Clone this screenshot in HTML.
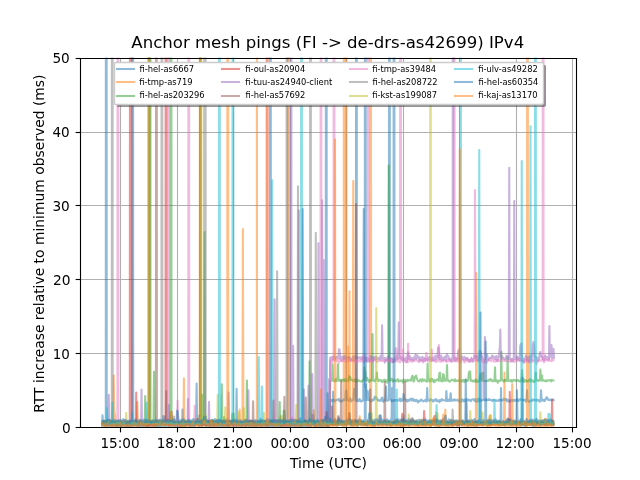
<!DOCTYPE html>
<html><head><meta charset="utf-8"><title>Anchor mesh pings</title>
<style>html,body{margin:0;padding:0;background:#fff;width:640px;height:480px;overflow:hidden}
svg{display:block;width:640px;height:480px}</style></head>
<body>
<svg width="460.8pt" height="345.6pt" viewBox="0 0 460.8 345.6" version="1.1">
 
 <defs>
  <style type="text/css">*{stroke-linejoin: round; stroke-linecap: butt}</style>
 </defs>
 <g id="figure_1">
  <g id="patch_1">
   <path d="M 0 345.6 
L 460.8 345.6 
L 460.8 0 
L 0 0 
z
" style="fill: #ffffff"/>
  </g>
  <g id="axes_1">
   <g id="patch_2">
    <path d="M 57.6 307.584 
L 414.72 307.584 
L 414.72 41.472 
L 57.6 41.472 
z
" style="fill: #ffffff"/>
   </g>
   <g id="matplotlib.axis_1">
    <g id="xtick_1">
     <g id="line2d_1">
      <path d="M 86.7600 307.8000 
L 86.7600 42.1200 
" clip-path="url(#p02d3b5d28d)" style="fill: none; stroke: #b0b0b0; stroke-width: 0.8; stroke-linecap: square"/>
     </g>
     <g id="line2d_2">
      <defs>
       <path id="m1504cfccaf" d="M 0 0 
L 0 3.5 
" style="stroke: #000000; stroke-width: 0.8"/>
      </defs>
      <g>
       <use href="#m1504cfccaf" x="86.7600" y="307.8000" style="stroke: #000000; stroke-width: 0.8"/>
      </g>
     </g>
     <g id="text_1">
      <text textLength="28.224" lengthAdjust="spacingAndGlyphs" style="font-size: 10px; font-family: 'DejaVu Sans', 'Bitstream Vera Sans', 'Computer Modern Sans Serif', 'Lucida Grande', 'Verdana', 'Geneva', 'Lucid', 'Arial', 'Helvetica', 'Avant Garde', sans-serif; text-anchor: middle" x="86.4" y="322.504" transform="rotate(-0 86.4 322.504)">15:00</text>
     </g>
    </g>
    <g id="xtick_2">
     <g id="line2d_3">
      <path d="M 127.8000 307.8000 
L 127.8000 42.1200 
" clip-path="url(#p02d3b5d28d)" style="fill: none; stroke: #b0b0b0; stroke-width: 0.8; stroke-linecap: square"/>
     </g>
     <g id="line2d_4">
      <g>
       <use href="#m1504cfccaf" x="127.8000" y="307.8000" style="stroke: #000000; stroke-width: 0.8"/>
      </g>
     </g>
     <g id="text_2" transform="translate(-0.1800 0.0000)">
      <text textLength="28.080" lengthAdjust="spacingAndGlyphs" style="font-size: 10px; font-family: 'DejaVu Sans', 'Bitstream Vera Sans', 'Computer Modern Sans Serif', 'Lucida Grande', 'Verdana', 'Geneva', 'Lucid', 'Arial', 'Helvetica', 'Avant Garde', sans-serif; text-anchor: middle" x="127.08" y="322.504" transform="rotate(-0 127.08 322.504)">18:00</text>
     </g>
    </g>
    <g id="xtick_3">
     <g id="line2d_5">
      <path d="M 168.1200 307.8000 
L 168.1200 42.1200 
" clip-path="url(#p02d3b5d28d)" style="fill: none; stroke: #b0b0b0; stroke-width: 0.8; stroke-linecap: square"/>
     </g>
     <g id="line2d_6">
      <g>
       <use href="#m1504cfccaf" x="168.1200" y="307.8000" style="stroke: #000000; stroke-width: 0.8"/>
      </g>
     </g>
     <g id="text_3">
      <text textLength="28.656" lengthAdjust="spacingAndGlyphs" style="font-size: 10px; font-family: 'DejaVu Sans', 'Bitstream Vera Sans', 'Computer Modern Sans Serif', 'Lucida Grande', 'Verdana', 'Geneva', 'Lucid', 'Arial', 'Helvetica', 'Avant Garde', sans-serif; text-anchor: middle" x="167.76" y="322.504" transform="rotate(-0 167.76 322.504)">21:00</text>
     </g>
    </g>
    <g id="xtick_4">
     <g id="line2d_7">
      <path d="M 209.1600 307.8000 
L 209.1600 42.1200 
" clip-path="url(#p02d3b5d28d)" style="fill: none; stroke: #b0b0b0; stroke-width: 0.8; stroke-linecap: square"/>
     </g>
     <g id="line2d_8">
      <g>
       <use href="#m1504cfccaf" x="209.1600" y="307.8000" style="stroke: #000000; stroke-width: 0.8"/>
      </g>
     </g>
     <g id="text_4" transform="translate(0.3600 0.0000)">
      <text textLength="28.224" lengthAdjust="spacingAndGlyphs" style="font-size: 10px; font-family: 'DejaVu Sans', 'Bitstream Vera Sans', 'Computer Modern Sans Serif', 'Lucida Grande', 'Verdana', 'Geneva', 'Lucid', 'Arial', 'Helvetica', 'Avant Garde', sans-serif; text-anchor: middle" x="208.44" y="322.504" transform="rotate(-0 208.44 322.504)">00:00</text>
     </g>
    </g>
    <g id="xtick_5">
     <g id="line2d_9">
      <path d="M 249.4800 307.8000 
L 249.4800 42.1200 
" clip-path="url(#p02d3b5d28d)" style="fill: none; stroke: #b0b0b0; stroke-width: 0.8; stroke-linecap: square"/>
     </g>
     <g id="line2d_10">
      <g>
       <use href="#m1504cfccaf" x="249.4800" y="307.8000" style="stroke: #000000; stroke-width: 0.8"/>
      </g>
     </g>
     <g id="text_5">
      <text textLength="28.224" lengthAdjust="spacingAndGlyphs" style="font-size: 10px; font-family: 'DejaVu Sans', 'Bitstream Vera Sans', 'Computer Modern Sans Serif', 'Lucida Grande', 'Verdana', 'Geneva', 'Lucid', 'Arial', 'Helvetica', 'Avant Garde', sans-serif; text-anchor: middle" x="249.12" y="322.504" transform="rotate(-0 249.12 322.504)">03:00</text>
     </g>
    </g>
    <g id="xtick_6">
     <g id="line2d_11">
      <path d="M 290.5200 307.8000 
L 290.5200 42.1200 
" clip-path="url(#p02d3b5d28d)" style="fill: none; stroke: #b0b0b0; stroke-width: 0.8; stroke-linecap: square"/>
     </g>
     <g id="line2d_12">
      <g>
       <use href="#m1504cfccaf" x="290.5200" y="307.8000" style="stroke: #000000; stroke-width: 0.8"/>
      </g>
     </g>
     <g id="text_6" transform="translate(-0.1800 0.0000)">
      <text textLength="28.080" lengthAdjust="spacingAndGlyphs" style="font-size: 10px; font-family: 'DejaVu Sans', 'Bitstream Vera Sans', 'Computer Modern Sans Serif', 'Lucida Grande', 'Verdana', 'Geneva', 'Lucid', 'Arial', 'Helvetica', 'Avant Garde', sans-serif; text-anchor: middle" x="289.8" y="322.504" transform="rotate(-0 289.8 322.504)">06:00</text>
     </g>
    </g>
    <g id="xtick_7">
     <g id="line2d_13">
      <path d="M 330.8400 307.8000 
L 330.8400 42.1200 
" clip-path="url(#p02d3b5d28d)" style="fill: none; stroke: #b0b0b0; stroke-width: 0.8; stroke-linecap: square"/>
     </g>
     <g id="line2d_14">
      <g>
       <use href="#m1504cfccaf" x="330.8400" y="307.8000" style="stroke: #000000; stroke-width: 0.8"/>
      </g>
     </g>
     <g id="text_7">
      <text textLength="28.224" lengthAdjust="spacingAndGlyphs" style="font-size: 10px; font-family: 'DejaVu Sans', 'Bitstream Vera Sans', 'Computer Modern Sans Serif', 'Lucida Grande', 'Verdana', 'Geneva', 'Lucid', 'Arial', 'Helvetica', 'Avant Garde', sans-serif; text-anchor: middle" x="330.48" y="322.504" transform="rotate(-0 330.48 322.504)">09:00</text>
     </g>
    </g>
    <g id="xtick_8">
     <g id="line2d_15">
      <path d="M 371.8800 307.8000 
L 371.8800 42.1200 
" clip-path="url(#p02d3b5d28d)" style="fill: none; stroke: #b0b0b0; stroke-width: 0.8; stroke-linecap: square"/>
     </g>
     <g id="line2d_16">
      <g>
       <use href="#m1504cfccaf" x="371.8800" y="307.8000" style="stroke: #000000; stroke-width: 0.8"/>
      </g>
     </g>
     <g id="text_8" transform="translate(-0.3600 0.0000)">
      <text textLength="28.224" lengthAdjust="spacingAndGlyphs" style="font-size: 10px; font-family: 'DejaVu Sans', 'Bitstream Vera Sans', 'Computer Modern Sans Serif', 'Lucida Grande', 'Verdana', 'Geneva', 'Lucid', 'Arial', 'Helvetica', 'Avant Garde', sans-serif; text-anchor: middle" x="371.16" y="322.504" transform="rotate(-0 371.16 322.504)">12:00</text>
     </g>
    </g>
    <g id="xtick_9">
     <g id="line2d_17">
      <path d="M 412.2000 307.8000 
L 412.2000 42.1200 
" clip-path="url(#p02d3b5d28d)" style="fill: none; stroke: #b0b0b0; stroke-width: 0.8; stroke-linecap: square"/>
     </g>
     <g id="line2d_18">
      <g>
       <use href="#m1504cfccaf" x="412.2000" y="307.8000" style="stroke: #000000; stroke-width: 0.8"/>
      </g>
     </g>
     <g id="text_9">
      <text textLength="28.224" lengthAdjust="spacingAndGlyphs" style="font-size: 10px; font-family: 'DejaVu Sans', 'Bitstream Vera Sans', 'Computer Modern Sans Serif', 'Lucida Grande', 'Verdana', 'Geneva', 'Lucid', 'Arial', 'Helvetica', 'Avant Garde', sans-serif; text-anchor: middle" x="411.84" y="322.504" transform="rotate(-0 411.84 322.504)">15:00</text>
     </g>
    </g>
    <g id="text_10" transform="translate(0.3600 0.3600)">
     <text textLength="55.364" lengthAdjust="spacingAndGlyphs" style="font-size: 10px; font-family: 'DejaVu Sans', 'Bitstream Vera Sans', 'Computer Modern Sans Serif', 'Lucida Grande', 'Verdana', 'Geneva', 'Lucid', 'Arial', 'Helvetica', 'Avant Garde', sans-serif; text-anchor: middle" x="236.16" y="336.584" transform="rotate(-0 236.16 336.584)">Time (UTC)</text>
    </g>
   </g>
   <g id="matplotlib.axis_2">
    <g id="ytick_1">
     <g id="line2d_19">
      <path d="M 57.9600 307.8000 
L 415.0800 307.8000 
" clip-path="url(#p02d3b5d28d)" style="fill: none; stroke: #b0b0b0; stroke-width: 0.8; stroke-linecap: square"/>
     </g>
     <g id="line2d_20">
      <defs>
       <path id="m5d545ce8f8" d="M 0 0 
L -3.5 0 
" style="stroke: #000000; stroke-width: 0.8"/>
      </defs>
      <g>
       <use href="#m5d545ce8f8" x="57.9600" y="307.8000" style="stroke: #000000; stroke-width: 0.8"/>
      </g>
     </g>
     <g id="text_11" transform="translate(0.3600 0.0000)">
      <text textLength="6.293" lengthAdjust="spacingAndGlyphs" style="font-size: 10px; font-family: 'DejaVu Sans', 'Bitstream Vera Sans', 'Computer Modern Sans Serif', 'Lucida Grande', 'Verdana', 'Geneva', 'Lucid', 'Arial', 'Helvetica', 'Avant Garde', sans-serif; text-anchor: end" x="50.6" y="311.544" transform="rotate(-0 50.6 311.544)">0</text>
     </g>
    </g>
    <g id="ytick_2">
     <g id="line2d_21">
      <path d="M 57.9600 254.5200 
L 415.0800 254.5200 
" clip-path="url(#p02d3b5d28d)" style="fill: none; stroke: #b0b0b0; stroke-width: 0.8; stroke-linecap: square"/>
     </g>
     <g id="line2d_22">
      <g>
       <use href="#m5d545ce8f8" x="57.9600" y="254.5200" style="stroke: #000000; stroke-width: 0.8"/>
      </g>
     </g>
     <g id="text_12" transform="translate(-0.3600 0.0000)">
      <text textLength="12.331" lengthAdjust="spacingAndGlyphs" style="font-size: 10px; font-family: 'DejaVu Sans', 'Bitstream Vera Sans', 'Computer Modern Sans Serif', 'Lucida Grande', 'Verdana', 'Geneva', 'Lucid', 'Arial', 'Helvetica', 'Avant Garde', sans-serif; text-anchor: end" x="50.6" y="258.3216" transform="rotate(-0 50.6 258.3216)">10</text>
     </g>
    </g>
    <g id="ytick_3">
     <g id="line2d_23">
      <path d="M 57.9600 201.2400 
L 415.0800 201.2400 
" clip-path="url(#p02d3b5d28d)" style="fill: none; stroke: #b0b0b0; stroke-width: 0.8; stroke-linecap: square"/>
     </g>
     <g id="line2d_24">
      <g>
       <use href="#m5d545ce8f8" x="57.9600" y="201.2400" style="stroke: #000000; stroke-width: 0.8"/>
      </g>
     </g>
     <g id="text_13" transform="translate(0.1800 0.0000)">
      <text textLength="12.649" lengthAdjust="spacingAndGlyphs" style="font-size: 10px; font-family: 'DejaVu Sans', 'Bitstream Vera Sans', 'Computer Modern Sans Serif', 'Lucida Grande', 'Verdana', 'Geneva', 'Lucid', 'Arial', 'Helvetica', 'Avant Garde', sans-serif; text-anchor: end" x="50.6" y="205.0992" transform="rotate(-0 50.6 205.0992)">20</text>
     </g>
    </g>
    <g id="ytick_4">
     <g id="line2d_25">
      <path d="M 57.9600 147.9600 
L 415.0800 147.9600 
" clip-path="url(#p02d3b5d28d)" style="fill: none; stroke: #b0b0b0; stroke-width: 0.8; stroke-linecap: square"/>
     </g>
     <g id="line2d_26">
      <g>
       <use href="#m5d545ce8f8" x="57.9600" y="147.9600" style="stroke: #000000; stroke-width: 0.8"/>
      </g>
     </g>
     <g id="text_14" transform="translate(-0.3600 0.0000)">
      <text textLength="12.522" lengthAdjust="spacingAndGlyphs" style="font-size: 10px; font-family: 'DejaVu Sans', 'Bitstream Vera Sans', 'Computer Modern Sans Serif', 'Lucida Grande', 'Verdana', 'Geneva', 'Lucid', 'Arial', 'Helvetica', 'Avant Garde', sans-serif; text-anchor: end" x="50.6" y="151.8768" transform="rotate(-0 50.6 151.8768)">30</text>
     </g>
    </g>
    <g id="ytick_5">
     <g id="line2d_27">
      <path d="M 57.9600 95.4000 
L 415.0800 95.4000 
" clip-path="url(#p02d3b5d28d)" style="fill: none; stroke: #b0b0b0; stroke-width: 0.8; stroke-linecap: square"/>
     </g>
     <g id="line2d_28">
      <g>
       <use href="#m5d545ce8f8" x="57.9600" y="95.4000" style="stroke: #000000; stroke-width: 0.8"/>
      </g>
     </g>
     <g id="text_15" transform="translate(-0.3600 0.0000)">
      <text textLength="12.458" lengthAdjust="spacingAndGlyphs" style="font-size: 10px; font-family: 'DejaVu Sans', 'Bitstream Vera Sans', 'Computer Modern Sans Serif', 'Lucida Grande', 'Verdana', 'Geneva', 'Lucid', 'Arial', 'Helvetica', 'Avant Garde', sans-serif; text-anchor: end" x="50.6" y="98.6544" transform="rotate(-0 50.6 98.6544)">40</text>
     </g>
    </g>
    <g id="ytick_6">
     <g id="line2d_29">
      <path d="M 57.9600 42.1200 
L 415.0800 42.1200 
" clip-path="url(#p02d3b5d28d)" style="fill: none; stroke: #b0b0b0; stroke-width: 0.8; stroke-linecap: square"/>
     </g>
     <g id="line2d_30">
      <g>
       <use href="#m5d545ce8f8" x="57.9600" y="42.1200" style="stroke: #000000; stroke-width: 0.8"/>
      </g>
     </g>
     <g id="text_16" transform="translate(-0.3600 0.0000)">
      <text textLength="12.522" lengthAdjust="spacingAndGlyphs" style="font-size: 10px; font-family: 'DejaVu Sans', 'Bitstream Vera Sans', 'Computer Modern Sans Serif', 'Lucida Grande', 'Verdana', 'Geneva', 'Lucid', 'Arial', 'Helvetica', 'Avant Garde', sans-serif; text-anchor: end" x="50.6" y="45.432" transform="rotate(-0 50.6 45.432)">50</text>
     </g>
    </g>
    <g id="text_17" transform="translate(-0.3600 0.9000)">
     <text style="font-size: 10px; font-family: 'DejaVu Sans', 'Bitstream Vera Sans', 'Computer Modern Sans Serif', 'Lucida Grande', 'Verdana', 'Geneva', 'Lucid', 'Arial', 'Helvetica', 'Avant Garde', sans-serif; text-anchor: middle" x="31.75" y="174.528" transform="rotate(-90 31.75 174.528)">RTT increase relative to minimum observed (ms)</text>
    </g>
   </g>
   <g id="line2d_31">
    <path d="M 73.476 306.492255 
L 73.8 299.068416 
L 74.124 305.434017 
L 74.703255 305.541813 
L 75.154882 306.926949 
L 75.606509 306.757432 
L 76.176 306.940582 
L 76.238513 -1 
M 76.761549 -1 
L 76.824 306.56431 
L 76.961391 306.56431 
L 77.413018 305.923286 
L 77.864645 307.584 
L 78.316273 305.26892 
L 78.7679 306.596537 
L 79.219527 305.976381 
L 79.671154 306.628578 
L 80.122782 306.8222 
L 80.574409 306.149834 
L 81.026036 305.861313 
L 81.477663 306.681239 
L 81.929291 306.641527 
L 82.380918 305.972134 
L 82.832545 307.214376 
L 83.284172 307.584 
L 83.7358 306.204224 
L 84.187427 307.054889 
L 84.639054 307.584 
L 85.542309 306.892852 
L 85.993936 307.472128 
L 86.445563 307.584 
L 86.897191 306.490303 
L 87.348818 305.803246 
L 87.800445 306.70567 
L 88.252072 307.113191 
L 88.7037 306.212198 
L 89.155327 305.946957 
L 89.606954 306.759061 
L 90.058581 306.084724 
L 90.510209 305.686987 
L 90.961836 306.684773 
L 91.413463 307.169011 
L 91.86509 306.24201 
L 92.316718 306.321927 
L 92.768345 305.64233 
L 93.219972 307.545079 
L 93.671599 307.047741 
L 94.123227 307.188691 
L 94.574854 307.584 
L 95.026481 306.418615 
L 95.478108 306.098187 
L 95.929736 307.109355 
L 96.381363 305.41334 
L 96.83299 305.86338 
L 97.736245 306.198855 
L 98.187872 305.756607 
L 98.639499 307.582919 
L 99.091127 306.02943 
L 99.542754 306.038334 
L 99.994381 307.584 
L 100.446008 306.242505 
L 100.897636 306.719472 
L 101.349263 305.895634 
L 101.80089 306.870071 
L 102.704145 306.245841 
L 103.155772 307.219103 
L 103.607399 306.041671 
L 104.059026 306.603348 
L 104.510654 306.126385 
L 104.962281 306.936154 
L 105.413908 305.652398 
L 105.865535 306.036397 
L 106.317163 306.661676 
L 107.220417 305.513844 
L 107.672045 305.089592 
L 108.123672 307.584 
L 108.575299 305.814516 
L 109.478554 306.594484 
L 109.930181 307.323209 
L 110.381808 305.515893 
L 110.833435 307.526843 
L 111.285063 306.066939 
L 111.73669 305.480224 
L 112.188317 307.584 
L 112.639944 306.761063 
L 113.091572 307.564747 
L 113.994826 305.310572 
L 114.446453 304.904074 
L 114.898081 307.584 
L 115.349708 306.978554 
L 115.801335 305.957887 
L 116.252962 305.258682 
L 117.156217 307.115232 
L 117.607844 299.584349 
L 118.511099 299.984213 
L 118.962726 307.105907 
L 119.414353 306.210389 
L 119.865981 306.273761 
L 120.317608 306.593785 
L 120.769235 306.696533 
L 121.220862 307.545347 
L 121.356 307.545347 
L 121.68 291.61728 
L 122.004 305.5564 
L 122.124117 305.5564 
L 123.027371 307.584 
L 123.478999 305.454218 
L 123.930626 306.096222 
L 124.382253 304.83659 
L 124.83388 306.469646 
L 125.285508 306.887892 
L 125.737135 307.584 
L 126.188762 305.462684 
L 126.640389 304.468218 
L 127.092017 307.174934 
L 127.543644 307.036145 
L 127.995271 306.043593 
L 128.446898 307.182447 
L 128.898526 306.735548 
L 129.350153 306.79884 
L 129.80178 306.366304 
L 130.253408 305.645519 
L 130.705035 306.501935 
L 131.076 306.501935 
L 131.4 294.810624 
L 131.724 306.257859 
L 132.059917 306.257859 
L 132.511544 307.584 
L 132.963171 307.584 
L 133.414798 305.884146 
L 133.866426 306.99069 
L 134.318053 306.056585 
L 134.76968 306.086579 
L 135.221307 305.463929 
L 135.672935 305.871416 
L 136.124562 305.707651 
L 136.576189 306.608703 
L 137.027816 307.077018 
L 137.479444 307.103582 
L 137.931071 306.909175 
L 138.382698 307.421535 
L 139.285953 306.593453 
L 139.73758 306.318681 
L 140.189207 306.790101 
L 140.640834 304.39557 
L 141.092462 303.388828 
L 141.228 303.388828 
L 141.552 276.182784 
L 141.876 305.653776 
L 141.995716 305.653776 
L 142.447344 306.058222 
L 142.898971 307.03333 
L 143.350598 307.097369 
L 143.802225 304.91442 
L 144.253853 305.915501 
L 144.70548 305.057448 
L 145.157107 304.81954 
L 145.608734 307.172658 
L 146.060362 306.211978 
L 147.415243 306.086932 
L 147.866871 306.358245 
L 148.318498 306.380538 
L 148.770125 307.584 
L 149.221752 306.651598 
L 149.67338 307.116404 
L 150.125007 306.418892 
L 150.576634 306.892811 
L 151.028261 306.025765 
L 151.479889 305.865654 
L 151.931516 306.273112 
L 152.383143 306.267144 
L 152.834771 306.445349 
L 153.286398 306.877045 
L 153.738025 306.650879 
L 154.189652 306.915244 
L 154.64128 306.209808 
L 155.092907 306.508285 
L 155.544534 306.055486 
L 155.996161 307.58026 
L 156.447789 305.810806 
L 156.899416 307.12844 
L 157.351043 307.105756 
L 157.80267 306.677178 
L 158.254298 306.969322 
L 158.705925 306.287136 
L 159.157552 306.977928 
L 159.609179 307.373354 
L 160.060807 307.194787 
L 160.512434 305.472148 
L 161.415688 307.451633 
L 161.867316 306.512864 
L 162.318943 307.584 
L 162.77057 305.090877 
L 163.222197 307.584 
L 163.673825 306.137346 
L 164.125452 306.085556 
L 164.577079 307.584 
L 165.028707 306.27983 
L 165.480334 305.723474 
L 165.931961 306.14627 
L 166.383588 306.311173 
L 166.835216 305.761854 
L 167.286843 306.391096 
L 167.73847 306.250972 
L 168.190097 306.62071 
L 168.641725 306.015159 
L 169.093352 307.271093 
L 169.544979 305.887459 
L 170.028 306.922952 
L 170.352 279.908352 
L 170.676 306.227961 
L 170.899861 306.227961 
L 171.351488 305.168005 
L 171.803115 305.75181 
L 172.254743 306.931214 
L 172.70637 305.962266 
L 173.157997 306.882163 
L 174.061252 306.448078 
L 174.512879 307.584 
L 174.964506 306.366579 
L 175.416134 307.341526 
L 175.867761 307.07631 
L 176.319388 307.584 
L 176.771015 307.584 
L 177.222643 307.272594 
L 177.67427 305.860448 
L 178.125897 305.189491 
L 178.577524 306.539674 
L 179.029152 305.647936 
L 179.932406 307.584 
L 180.384033 306.399868 
L 180.835661 306.163775 
L 181.287288 306.861732 
L 181.738915 306.278276 
L 182.190542 306.06246 
L 182.64217 307.208841 
L 183.093797 307.584 
L 183.545424 306.696187 
L 183.997051 306.688049 
L 184.448679 306.801096 
L 184.900306 305.731397 
L 185.351933 305.141952 
L 185.803561 306.852176 
L 186.255188 305.961606 
L 186.706815 305.768373 
L 187.158442 305.950214 
L 187.61007 305.683306 
L 188.061697 306.830299 
L 188.964951 304.903335 
L 189.868206 307.014435 
L 190.319833 306.034393 
L 190.77146 305.511748 
L 191.674715 306.969335 
L 192.126342 305.287655 
L 192.577969 307.517286 
L 193.029597 306.11765 
L 193.481224 306.532466 
L 193.932851 307.472498 
L 194.364 307.472498 
L 194.4266 -1 
M 194.949403 -1 
L 195.012 307.451049 
L 195.287733 307.451049 
L 195.73936 306.039171 
L 196.642615 307.584 
L 197.094242 307.06953 
L 197.545869 306.309149 
L 197.997497 306.012048 
L 198.449124 306.387376 
L 198.900751 306.483495 
L 199.352378 306.144342 
L 199.804006 306.687982 
L 200.255633 305.579947 
L 200.70726 306.400886 
L 201.610515 306.087813 
L 202.062142 307.363528 
L 202.513769 307.085753 
L 202.965396 305.299232 
L 203.417024 306.251863 
L 203.868651 306.745175 
L 204.320278 306.246933 
L 204.771905 306.904048 
L 205.223533 306.297163 
L 205.67516 307.051141 
L 206.126787 306.299196 
L 206.578414 307.584 
L 207.030042 305.457031 
L 207.481669 306.929065 
L 207.933296 307.584 
L 208.384924 306.698253 
L 208.836551 306.815732 
L 209.288178 306.397887 
L 209.739805 307.433847 
L 210.191433 306.202241 
L 210.64306 303.626727 
L 211.094687 307.540358 
L 211.546314 306.249941 
L 211.997942 306.76761 
L 212.449569 306.365786 
L 212.901196 307.584 
L 213.352823 307.438444 
L 213.804451 306.152589 
L 214.256078 306.550222 
L 214.707705 305.214082 
L 215.159332 307.082217 
L 215.61096 306.380243 
L 216.062587 304.193902 
L 216.514214 307.130727 
L 216.965841 307.241115 
L 217.417469 306.547598 
L 217.869096 306.555128 
L 218.320723 305.845623 
L 219.223978 307.123684 
L 219.675605 306.350767 
L 220.127232 304.413065 
L 220.57886 305.504249 
L 221.030487 307.584 
L 221.482114 306.632929 
L 221.933741 307.218168 
L 222.385369 306.022777 
L 222.836996 306.657874 
L 223.288623 304.976611 
L 223.74025 305.776113 
L 224.191878 305.808711 
L 224.643505 298.780379 
L 225.095132 298.961497 
L 225.546759 298.657748 
L 225.998387 305.485484 
L 226.901641 306.799874 
L 227.353268 305.501606 
L 227.804896 306.366183 
L 228.256523 306.581515 
L 228.70815 307.151337 
L 229.159777 306.971404 
L 229.611405 307.027331 
L 230.063032 307.584 
L 230.514659 305.707767 
L 230.966287 306.067313 
L 231.417914 306.690612 
L 231.869541 302.253542 
L 232.321168 302.738928 
L 232.772796 306.222916 
L 233.224423 307.584 
L 233.67605 306.705577 
L 234.127677 306.094686 
L 234.576 306.094686 
L 234.638374 -1 
M 235.161743 -1 
L 235.224 305.381254 
L 235.482559 305.381254 
L 235.934186 307.446907 
L 236.385814 307.584 
L 236.837441 306.064126 
L 237.289068 306.497505 
L 237.740695 287.903045 
L 238.192323 288.740335 
L 238.64395 287.94065 
L 239.095577 288.768078 
L 239.547204 287.986959 
L 239.998832 288.432233 
L 240.450459 287.627457 
L 240.902086 288.163183 
L 241.353713 289.081354 
L 241.805341 288.297508 
L 242.708595 287.790957 
L 243.160223 287.626828 
L 243.61185 288.022783 
L 244.063477 287.198323 
L 244.515104 288.888986 
L 244.966732 288.332367 
L 245.418359 288.963473 
L 245.869986 288.572784 
L 246.321613 288.867182 
L 246.773241 288.642889 
L 247.224868 287.685002 
L 247.676495 288.293832 
L 248.128122 287.461616 
L 248.57975 288.019605 
L 249.031377 281.481253 
L 249.483004 281.121758 
L 249.934631 288.495771 
L 250.386259 288.320622 
L 250.837886 287.642578 
L 251.74114 288.490359 
L 252.192768 286.630711 
L 252.644395 289.138474 
L 253.096022 288.187836 
L 253.54765 288.066192 
L 253.999277 288.337494 
L 254.450904 287.949615 
L 254.902531 279.954424 
L 255.354159 279.823266 
L 255.805786 279.868937 
L 256.284 288.357385 
L 256.343433 -1 
M 256.872481 -1 
L 256.932 288.874622 
L 257.160668 288.874622 
L 257.612295 288.048891 
L 258.063922 288.771429 
L 258.515549 287.592096 
L 258.967177 287.336031 
L 259.418804 288.512749 
L 259.870431 289.057992 
L 260.322058 289.081608 
L 260.773686 288.457122 
L 261.576 288.390612 
L 261.9 150.57792 
L 262.224 278.408116 
L 262.580195 278.408116 
L 263.031822 278.677158 
L 263.483449 276.813357 
L 263.935076 288.139235 
L 264.386704 281.258728 
L 264.838331 281.745146 
L 265.289958 288.028998 
L 265.741586 288.201829 
L 266.193213 287.872234 
L 266.64484 288.229771 
L 267.096467 288.980557 
L 267.548095 288.91993 
L 267.999722 287.732163 
L 268.451349 287.845458 
L 268.902976 288.212493 
L 269.354604 287.865507 
L 269.806231 285.664615 
L 270.257858 286.903556 
L 270.709485 285.764198 
L 271.161113 287.194985 
L 271.61274 287.47951 
L 272.064367 288.372752 
L 272.515994 287.836006 
L 273.419249 288.720788 
L 274.322503 288.437655 
L 274.774131 286.529445 
L 275.225758 286.315755 
L 275.677385 288.900294 
L 276.129013 289.212856 
L 276.58064 288.606341 
L 277.032267 287.650732 
L 277.483894 288.141659 
L 277.935522 278.366608 
L 278.387149 288.471509 
L 278.838776 288.538755 
L 279.742031 288.059292 
L 280.044 288.059292 
L 280.103383 -1 
M 280.632711 -1 
L 280.692 287.501549 
L 281.096912 287.501549 
L 281.54854 287.8286 
L 282.000167 289.054548 
L 282.451794 288.365569 
L 282.903421 288.282659 
L 283.355049 288.758755 
L 283.806676 288.047241 
L 284.258303 288.382008 
L 285.161558 288.081032 
L 285.613185 288.580988 
L 286.064812 287.956716 
L 286.516439 288.463972 
L 287.419694 288.006404 
L 287.871321 286.960733 
L 288.322949 288.84177 
L 288.774576 287.372411 
L 289.67783 288.627517 
L 290.129458 288.361146 
L 290.581085 283.638429 
L 291.032712 287.690387 
L 291.935967 287.806228 
L 292.387594 287.700072 
L 292.839221 288.747229 
L 293.290848 289.118422 
L 293.742476 287.890209 
L 294.64573 288.635224 
L 295.097357 287.546918 
L 295.548985 287.094557 
L 296.000612 287.448648 
L 296.452239 288.350085 
L 296.903866 287.037952 
L 297.355494 287.297867 
L 297.807121 288.756367 
L 298.258748 287.962839 
L 298.710376 288.190698 
L 299.162003 288.790453 
L 299.61363 287.935273 
L 300.065257 287.961619 
L 300.516885 289.033158 
L 300.968512 289.7871 
L 301.420139 288.735775 
L 301.871766 288.547774 
L 302.323394 288.778629 
L 302.775021 288.431229 
L 303.226648 287.532796 
L 304.58153 289.024481 
L 305.033157 288.575754 
L 305.484784 288.613888 
L 305.936412 288.337171 
L 306.388039 287.731356 
L 306.839666 288.995574 
L 307.26 288.995574 
L 307.584 279.376128 
L 307.908 288.008895 
L 308.646175 288.092395 
L 309.097803 288.684295 
L 309.54943 288.472988 
L 310.001057 287.237665 
L 310.452684 288.073284 
L 310.904312 287.95702 
L 311.355939 288.313707 
L 311.807566 289.160477 
L 312.259193 288.152411 
L 312.710821 288.093419 
L 313.162448 288.453415 
L 313.614075 287.42753 
L 314.065702 287.742432 
L 314.51733 288.92901 
L 314.968957 288.287081 
L 315.420584 288.752002 
L 315.872211 288.269044 
L 316.323839 289.646365 
L 316.775466 288.053338 
L 317.227093 288.066833 
L 317.67872 288.705667 
L 318.130348 287.329559 
L 318.581975 287.891519 
L 319.033602 288.146591 
L 319.485229 288.06616 
L 320.388484 288.476213 
L 321.084 288.379489 
L 321.408 281.505024 
L 321.743366 288.684753 
L 322.194993 288.745857 
L 322.64662 287.572977 
L 323.098248 288.524911 
L 323.549875 288.064022 
L 324.001502 288.709242 
L 324.453129 283.096971 
L 324.904757 288.522524 
L 325.356384 288.521986 
L 326.259638 288.008043 
L 326.711266 288.292506 
L 327.162893 287.432915 
L 327.61452 288.012585 
L 328.066147 288.398914 
L 328.517775 288.09658 
L 328.969402 287.974176 
L 329.421029 287.731094 
L 330.324284 289.038338 
L 330.775911 289.021577 
L 331.227538 289.164604 
L 331.679166 287.614445 
L 332.130793 289.173091 
L 332.58242 287.486817 
L 333.034047 288.110083 
L 333.485675 287.811 
L 333.937302 289.047265 
L 334.840556 287.644916 
L 335.292184 288.600642 
L 335.743811 287.389223 
L 336.195438 287.905662 
L 336.647065 288.205293 
L 337.098693 287.494197 
L 337.55032 288.248137 
L 338.001947 288.03632 
L 338.453574 287.951373 
L 338.905202 288.863403 
L 339.356829 288.001568 
L 339.808456 287.616388 
L 340.260083 287.664235 
L 340.711711 287.375738 
L 341.614965 288.631192 
L 342.066592 287.254295 
L 342.51822 289.059534 
L 342.969847 287.850951 
L 343.421474 289.359132 
L 344.324729 287.044012 
L 344.776356 288.988168 
L 345.227983 287.261009 
L 345.679611 288.337743 
L 346.131238 288.550906 
L 346.582865 288.264815 
L 347.034492 288.277295 
L 347.48612 287.896392 
L 347.937747 287.808527 
L 348.841001 288.00888 
L 349.292629 288.26793 
L 349.744256 287.238894 
L 350.195883 287.573272 
L 350.64751 288.207033 
L 351.550765 287.932625 
L 352.002392 287.289008 
L 352.454019 288.051016 
L 352.905647 288.055397 
L 353.357274 287.824268 
L 353.808901 287.948812 
L 354.260529 288.562384 
L 354.712156 288.766024 
L 355.163783 287.736835 
L 355.61541 287.946456 
L 356.067038 288.033137 
L 356.970292 288.542902 
L 357.421919 288.287901 
L 357.873547 288.616034 
L 358.325174 288.621822 
L 358.776801 288.345301 
L 359.228428 287.864266 
L 359.680056 288.506175 
L 360.131683 287.83936 
L 360.58331 287.703587 
L 361.486565 288.441465 
L 361.938192 287.849821 
L 362.389819 287.832237 
L 362.841446 287.072108 
L 363.293074 288.149576 
L 363.744701 287.673075 
L 364.647955 287.290874 
L 365.099583 289.060057 
L 365.55121 287.930373 
L 366.002837 288.242155 
L 366.454465 288.415079 
L 366.906092 289.435915 
L 367.357719 288.600257 
L 367.809346 288.374005 
L 368.260974 287.810886 
L 368.712601 288.628842 
L 369.164228 287.919902 
L 369.615855 288.84334 
L 370.067483 288.196677 
L 370.51911 287.93803 
L 370.970737 288.538786 
L 371.422364 288.478075 
L 371.873992 288.086212 
L 372.325619 287.26318 
L 373.228873 288.800785 
L 373.680501 288.142786 
L 374.583755 287.328026 
L 375.035382 287.958191 
L 375.938637 288.004261 
L 376.390264 287.877571 
L 376.841892 287.933311 
L 377.293519 288.321545 
L 377.745146 287.701562 
L 378.648401 289.107515 
L 379.116 288.474365 
L 379.44 280.9728 
L 379.764 287.962706 
L 380.003282 287.962706 
L 380.906537 289.511113 
L 381.358164 288.859272 
L 381.809791 288.411502 
L 382.261419 288.728234 
L 382.713046 288.701626 
L 383.164673 287.767324 
L 383.6163 288.501326 
L 384.067928 287.667015 
L 384.519555 287.817387 
L 384.971182 287.786772 
L 385.422809 288.206155 
L 385.874437 288.447255 
L 386.326064 287.664968 
L 386.777691 288.425609 
L 387.229318 287.934149 
L 387.680946 288.06826 
L 388.132573 288.472009 
L 388.5842 289.338263 
L 389.035828 288.137298 
L 389.196 288.137298 
L 389.52 280.9728 
L 389.939082 288.448674 
L 390.390709 287.513242 
L 390.842337 288.308397 
L 391.293964 288.485161 
L 391.745591 287.788266 
L 392.197218 288.792402 
L 393.5521 285.978276 
L 394.003727 286.423018 
L 394.455355 287.731262 
L 394.906982 287.571248 
L 395.358609 288.165677 
L 396.713491 287.587793 
L 397.165118 288.32614 
L 397.616745 288.079226 
L 398.068373 287.479434 
L 398.52 288.019157 
L 398.52 288.019157 
" clip-path="url(#p02d3b5d28d)" style="fill: none; stroke: #1f77b4; stroke-opacity: 0.5; stroke-width: 1.5; stroke-linecap: square"/>
   </g>
   <g id="line2d_32">
    <path d="M 73.8 304.199624 
L 74.251627 304.613239 
L 75.606509 302.920173 
L 76.058136 304.08631 
L 76.509764 302.97876 
L 76.961391 303.114802 
L 77.864645 304.923108 
L 78.316273 303.31327 
L 78.7679 303.468584 
L 79.219527 302.354417 
L 80.122782 303.357488 
L 80.574409 302.77862 
L 81.026036 304.526014 
L 81.576 303.732615 
L 81.9 270.32832 
L 82.224 297.280506 
L 82.380918 297.280506 
L 82.832545 298.032139 
L 83.284172 305.809188 
L 83.7358 302.979461 
L 84.187427 304.433426 
L 84.639054 303.357182 
L 85.090682 304.158858 
L 85.542309 303.696069 
L 85.993936 303.445935 
L 86.445563 303.727251 
L 86.897191 304.460058 
L 87.348818 302.956645 
L 87.800445 303.596311 
L 88.252072 303.860236 
L 88.7037 303.398168 
L 89.155327 304.190761 
L 89.606954 302.643948 
L 90.058581 303.704507 
L 90.961836 303.625889 
L 91.413463 304.430306 
L 91.86509 304.59721 
L 92.316718 303.708257 
L 92.768345 303.621694 
L 93.219972 302.986915 
L 93.671599 303.558219 
L 94.123227 304.542003 
L 94.574854 303.510081 
L 95.478108 303.205471 
L 95.929736 303.632974 
L 96.381363 304.626294 
L 96.83299 303.104354 
L 97.284618 304.313576 
L 97.736245 303.479668 
L 98.187872 304.850768 
L 98.532 304.850768 
L 98.856 289.488384 
L 99.18 303.154902 
L 99.542754 303.154902 
L 99.994381 302.719614 
L 100.446008 303.099408 
L 100.897636 304.592525 
L 101.80089 304.402965 
L 102.252517 303.423857 
L 103.155772 303.746101 
L 104.510654 303.43167 
L 104.962281 302.768714 
L 105.413908 303.883951 
L 105.865535 303.718438 
L 106.317163 305.034147 
L 106.76879 304.69467 
L 107.064 304.69467 
L 107.10543 -1 
M 107.45458 -1 
L 107.496 304.607676 
L 107.672045 304.607676 
L 108.123672 303.70952 
L 108.575299 303.185941 
L 109.026926 304.129632 
L 109.930181 304.179335 
L 110.381808 303.7694 
L 110.833435 304.201425 
L 111.285063 303.581287 
L 112.188317 303.634666 
L 112.639944 303.367035 
L 113.091572 303.835385 
L 113.543199 303.764021 
L 113.994826 302.732457 
L 114.446453 303.885799 
L 114.898081 303.34727 
L 115.801335 304.150422 
L 116.252962 304.150181 
L 116.70459 304.382396 
L 117.156217 303.851183 
L 117.607844 304.244702 
L 118.059471 304.129259 
L 118.511099 303.080307 
L 118.962726 303.944447 
L 119.414353 303.131023 
L 119.865981 303.689711 
L 120.317608 303.30888 
L 120.769235 304.249648 
L 121.220862 303.765602 
L 121.67249 302.176539 
L 122.124117 303.331567 
L 122.575744 303.219391 
L 123.027371 303.711498 
L 123.478999 303.313089 
L 123.930626 304.603253 
L 124.382253 304.404786 
L 124.83388 303.587658 
L 125.285508 303.338016 
L 125.737135 304.123963 
L 126.188762 303.982124 
L 126.640389 304.093746 
L 127.092017 303.983008 
L 127.543644 304.63017 
L 127.995271 304.779015 
L 128.446898 303.916621 
L 128.898526 304.974688 
L 129.350153 304.490335 
L 129.80178 304.287557 
L 130.253408 304.538905 
L 130.705035 303.714992 
L 131.156662 304.152721 
L 131.608289 303.920218 
L 132.084 304.514548 
L 132.408 272.457216 
L 132.732 303.543625 
L 133.414798 303.639618 
L 133.866426 304.169264 
L 134.318053 303.64048 
L 135.221307 303.772258 
L 135.672935 302.856132 
L 136.124562 304.131196 
L 136.576189 303.607861 
L 137.027816 303.607044 
L 137.479444 304.026209 
L 137.931071 304.62117 
L 138.382698 303.436525 
L 138.834325 303.711128 
L 139.285953 303.847321 
L 140.189207 303.866801 
L 140.640834 304.452119 
L 141.092462 301.544724 
L 141.544089 302.883623 
L 141.995716 301.749629 
L 142.447344 304.840029 
L 143.350598 303.429185 
L 143.82 304.052366 
L 143.882039 -1 
M 144.406042 -1 
L 144.468 303.560185 
L 144.70548 303.560185 
L 145.157107 304.06085 
L 146.060362 304.141193 
L 146.511989 302.924947 
L 146.963616 303.466795 
L 147.415243 303.584458 
L 147.866871 304.652163 
L 148.318498 303.497174 
L 148.770125 304.718913 
L 149.221752 303.587515 
L 149.67338 304.606838 
L 150.125007 302.647769 
L 150.576634 304.970534 
L 151.028261 303.115295 
L 151.479889 303.384357 
L 151.931516 305.030018 
L 152.834771 302.974374 
L 153.286398 303.171475 
L 153.738025 304.956288 
L 154.189652 304.229467 
L 154.64128 304.64707 
L 155.092907 304.552133 
L 155.544534 304.308031 
L 155.996161 302.72232 
L 156.447789 303.813286 
L 156.899416 304.042856 
L 157.351043 304.112557 
L 157.80267 303.473565 
L 158.254298 303.45778 
L 158.705925 304.48618 
L 159.157552 302.962252 
L 159.609179 304.590878 
L 160.512434 303.611876 
L 160.964061 302.807216 
L 161.415688 304.120799 
L 161.867316 303.717208 
L 162.318943 303.068079 
L 162.77057 303.501853 
L 163.222197 303.18011 
L 163.673825 303.236907 
L 164.125452 303.734001 
L 165.028707 303.314618 
L 165.480334 303.917732 
L 165.931961 302.879312 
L 166.383588 305.168337 
L 166.835216 304.487917 
L 167.286843 302.977912 
L 168.190097 304.311158 
L 168.641725 303.658381 
L 169.093352 303.205802 
L 169.544979 304.256646 
L 169.996606 303.409228 
L 170.448234 303.977564 
L 171.351488 303.94364 
L 171.803115 303.189537 
L 172.26 304.614308 
L 172.584 294.810624 
L 172.908 303.476112 
L 173.157997 303.476112 
L 173.609624 304.677623 
L 174.061252 304.90867 
L 174.564 303.535718 
L 174.888 164.947968 
L 175.212 303.992966 
L 175.416134 303.992966 
L 175.867761 303.808062 
L 176.319388 304.519767 
L 176.771015 302.038753 
L 177.222643 304.52737 
L 177.67427 304.176895 
L 178.125897 304.806747 
L 178.577524 304.164461 
L 179.029152 302.924158 
L 179.480779 303.886798 
L 179.932406 303.519008 
L 180.384033 304.207613 
L 180.835661 302.740957 
L 181.738915 304.696124 
L 182.190542 303.407122 
L 182.64217 304.134937 
L 183.093797 303.511243 
L 183.545424 303.810013 
L 183.997051 303.730629 
L 184.448679 303.811681 
L 184.932 304.477215 
L 184.938901 -1 
M 184.997092 -1 
L 185.004 304.858323 
L 185.351933 304.858323 
L 185.803561 303.275809 
L 186.255188 303.985603 
L 186.706815 303.716693 
L 187.158442 304.195401 
L 187.61007 305.191327 
L 188.061697 304.714761 
L 188.513324 303.008171 
L 188.964951 304.400926 
L 189.416579 304.143881 
L 189.868206 304.836678 
L 190.319833 304.236731 
L 191.674715 303.947333 
L 192.126342 304.303754 
L 192.577969 304.26746 
L 193.029597 303.909614 
L 193.481224 303.694858 
L 193.932851 303.991898 
L 194.384478 302.788372 
L 194.836106 303.770272 
L 195.287733 303.798686 
L 195.73936 304.320726 
L 196.190987 303.246009 
L 196.642615 304.555858 
L 197.094242 304.935743 
L 197.545869 304.525359 
L 197.997497 303.507318 
L 198.449124 304.63377 
L 198.900751 303.076663 
L 199.804006 304.871561 
L 200.255633 304.049691 
L 200.70726 302.764483 
L 201.158887 304.452887 
L 201.610515 304.74022 
L 202.062142 299.940824 
L 202.513769 299.433887 
L 202.965396 303.254891 
L 203.417024 304.113853 
L 203.868651 303.784262 
L 204.320278 303.696531 
L 205.223533 302.531862 
L 205.67516 303.972971 
L 206.126787 303.07435 
L 206.578414 304.123839 
L 207.030042 303.527985 
L 207.18 303.527985 
L 207.241953 -1 
M 207.765905 -1 
L 207.933296 304.392126 
L 208.384924 303.638995 
L 208.836551 304.476904 
L 209.288178 303.337657 
L 209.739805 304.25585 
L 210.191433 303.854703 
L 211.094687 304.117115 
L 211.546314 303.820547 
L 211.997942 303.214907 
L 212.449569 301.920976 
L 212.901196 304.66218 
L 213.352823 303.712489 
L 213.804451 304.016277 
L 214.256078 304.487446 
L 214.707705 303.721286 
L 215.159332 304.465343 
L 215.61096 303.954068 
L 216.062587 303.112374 
L 216.514214 305.194863 
L 216.965841 303.745981 
L 217.417469 303.61883 
L 217.869096 304.515582 
L 218.320723 303.569555 
L 218.77235 303.679609 
L 219.223978 304.126996 
L 219.675605 303.130054 
L 220.127232 304.739101 
L 220.57886 303.493406 
L 221.482114 304.57882 
L 221.933741 304.01755 
L 222.385369 304.127223 
L 222.836996 303.381212 
L 223.288623 304.859118 
L 223.74025 304.028499 
L 224.191878 304.195222 
L 224.643505 302.899722 
L 225.095132 304.618446 
L 225.576 303.228375 
L 225.9 295.342848 
L 226.224 303.68547 
L 226.450014 303.68547 
L 226.901641 303.992526 
L 227.353268 303.66481 
L 228.256523 305.15305 
L 228.70815 304.894482 
L 229.159777 303.070072 
L 230.063032 304.461406 
L 230.514659 303.33534 
L 230.966287 304.386419 
L 231.417914 304.382956 
L 231.869541 304.686194 
L 232.321168 303.159981 
L 232.772796 302.659058 
L 233.224423 304.528546 
L 233.67605 303.728663 
L 234.127677 303.289481 
L 234.579305 302.563343 
L 235.030932 305.446377 
L 235.482559 303.825229 
L 235.934186 303.503678 
L 236.385814 304.861291 
L 236.837441 303.656191 
L 237.289068 303.791078 
L 237.740695 303.455463 
L 238.192323 304.289801 
L 238.64395 303.65126 
L 239.095577 304.304844 
L 239.547204 303.531481 
L 240.450459 304.159523 
L 240.902086 304.823056 
L 241.353713 302.866603 
L 241.805341 303.210909 
L 242.256968 303.357335 
L 242.708595 304.343671 
L 243.160223 304.143121 
L 243.61185 302.852664 
L 244.063477 303.443825 
L 244.515104 304.463145 
L 244.966732 303.889319 
L 245.418359 303.828372 
L 245.869986 304.046037 
L 246.321613 304.520804 
L 246.773241 303.116405 
L 247.224868 303.541019 
L 247.5 303.541019 
L 247.561955 -1 
M 248.085922 -1 
L 248.148 304.288791 
L 248.57975 304.288791 
L 249.031377 303.918397 
L 249.483004 303.360705 
L 249.934631 304.150604 
L 250.386259 303.205975 
L 251.316 304.388211 
L 251.64 209.654784 
L 251.964 304.661783 
L 252.192768 304.661783 
L 252.644395 304.86324 
L 253.096022 304.00745 
L 253.54765 303.697716 
L 253.999277 303.021729 
L 254.902531 304.648313 
L 255.354159 302.405595 
L 255.805786 303.708682 
L 256.257413 304.07547 
L 256.70904 304.074337 
L 257.160668 304.769891 
L 257.612295 303.499814 
L 258.063922 303.666811 
L 258.515549 302.890342 
L 258.967177 303.200608 
L 259.418804 303.349301 
L 259.870431 303.099723 
L 260.322058 304.084402 
L 260.773686 304.185682 
L 261.225313 303.933427 
L 261.67694 304.696957 
L 262.128567 303.991909 
L 262.580195 304.110343 
L 263.031822 303.47206 
L 263.483449 303.907936 
L 263.935076 305.116843 
L 264.386704 303.877933 
L 264.838331 302.992325 
L 265.289958 305.068465 
L 266.193213 303.884287 
L 266.508 303.884287 
L 266.570011 -1 
M 267.093993 -1 
L 267.156 303.857806 
L 267.548095 303.857806 
L 267.999722 304.735676 
L 268.451349 303.704532 
L 268.902976 303.630484 
L 269.354604 304.701327 
L 270.257858 303.200477 
L 270.709485 304.001839 
L 271.161113 303.610699 
L 271.61274 303.477572 
L 272.064367 304.037819 
L 272.515994 303.259638 
L 272.967622 303.640834 
L 273.419249 304.519064 
L 273.870876 303.551853 
L 274.322503 303.332376 
L 274.774131 303.370038 
L 275.225758 304.294684 
L 276.129013 303.005396 
L 276.58064 303.733975 
L 277.032267 303.124127 
L 277.483894 303.049207 
L 277.935522 303.902513 
L 278.387149 303.456719 
L 278.838776 304.063571 
L 279.290403 303.195265 
L 279.742031 303.934909 
L 280.193658 304.227677 
L 280.645285 303.892408 
L 281.096912 303.921988 
L 281.54854 303.631185 
L 282.000167 303.577646 
L 282.451794 304.618365 
L 282.903421 304.290143 
L 283.355049 303.643786 
L 283.806676 303.565914 
L 284.258303 303.817803 
L 284.70993 302.18979 
L 285.613185 303.918685 
L 286.516439 303.013621 
L 286.968067 303.633845 
L 287.419694 304.981188 
L 287.871321 303.803281 
L 288.322949 303.832067 
L 288.774576 302.501411 
L 289.226203 305.036365 
L 289.67783 302.874151 
L 290.129458 303.960565 
L 290.581085 303.265198 
L 291.032712 304.045705 
L 291.484339 303.746298 
L 291.935967 303.134786 
L 292.387594 303.802931 
L 292.839221 303.182791 
L 293.290848 303.907119 
L 293.742476 304.116641 
L 294.194103 303.99412 
L 294.64573 304.175106 
L 295.097357 303.930112 
L 295.548985 302.982863 
L 296.000612 304.599633 
L 296.452239 304.912342 
L 297.355494 302.774852 
L 297.807121 303.181717 
L 298.258748 303.004924 
L 298.710376 303.050467 
L 299.162003 304.314307 
L 299.61363 303.772337 
L 300.065257 305.546883 
L 300.516885 304.236248 
L 300.968512 303.458594 
L 301.420139 304.840433 
L 301.871766 305.161726 
L 302.323394 304.674695 
L 302.775021 303.704519 
L 303.226648 303.097562 
L 303.678275 302.190012 
L 304.129903 302.927239 
L 304.58153 304.808115 
L 305.033157 305.320981 
L 305.484784 303.742028 
L 305.936412 303.159903 
L 306.388039 304.868841 
L 306.839666 304.167824 
L 307.291293 304.12006 
L 307.742921 303.809518 
L 308.194548 303.944658 
L 309.097803 303.151485 
L 309.54943 303.779828 
L 310.001057 303.34516 
L 310.452684 302.550215 
L 310.904312 304.474855 
L 311.355939 304.490252 
L 312.259193 302.635833 
L 312.710821 303.711128 
L 313.162448 303.118649 
L 313.614075 304.012502 
L 314.065702 303.229612 
L 314.51733 304.213784 
L 314.968957 303.381569 
L 315.420584 303.558709 
L 315.872211 303.557974 
L 316.323839 302.929405 
L 316.775466 303.12527 
L 317.227093 304.188274 
L 317.67872 303.238957 
L 318.130348 304.888098 
L 318.581975 303.169685 
L 319.033602 302.043681 
L 319.485229 303.459367 
L 320.292 303.472246 
L 320.616 294.810624 
L 320.94 304.079636 
L 321.291739 304.079636 
L 321.743366 303.361141 
L 322.194993 303.961551 
L 322.64662 304.057486 
L 323.098248 303.705767 
L 323.549875 303.822067 
L 324.001502 304.891202 
L 324.453129 302.455442 
L 325.356384 304.863182 
L 325.808011 303.091424 
L 326.259638 303.797512 
L 326.711266 303.648454 
L 327.162893 303.32727 
L 327.61452 304.350407 
L 328.066147 305.658716 
L 328.517775 303.842325 
L 328.969402 303.623841 
L 329.421029 303.138023 
L 329.872656 304.261817 
L 330.775911 303.523351 
L 331.227538 303.980405 
L 331.679166 303.937692 
L 332.130793 303.615583 
L 332.58242 304.414525 
L 333.034047 302.766729 
L 333.485675 304.367605 
L 333.937302 303.755621 
L 334.840556 304.231185 
L 335.292184 303.437418 
L 336.195438 302.849779 
L 337.098693 304.066337 
L 337.55032 303.229292 
L 338.001947 304.70313 
L 338.453574 303.749648 
L 338.905202 303.447735 
L 339.356829 303.421649 
L 339.808456 304.518523 
L 340.260083 304.740496 
L 340.711711 302.723736 
L 341.163338 304.112687 
L 341.614965 304.839074 
L 342.066592 304.579691 
L 342.612 303.780595 
L 342.936 196.349184 
L 343.26 303.793159 
L 343.421474 303.793159 
L 343.873102 303.025785 
L 344.324729 303.649035 
L 344.776356 303.493325 
L 345.227983 303.166942 
L 345.679611 304.036796 
L 346.131238 303.608443 
L 346.582865 304.046229 
L 347.034492 304.206271 
L 347.48612 303.381099 
L 347.937747 304.325607 
L 348.389374 303.750892 
L 348.841001 304.308178 
L 349.292629 303.860814 
L 349.744256 304.141728 
L 350.195883 303.107111 
L 350.64751 303.756459 
L 351.099138 303.759173 
L 351.550765 302.757166 
L 352.002392 305.660822 
L 352.454019 299.741553 
L 352.905647 300.781413 
L 353.357274 299.03786 
L 353.808901 303.540948 
L 354.260529 303.411296 
L 354.712156 303.652431 
L 355.163783 304.382142 
L 355.61541 302.706922 
L 356.067038 303.63292 
L 356.518665 303.995549 
L 356.970292 304.546201 
L 357.421919 303.562753 
L 357.873547 304.146145 
L 358.325174 304.120828 
L 358.776801 303.702341 
L 359.228428 303.696314 
L 359.680056 304.360657 
L 360.131683 303.036709 
L 360.58331 304.478026 
L 361.034937 304.552091 
L 361.486565 303.642893 
L 362.916 304.104563 
L 363.24 268.199424 
L 363.564 304.202518 
L 363.744701 304.202518 
L 364.196328 304.896364 
L 364.647955 303.374199 
L 365.099583 304.491365 
L 366.002837 303.378016 
L 366.454465 303.829847 
L 366.906092 302.094164 
L 367.357719 304.73968 
L 368.260974 303.790233 
L 368.712601 302.98062 
L 369.615855 304.762083 
L 370.067483 303.117931 
L 370.51911 304.437197 
L 370.970737 303.975588 
L 371.422364 303.286334 
L 371.873992 304.277287 
L 372.325619 304.13868 
L 372.777246 303.539043 
L 373.228873 303.981042 
L 373.680501 303.668288 
L 374.132128 304.45619 
L 374.583755 303.928101 
L 375.035382 304.549797 
L 375.48701 304.847675 
L 375.938637 302.731983 
L 376.390264 303.563518 
L 376.841892 303.268593 
L 377.293519 304.472451 
L 377.745146 303.872893 
L 378.196773 303.986036 
L 378.648401 304.762436 
L 379.100028 303.506185 
L 379.476 303.506185 
L 379.537949 -1 
M 380.061834 -1 
L 380.124 304.824413 
L 380.45491 304.824413 
L 380.906537 303.221404 
L 381.809791 303.605061 
L 382.261419 304.436439 
L 382.713046 304.199904 
L 383.164673 303.075374 
L 383.6163 304.032516 
L 384.067928 303.685315 
L 384.519555 303.765917 
L 384.971182 304.570228 
L 385.422809 302.882344 
L 385.874437 305.122875 
L 386.326064 303.712804 
L 386.777691 303.911788 
L 387.229318 304.889127 
L 387.680946 303.643793 
L 388.132573 303.52364 
L 388.5842 303.822845 
L 389.035828 304.384502 
L 389.487455 303.568447 
L 389.939082 303.14389 
L 390.390709 303.714563 
L 390.842337 302.754774 
L 391.293964 303.307024 
L 391.745591 303.364194 
L 392.197218 302.967583 
L 392.648846 301.545733 
L 393.100473 301.456164 
L 393.5521 303.526068 
L 394.003727 303.523576 
L 394.455355 302.891262 
L 394.906982 303.123375 
L 395.358609 303.742615 
L 395.810236 303.71457 
L 396.261864 304.029475 
L 397.165118 304.140723 
L 397.616745 303.27417 
L 398.068373 304.151592 
L 398.52 304.076806 
L 398.52 304.076806 
" clip-path="url(#p02d3b5d28d)" style="fill: none; stroke: #ff7f0e; stroke-opacity: 0.5; stroke-width: 1.5; stroke-linecap: square"/>
   </g>
   <g id="line2d_33">
    <path d="M 73.8 304.885423 
L 74.251627 305.239443 
L 74.703255 302.823032 
L 75.154882 303.278101 
L 75.606509 304.360746 
L 76.509764 303.488315 
L 76.961391 304.281397 
L 77.413018 304.621306 
L 77.864645 304.36702 
L 78.316273 303.795893 
L 78.7679 304.328758 
L 79.219527 305.145081 
L 79.671154 303.849499 
L 80.122782 305.468835 
L 80.574409 304.831591 
L 81.026036 303.533046 
L 81.477663 304.186166 
L 82.380918 304.271934 
L 82.832545 303.667646 
L 83.284172 304.374758 
L 83.7358 305.615204 
L 84.187427 304.181882 
L 84.639054 306.343904 
L 85.090682 305.681567 
L 85.542309 303.308715 
L 85.993936 303.664048 
L 86.445563 304.646155 
L 86.897191 304.392343 
L 87.348818 304.287661 
L 87.800445 303.689343 
L 88.252072 304.848634 
L 88.7037 304.919488 
L 89.155327 304.754623 
L 89.606954 304.254271 
L 90.058581 304.172401 
L 90.510209 304.60229 
L 90.961836 303.848551 
L 91.413463 305.012907 
L 91.86509 304.39502 
L 92.316718 304.797223 
L 92.768345 305.002489 
L 93.219972 303.543812 
L 93.671599 304.55373 
L 94.123227 305.002466 
L 94.574854 304.318962 
L 95.026481 304.99956 
L 95.478108 303.955672 
L 96.381363 303.675 
L 96.83299 305.0362 
L 97.284618 304.440407 
L 97.736245 303.140127 
L 98.187872 304.484408 
L 98.639499 303.518102 
L 99.091127 303.347219 
L 99.542754 305.245432 
L 99.994381 303.552406 
L 100.446008 303.851443 
L 100.897636 303.770409 
L 101.349263 303.239134 
L 101.80089 304.042108 
L 102.252517 304.291065 
L 102.704145 303.943226 
L 103.155772 304.567333 
L 103.607399 304.018466 
L 104.059026 305.656242 
L 104.22 305.656242 
L 104.544 285.230592 
L 104.962281 304.689179 
L 105.413908 303.989612 
L 106.317163 304.274535 
L 107.220417 304.300614 
L 107.672045 305.413137 
L 108.252 304.699842 
L 108.258905 -1 
M 108.317116 -1 
L 108.324 303.563558 
L 108.575299 303.563558 
L 109.026926 305.010825 
L 109.478554 305.032433 
L 109.930181 302.96271 
L 110.381808 303.555608 
L 110.556 303.555608 
L 110.88 267.6672 
L 111.285063 298.757524 
L 111.73669 304.168696 
L 112.188317 303.847315 
L 112.639944 303.977901 
L 113.091572 304.402375 
L 113.543199 305.300293 
L 113.994826 304.824733 
L 114.446453 305.330494 
L 114.898081 303.321896 
L 115.349708 304.610985 
L 115.801335 304.468605 
L 116.252962 304.166642 
L 116.70459 304.341813 
L 117.156217 304.009642 
L 118.059471 305.348452 
L 118.511099 303.214879 
L 118.962726 304.821223 
L 119.414353 304.667833 
L 119.865981 304.877139 
L 120.317608 304.716938 
L 121.220862 303.875033 
L 121.67249 305.047587 
L 122.124117 304.174821 
L 122.575744 304.801944 
L 122.796 304.801944 
L 122.858162 -1 
M 123.381778 -1 
L 123.478999 305.165702 
L 123.930626 304.300801 
L 124.382253 303.902997 
L 124.83388 305.250203 
L 125.285508 304.29677 
L 125.737135 304.27388 
L 126.188762 304.887341 
L 126.640389 304.510559 
L 127.092017 303.728221 
L 127.995271 304.640388 
L 128.446898 304.507318 
L 129.350153 303.551651 
L 129.80178 303.859003 
L 130.253408 303.901229 
L 130.705035 303.362554 
L 131.156662 305.373996 
L 131.608289 305.304484 
L 132.059917 305.84548 
L 132.511544 303.838901 
L 132.963171 305.856193 
L 133.414798 304.407186 
L 133.866426 303.892721 
L 134.318053 305.281083 
L 134.76968 304.807055 
L 135.221307 304.550905 
L 135.672935 303.91146 
L 136.124562 305.36074 
L 136.576189 304.177323 
L 137.027816 303.934139 
L 137.479444 304.291811 
L 137.931071 304.282441 
L 138.382698 303.580488 
L 138.834325 304.242349 
L 139.73758 304.600915 
L 140.189207 303.966912 
L 140.640834 304.571799 
L 141.092462 303.966005 
L 141.544089 304.321919 
L 141.995716 303.661037 
L 142.447344 304.894866 
L 142.898971 304.338826 
L 143.350598 304.162907 
L 143.802225 304.121832 
L 144.253853 303.660732 
L 144.70548 304.134497 
L 145.116 304.134497 
L 145.44 284.166144 
L 145.764 303.846736 
L 146.060362 303.846736 
L 146.511989 305.066139 
L 146.988 305.302843 
L 147.312 167.076864 
L 147.636 304.629478 
L 147.866871 304.629478 
L 148.318498 304.201497 
L 148.770125 304.499223 
L 149.221752 303.550254 
L 149.67338 303.619527 
L 150.125007 305.110415 
L 150.576634 304.213242 
L 151.028261 304.581067 
L 151.479889 305.227146 
L 151.931516 303.973843 
L 152.383143 304.480553 
L 152.834771 304.105021 
L 153.286398 302.803116 
L 153.738025 303.53847 
L 154.189652 303.682069 
L 154.64128 304.649928 
L 155.092907 305.145677 
L 155.544534 303.590072 
L 155.996161 304.583149 
L 156.447789 304.360586 
L 156.899416 304.629999 
L 157.351043 304.325301 
L 157.80267 302.849286 
L 158.254298 304.591069 
L 158.705925 304.570185 
L 159.157552 304.260259 
L 159.372 304.260259 
L 159.696 276.715008 
L 160.060807 305.158386 
L 160.512434 305.52641 
L 160.964061 300.641755 
L 161.415688 300.40614 
L 161.867316 304.896986 
L 162.318943 305.035428 
L 162.77057 304.997512 
L 163.222197 304.650168 
L 163.673825 304.475893 
L 164.125452 305.442983 
L 165.028707 304.175585 
L 165.480334 304.482971 
L 165.931961 305.273037 
L 166.383588 304.633019 
L 166.835216 304.418029 
L 167.286843 297.708627 
L 167.73847 299.23888 
L 168.190097 297.763629 
L 168.641725 304.702959 
L 169.544979 303.972516 
L 169.996606 304.964722 
L 170.448234 304.924214 
L 171.351488 303.94723 
L 171.803115 304.757998 
L 172.254743 305.313264 
L 172.70637 304.855824 
L 173.609624 303.673425 
L 174.061252 304.737122 
L 175.416134 304.501724 
L 175.867761 305.01998 
L 176.771015 304.280388 
L 177.444 304.352221 
L 177.768 274.053888 
L 178.125897 305.058771 
L 178.577524 304.768218 
L 179.029152 304.872515 
L 179.480779 303.749833 
L 179.932406 303.493692 
L 180.384033 304.200848 
L 180.835661 303.404191 
L 181.287288 304.604697 
L 181.738915 304.601628 
L 182.190542 305.242025 
L 182.64217 304.270778 
L 183.093797 304.705876 
L 183.997051 304.106709 
L 184.900306 305.128471 
L 185.351933 304.443485 
L 186.255188 304.396656 
L 186.706815 303.986043 
L 187.158442 304.549591 
L 187.61007 304.582662 
L 188.061697 303.314113 
L 188.513324 303.731687 
L 189.416579 305.002561 
L 189.868206 304.692239 
L 190.319833 304.167677 
L 190.77146 303.87454 
L 191.223088 302.883665 
L 191.674715 304.561289 
L 192.126342 304.307882 
L 192.577969 304.628578 
L 193.029597 304.351167 
L 193.481224 304.643363 
L 193.932851 305.076354 
L 194.384478 303.752958 
L 194.836106 304.317456 
L 195.287733 303.585167 
L 195.73936 304.715013 
L 196.190987 304.229621 
L 196.642615 303.979498 
L 197.094242 305.580486 
L 197.545869 305.227285 
L 197.997497 303.918163 
L 198.449124 304.328342 
L 198.900751 305.550598 
L 199.352378 304.856517 
L 199.804006 305.053241 
L 200.255633 304.693578 
L 200.70726 303.412667 
L 201.06 303.412667 
L 201.384 289.488384 
L 201.708 304.544378 
L 202.062142 304.544378 
L 202.513769 304.847953 
L 202.965396 303.395216 
L 203.417024 303.785106 
L 203.868651 303.511762 
L 204.320278 295.566765 
L 204.771905 296.121213 
L 205.223533 303.607104 
L 205.67516 305.462377 
L 206.126787 304.896742 
L 206.578414 304.096203 
L 207.030042 304.244866 
L 207.481669 303.918044 
L 207.933296 304.672251 
L 208.384924 303.668669 
L 208.836551 303.095024 
L 209.288178 303.998254 
L 209.739805 303.837879 
L 210.191433 304.044801 
L 210.64306 303.77757 
L 211.546314 304.680073 
L 211.997942 304.236673 
L 212.449569 304.292229 
L 212.901196 305.324944 
L 213.352823 304.212503 
L 213.804451 304.343242 
L 214.256078 304.228657 
L 214.707705 304.706344 
L 215.159332 304.055606 
L 215.61096 303.965902 
L 216.062587 304.806962 
L 216.514214 304.156681 
L 216.965841 303.868176 
L 217.417469 303.891838 
L 217.869096 304.944029 
L 218.320723 305.009985 
L 218.77235 304.34952 
L 219.223978 305.028289 
L 219.675605 302.789998 
L 220.127232 304.88332 
L 220.57886 304.876384 
L 221.030487 303.968181 
L 221.482114 304.675195 
L 221.933741 305.861506 
L 222.385369 304.475977 
L 222.588 304.475977 
L 222.912 260.216064 
L 223.288623 304.719927 
L 223.74025 305.411453 
L 224.643505 304.501884 
L 225.095132 304.450163 
L 225.546759 305.107318 
L 225.998387 304.859536 
L 226.450014 304.947627 
L 226.901641 304.323949 
L 227.353268 304.508592 
L 227.804896 305.204441 
L 228.256523 304.012792 
L 228.70815 304.859938 
L 229.159777 304.175599 
L 229.611405 304.999948 
L 230.063032 304.235846 
L 230.514659 304.499857 
L 230.966287 304.390599 
L 231.417914 304.108552 
L 231.869541 304.149975 
L 232.321168 304.322659 
L 232.772796 304.32421 
L 233.224423 305.228724 
L 233.67605 304.471599 
L 234.127677 305.808629 
L 234.579305 305.840506 
L 235.030932 304.624414 
L 235.482559 304.568383 
L 235.934186 303.485502 
L 236.385814 304.008006 
L 236.837441 303.728317 
L 237.289068 304.621312 
L 237.740695 274.341956 
L 238.192323 274.348947 
L 238.64395 273.777201 
L 239.076 273.777201 
L 239.4 262.34496 
L 239.724 274.19467 
L 239.998832 274.19467 
L 240.450459 274.03948 
L 240.902086 274.6589 
L 241.353713 273.484277 
L 241.805341 272.680868 
L 242.256968 274.456196 
L 242.708595 273.568627 
L 243.036 273.568627 
L 243.36 262.34496 
L 243.684 274.137349 
L 244.063477 274.137349 
L 244.515104 273.609529 
L 244.966732 273.443484 
L 245.418359 273.400922 
L 245.869986 274.699256 
L 246.773241 273.269174 
L 247.224868 273.318918 
L 247.676495 274.196908 
L 248.128122 274.413953 
L 248.57975 272.972371 
L 249.031377 274.203655 
L 249.934631 273.660058 
L 250.837886 274.486075 
L 251.289513 270.976199 
L 251.74114 271.337521 
L 252.192768 271.370466 
L 252.644395 273.712562 
L 253.096022 273.785484 
L 253.54765 273.332373 
L 253.999277 273.486044 
L 254.450904 274.454052 
L 254.902531 273.48047 
L 255.354159 274.204736 
L 255.805786 273.061997 
L 256.257413 274.679954 
L 256.70904 274.090618 
L 257.160668 274.818238 
L 257.612295 273.380586 
L 258.063922 273.941763 
L 258.515549 274.108266 
L 258.967177 274.537965 
L 260.322058 274.650053 
L 260.773686 274.084971 
L 261.225313 274.243241 
L 261.67694 273.273753 
L 262.044 273.273753 
L 262.368 264.473856 
L 262.692 267.567524 
L 263.031822 267.567524 
L 263.483449 273.671929 
L 263.935076 274.115421 
L 264.386704 272.078231 
L 264.838331 273.710688 
L 265.289958 273.759768 
L 265.741586 274.993953 
L 266.193213 273.449679 
L 266.64484 273.834766 
L 267.096467 274.045144 
L 267.548095 273.863351 
L 267.876 273.863351 
L 268.2 240.523776 
L 268.524 274.201609 
L 269.354604 274.278196 
L 269.806231 274.481989 
L 270.257858 273.169729 
L 270.709485 272.733537 
L 271.044 272.733537 
L 271.368 268.199424 
L 271.692 273.144154 
L 272.064367 273.144154 
L 272.515994 274.410143 
L 273.419249 273.665613 
L 273.870876 273.988597 
L 274.322503 273.654367 
L 274.774131 274.673947 
L 275.225758 275.117002 
L 275.677385 273.998537 
L 276.129013 274.353109 
L 276.58064 273.344758 
L 277.032267 273.695871 
L 277.483894 274.844769 
L 277.935522 273.763021 
L 278.387149 274.437054 
L 278.838776 275.541712 
L 279.290403 272.938427 
L 279.576 272.938427 
L 279.9 119.176704 
L 280.224 274.182926 
L 280.645285 274.182926 
L 281.096912 273.172108 
L 281.54854 273.762855 
L 282.000167 272.590418 
L 282.451794 273.980201 
L 282.903421 274.63746 
L 283.806676 273.416726 
L 284.258303 273.708729 
L 284.70993 274.286866 
L 285.161558 274.523769 
L 285.613185 273.848897 
L 286.516439 273.014949 
L 286.968067 274.849408 
L 287.419694 274.484836 
L 287.871321 273.939292 
L 288.774576 274.283722 
L 289.226203 273.838314 
L 290.129458 275.318888 
L 290.581085 273.340529 
L 291.032712 274.360191 
L 291.484339 274.471306 
L 291.935967 273.667208 
L 292.387594 273.768278 
L 292.839221 274.584748 
L 293.290848 273.463505 
L 293.742476 274.201497 
L 294.194103 273.867971 
L 294.64573 273.965206 
L 295.097357 273.522302 
L 295.548985 273.501351 
L 296.000612 274.047383 
L 296.452239 271.521422 
L 296.903866 270.518476 
L 297.355494 271.909409 
L 297.807121 274.747234 
L 298.258748 274.073645 
L 298.710376 271.357817 
L 299.162003 271.059811 
L 299.61363 270.436418 
L 300.065257 272.501785 
L 300.968512 274.35999 
L 301.420139 274.364192 
L 301.871766 274.666174 
L 302.775021 273.094233 
L 303.678275 274.714092 
L 304.129903 273.007485 
L 304.58153 273.7868 
L 305.033157 274.151474 
L 305.484784 273.385656 
L 305.936412 273.947956 
L 306.388039 274.057858 
L 307.291293 274.757666 
L 307.548 274.757666 
L 307.872 261.812736 
L 308.196 273.85535 
L 309.097803 273.803011 
L 309.54943 274.841173 
L 310.001057 272.471931 
L 310.452684 274.242263 
L 310.904312 273.911347 
L 311.355939 273.018753 
L 312.259193 275.188981 
L 312.710821 273.616955 
L 313.162448 274.791456 
L 313.614075 274.105256 
L 314.065702 273.862162 
L 314.51733 273.22664 
L 314.968957 273.106721 
L 315.420584 273.186359 
L 315.872211 274.268132 
L 316.323839 268.761569 
L 316.775466 268.296061 
L 317.227093 273.79439 
L 317.67872 274.290018 
L 318.130348 274.119592 
L 318.581975 274.708847 
L 319.033602 269.381094 
L 319.485229 269.992741 
L 319.936857 273.837464 
L 320.388484 274.257377 
L 320.840111 273.06217 
L 321.291739 273.845667 
L 321.516 273.845667 
L 321.84 262.877184 
L 322.194993 273.867033 
L 322.64662 273.638319 
L 323.098248 274.014519 
L 323.549875 274.761075 
L 325.356384 273.44451 
L 325.808011 273.402444 
L 326.259638 273.804477 
L 326.711266 273.777279 
L 327.162893 274.481275 
L 327.61452 273.11719 
L 328.066147 274.454318 
L 328.517775 274.38793 
L 328.969402 273.90957 
L 329.421029 273.979225 
L 329.872656 274.28308 
L 330.324284 273.846236 
L 330.775911 273.579498 
L 331.227538 273.648209 
L 331.679166 274.865601 
L 332.130793 273.992884 
L 332.58242 274.667725 
L 333.034047 274.21032 
L 333.485675 273.39633 
L 333.937302 273.849612 
L 334.388929 275.088222 
L 334.840556 274.327802 
L 335.292184 273.197288 
L 335.743811 273.941393 
L 336.195438 274.41683 
L 336.647065 273.607207 
L 337.098693 273.837405 
L 337.55032 268.594197 
L 338.001947 267.58848 
L 338.453574 267.368692 
L 338.905202 274.194039 
L 339.356829 274.15858 
L 339.808456 273.836164 
L 340.260083 274.634739 
L 340.711711 273.943372 
L 341.163338 274.502008 
L 341.614965 274.351686 
L 342.066592 274.861384 
L 342.51822 273.194765 
L 342.969847 274.812975 
L 343.421474 274.788948 
L 343.873102 274.010839 
L 344.324729 274.73966 
L 344.776356 274.105682 
L 345.227983 274.387544 
L 345.679611 270.111881 
L 346.131238 269.409865 
L 346.582865 268.939102 
L 347.034492 274.041658 
L 347.436 274.041658 
L 347.76 268.199424 
L 348.084 274.112865 
L 348.389374 274.112865 
L 349.292629 274.484962 
L 349.744256 274.199008 
L 350.195883 274.401232 
L 350.64751 274.108824 
L 351.099138 274.304505 
L 351.550765 273.465624 
L 352.002392 273.97738 
L 352.454019 274.075001 
L 352.905647 272.972126 
L 353.357274 272.886946 
L 353.808901 274.033879 
L 354.260529 274.195098 
L 354.712156 274.56553 
L 355.163783 273.828003 
L 355.61541 274.282941 
L 356.076 273.629489 
L 356.4 264.473856 
L 356.724 274.417855 
L 356.970292 274.417855 
L 357.421919 273.688448 
L 357.873547 273.860549 
L 358.325174 275.638734 
L 358.776801 274.548044 
L 359.228428 273.954057 
L 359.680056 274.268085 
L 360.131683 274.205437 
L 360.612 273.915233 
L 360.936 253.297152 
L 361.26 273.516887 
L 361.486565 273.516887 
L 361.938192 273.938486 
L 362.389819 274.004856 
L 362.841446 274.708658 
L 363.293074 273.527095 
L 363.744701 273.42095 
L 364.196328 274.15312 
L 364.647955 273.814636 
L 365.148 274.312473 
L 365.472 257.02272 
L 365.796 273.703257 
L 366.002837 273.703257 
L 366.454465 274.280833 
L 367.357719 273.773604 
L 367.809346 274.556671 
L 368.260974 273.61314 
L 368.712601 274.89249 
L 369.164228 274.421157 
L 369.615855 273.407991 
L 370.067483 273.505165 
L 370.51911 274.009238 
L 370.970737 274.049375 
L 371.422364 273.890324 
L 371.873992 274.274073 
L 372.325619 273.965161 
L 372.777246 273.504835 
L 373.228873 273.79484 
L 373.680501 274.524883 
L 374.132128 274.480213 
L 374.583755 274.91461 
L 375.035382 273.388013 
L 375.48701 273.489947 
L 375.938637 266.440829 
L 376.390264 274.451933 
L 376.841892 273.093507 
L 377.293519 275.035347 
L 377.745146 273.480179 
L 378.196773 273.55863 
L 378.648401 274.541293 
L 379.100028 273.966795 
L 379.551655 274.683855 
L 380.003282 274.272679 
L 380.45491 274.462036 
L 380.906537 273.706715 
L 381.809791 272.943149 
L 382.261419 274.807049 
L 382.713046 273.745105 
L 383.164673 274.1921 
L 383.6163 273.874233 
L 384.067928 274.881863 
L 384.519555 275.159967 
L 384.971182 274.779447 
L 385.452 273.374832 
L 385.776 268.199424 
L 386.1 273.605336 
L 386.326064 273.605336 
L 386.777691 274.057003 
L 387.229318 273.667276 
L 387.680946 274.296652 
L 388.132573 273.450036 
L 388.5842 273.997303 
L 388.764 273.997303 
L 389.088 266.070528 
L 389.487455 273.931314 
L 389.916 273.931314 
L 390.24 270.32832 
L 390.564 274.086065 
L 390.842337 274.086065 
L 391.293964 273.825841 
L 391.745591 274.008013 
L 392.197218 274.350873 
L 392.648846 274.138971 
L 393.100473 274.581159 
L 393.5521 273.850793 
L 394.003727 274.297748 
L 394.455355 273.842296 
L 394.906982 273.83971 
L 395.358609 273.72568 
L 395.810236 273.897386 
L 396.261864 273.824108 
L 396.713491 274.553524 
L 397.165118 273.501853 
L 397.616745 273.937584 
L 398.52 273.96293 
L 398.52 273.96293 
" clip-path="url(#p02d3b5d28d)" style="fill: none; stroke: #2ca02c; stroke-opacity: 0.5; stroke-width: 1.5; stroke-linecap: square"/>
   </g>
   <g id="line2d_34">
    <path d="M 73.8 304.783481 
L 74.251627 304.72778 
L 74.703255 305.065299 
L 75.154882 305.198713 
L 75.606509 305.763449 
L 76.058136 304.96659 
L 76.509764 305.314078 
L 76.961391 304.692703 
L 77.413018 304.419949 
L 77.864645 305.21554 
L 78.316273 304.701139 
L 78.7679 304.823233 
L 79.219527 304.550878 
L 79.671154 304.109993 
L 80.122782 304.57182 
L 81.026036 304.500828 
L 81.477663 305.146622 
L 82.380918 304.738505 
L 82.832545 304.265701 
L 83.284172 304.236532 
L 83.7358 303.719017 
L 84.187427 305.498865 
L 84.639054 304.942998 
L 85.090682 305.83485 
L 85.542309 305.205519 
L 85.993936 305.791131 
L 86.445563 304.303681 
L 86.897191 304.521647 
L 87.348818 305.489688 
L 87.800445 304.743626 
L 88.252072 304.530679 
L 88.7037 304.001104 
L 89.606954 304.854319 
L 90.058581 304.969749 
L 90.510209 304.590026 
L 90.961836 304.760214 
L 91.86509 305.566709 
L 92.316718 304.362962 
L 92.768345 305.302564 
L 93.456 305.064177 
L 93.594234 -1 
M 94.757601 -1 
L 94.896 305.514856 
L 95.026481 305.514856 
L 95.478108 304.517976 
L 95.929736 305.624335 
L 96.381363 305.715854 
L 96.83299 305.472999 
L 97.284618 304.85897 
L 97.776 305.278679 
L 98.1 282.569472 
L 98.424 304.285765 
L 98.639499 304.285765 
L 99.091127 305.430506 
L 99.542754 304.981151 
L 99.994381 304.786723 
L 100.446008 305.172697 
L 100.897636 304.729545 
L 101.349263 304.593848 
L 101.80089 304.975094 
L 102.252517 304.370757 
L 102.704145 305.234844 
L 103.155772 305.481983 
L 103.607399 304.813595 
L 104.059026 305.433795 
L 104.510654 304.72185 
L 105.413908 305.169423 
L 105.865535 304.615078 
L 106.317163 304.638088 
L 106.76879 306.48962 
L 107.220417 305.090856 
L 108.123672 304.662923 
L 108.575299 305.210829 
L 109.026926 305.529964 
L 109.478554 304.856268 
L 109.930181 304.561381 
L 110.381808 306.012315 
L 110.833435 305.717981 
L 111.285063 305.233473 
L 111.73669 306.293908 
L 112.188317 305.238909 
L 112.639944 304.487056 
L 113.091572 305.486235 
L 113.543199 304.849482 
L 113.994826 305.39319 
L 114.446453 304.698888 
L 114.898081 304.578553 
L 115.349708 304.232062 
L 115.801335 304.883345 
L 116.252962 304.365538 
L 117.156217 305.17437 
L 117.607844 304.141349 
L 118.059471 305.240712 
L 118.511099 304.833472 
L 118.962726 303.625346 
L 119.196 303.625346 
L 119.257969 -1 
M 119.781746 -1 
L 119.865981 305.359734 
L 120.317608 304.766963 
L 120.769235 305.216782 
L 121.220862 305.000158 
L 121.67249 305.722044 
L 122.124117 304.807753 
L 122.575744 297.76561 
L 123.027371 296.745998 
L 123.478999 296.743993 
L 123.930626 304.474885 
L 124.382253 303.741439 
L 124.83388 305.802389 
L 125.285508 305.557754 
L 125.737135 305.453466 
L 126.188762 305.22507 
L 126.640389 304.456795 
L 127.092017 305.102586 
L 127.543644 305.234837 
L 127.995271 305.523393 
L 128.446898 305.2586 
L 129.350153 304.979746 
L 129.80178 305.684866 
L 130.253408 304.96514 
L 130.705035 304.623758 
L 131.156662 304.739876 
L 131.608289 305.586739 
L 132.059917 304.48885 
L 132.511544 304.497629 
L 132.963171 304.765778 
L 133.414798 305.576301 
L 133.866426 305.706441 
L 134.318053 304.903267 
L 134.76968 305.47042 
L 135.221307 305.634748 
L 135.672935 304.450408 
L 136.124562 304.439778 
L 136.576189 304.582984 
L 137.027816 304.228282 
L 137.479444 304.444837 
L 137.931071 305.539253 
L 138.382698 304.314914 
L 138.834325 304.860326 
L 139.285953 304.688979 
L 139.73758 304.090826 
L 140.189207 304.688833 
L 140.640834 304.087118 
L 141.092462 304.893648 
L 141.995716 305.299291 
L 142.447344 304.995752 
L 142.898971 305.817815 
L 143.350598 304.956895 
L 143.802225 304.987956 
L 144.253853 305.207757 
L 144.70548 306.110529 
L 145.157107 306.066013 
L 145.608734 304.548551 
L 146.060362 305.433201 
L 146.511989 304.194393 
L 146.963616 305.303647 
L 147.415243 304.732314 
L 147.866871 305.69239 
L 148.318498 305.262987 
L 148.770125 305.040689 
L 149.221752 304.614705 
L 149.67338 304.028341 
L 150.125007 304.410697 
L 150.576634 305.695518 
L 151.028261 304.919842 
L 151.479889 305.012561 
L 151.931516 305.261945 
L 152.834771 304.083171 
L 153.286398 305.165921 
L 153.738025 304.328288 
L 154.189652 304.179932 
L 154.64128 305.488343 
L 155.092907 303.978696 
L 155.544534 304.02478 
L 155.996161 304.765235 
L 156.447789 304.012841 
L 156.899416 304.788959 
L 157.351043 304.309224 
L 157.80267 304.575907 
L 158.254298 305.381701 
L 158.705925 304.783027 
L 160.060807 305.536507 
L 160.512434 305.338125 
L 160.964061 305.579203 
L 161.415688 304.316986 
L 161.867316 305.966125 
L 162.318943 304.881558 
L 163.222197 305.588034 
L 163.673825 304.536322 
L 164.125452 305.347468 
L 164.577079 304.279663 
L 165.028707 305.017766 
L 165.480334 304.745193 
L 165.931961 304.991939 
L 166.383588 304.576486 
L 166.835216 304.422535 
L 167.286843 305.162011 
L 167.73847 304.927417 
L 168.190097 303.986221 
L 168.641725 305.22837 
L 169.093352 303.95898 
L 169.544979 305.132184 
L 169.996606 305.219614 
L 170.448234 305.821194 
L 170.899861 305.374282 
L 171.351488 305.850366 
L 172.254743 304.554522 
L 173.157997 305.243866 
L 173.609624 305.469588 
L 174.061252 305.288862 
L 174.512879 305.697304 
L 174.964506 305.598956 
L 175.416134 303.886446 
L 175.867761 304.794938 
L 176.319388 305.410731 
L 176.771015 304.565551 
L 177.222643 304.124335 
L 177.67427 305.262478 
L 178.125897 304.98054 
L 178.577524 305.591655 
L 179.029152 305.772314 
L 179.480779 304.188762 
L 179.932406 303.099453 
L 180.384033 305.316935 
L 180.835661 305.788344 
L 181.287288 304.167523 
L 182.190542 304.669631 
L 182.64217 304.139128 
L 183.093797 305.103197 
L 183.997051 304.502321 
L 184.448679 305.09008 
L 184.900306 304.669252 
L 185.351933 305.049913 
L 185.803561 304.681162 
L 186.255188 304.837482 
L 186.706815 305.977354 
L 187.158442 304.875573 
L 187.61007 305.685083 
L 188.061697 305.377398 
L 188.513324 305.809917 
L 188.964951 304.49026 
L 189.416579 305.098916 
L 189.868206 305.130012 
L 190.319833 304.260766 
L 190.77146 304.545979 
L 191.223088 305.038769 
L 191.674715 306.032002 
L 192.126342 304.573549 
L 192.577969 305.06565 
L 193.029597 305.118719 
L 193.481224 304.533707 
L 193.932851 305.260491 
L 194.384478 304.968779 
L 194.836106 304.452196 
L 195.287733 304.620512 
L 195.73936 305.25164 
L 196.190987 304.151134 
L 196.524 304.151134 
L 196.848 288.423936 
L 197.172 304.95308 
L 197.545869 304.95308 
L 197.997497 304.80964 
L 198.449124 304.363386 
L 198.900751 304.689338 
L 200.70726 305.269616 
L 201.158887 305.265806 
L 201.610515 304.70632 
L 202.062142 305.0848 
L 202.513769 305.6735 
L 203.417024 304.040329 
L 203.868651 304.198674 
L 204.320278 305.991076 
L 204.771905 305.372162 
L 205.223533 304.50845 
L 205.67516 304.87936 
L 207.030042 304.890195 
L 207.481669 305.462081 
L 207.933296 304.292268 
L 208.384924 305.475197 
L 208.836551 304.996661 
L 209.288178 304.105222 
L 209.739805 304.343782 
L 210.191433 304.924114 
L 210.64306 304.924212 
L 211.094687 305.237402 
L 211.997942 305.045563 
L 212.449569 304.209216 
L 212.901196 305.149096 
L 213.352823 304.618687 
L 213.804451 302.332246 
L 214.256078 302.344777 
L 214.707705 302.708177 
L 215.159332 304.527416 
L 215.61096 304.831331 
L 216.062587 304.864012 
L 216.514214 305.166286 
L 216.965841 306.055161 
L 217.417469 304.527811 
L 217.869096 304.513255 
L 218.320723 305.18032 
L 219.223978 304.760801 
L 219.675605 305.427696 
L 220.127232 304.536853 
L 221.482114 304.422508 
L 221.933741 305.916005 
L 222.385369 304.633384 
L 222.836996 305.142381 
L 223.288623 304.320939 
L 224.191878 304.477001 
L 224.643505 304.952626 
L 225.095132 303.427461 
L 225.546759 304.93604 
L 225.998387 305.459631 
L 226.450014 304.393709 
L 226.901641 305.672364 
L 227.353268 303.889591 
L 227.804896 304.368381 
L 228.256523 304.203166 
L 228.70815 304.351017 
L 229.159777 304.689789 
L 229.611405 305.599319 
L 230.063032 305.218571 
L 230.514659 304.603297 
L 230.966287 305.00747 
L 231.417914 304.704584 
L 231.869541 305.260974 
L 232.321168 305.315623 
L 232.772796 304.742673 
L 233.224423 304.508985 
L 234.579305 305.778227 
L 235.030932 296.688563 
L 235.482559 298.358612 
L 235.934186 305.362123 
L 236.385814 305.286714 
L 236.837441 304.431115 
L 237.289068 305.303139 
L 237.740695 304.615514 
L 238.192323 304.748992 
L 238.716 305.508437 
L 239.04 292.681728 
L 239.364 305.552112 
L 239.547204 305.552112 
L 239.998832 302.936242 
L 240.450459 302.461454 
L 240.902086 302.977201 
L 241.353713 305.390049 
L 241.805341 305.131008 
L 242.256968 305.009228 
L 242.708595 304.735283 
L 243.160223 306.122845 
L 243.61185 300.359196 
L 244.063477 304.65721 
L 244.515104 304.978898 
L 245.418359 304.806735 
L 246.321613 305.159646 
L 247.224868 304.571641 
L 248.128122 304.913516 
L 248.57975 305.473376 
L 249.031377 304.800818 
L 249.483004 305.534474 
L 249.934631 305.279544 
L 250.386259 304.846991 
L 250.837886 304.864024 
L 251.289513 304.350209 
L 252.192768 304.668784 
L 252.644395 305.096091 
L 253.096022 304.932641 
L 253.54765 305.053474 
L 253.999277 304.013182 
L 254.902531 305.267258 
L 255.354159 305.369649 
L 255.805786 304.272132 
L 256.257413 305.382433 
L 256.70904 304.731454 
L 257.160668 304.830654 
L 257.612295 304.363892 
L 258.063922 305.384439 
L 258.515549 304.680591 
L 258.967177 304.816963 
L 259.870431 304.208047 
L 260.322058 304.868542 
L 260.773686 305.040056 
L 261.225313 304.460775 
L 261.67694 305.66238 
L 262.128567 304.822535 
L 262.580195 305.437545 
L 263.935076 305.7905 
L 264.386704 304.484517 
L 264.838331 304.461585 
L 265.289958 304.865579 
L 265.741586 304.375657 
L 266.193213 304.903516 
L 267.096467 305.48678 
L 267.548095 304.514936 
L 267.999722 304.490276 
L 268.451349 304.25471 
L 268.902976 305.337862 
L 269.354604 305.066024 
L 269.806231 305.626368 
L 270.257858 304.315082 
L 270.709485 304.544155 
L 271.161113 304.646612 
L 271.61274 304.924239 
L 272.515994 305.106555 
L 272.967622 304.340997 
L 273.419249 305.24656 
L 273.870876 304.446755 
L 274.322503 304.762823 
L 274.774131 305.442049 
L 275.225758 305.67383 
L 276.129013 304.933047 
L 276.58064 305.592289 
L 277.032267 304.583438 
L 277.483894 304.314778 
L 277.935522 304.626952 
L 278.387149 305.802391 
L 278.838776 306.148294 
L 279.290403 304.455562 
L 279.742031 304.128735 
L 280.193658 305.122568 
L 280.645285 304.637716 
L 281.096912 305.054591 
L 281.54854 305.248354 
L 282.000167 304.389621 
L 282.451794 305.202368 
L 282.903421 304.464508 
L 283.355049 304.005659 
L 283.806676 304.976683 
L 284.258303 303.925882 
L 284.70993 305.60415 
L 285.161558 304.428354 
L 285.613185 304.907515 
L 286.064812 303.559135 
L 286.516439 304.890177 
L 286.968067 305.331523 
L 287.419694 304.054548 
L 287.871321 305.720473 
L 288.322949 304.678515 
L 288.774576 305.315399 
L 289.226203 304.182617 
L 289.67783 297.899959 
L 290.129458 304.458867 
L 291.032712 305.495326 
L 291.484339 306.051578 
L 291.935967 303.96776 
L 292.839221 305.522875 
L 293.290848 305.078966 
L 293.742476 304.390513 
L 294.194103 305.702258 
L 294.64573 303.712635 
L 295.097357 305.045826 
L 295.548985 305.108551 
L 296.000612 304.233826 
L 296.903866 305.445483 
L 297.355494 304.429313 
L 297.807121 304.676631 
L 298.258748 304.318806 
L 298.710376 305.404313 
L 299.162003 305.513103 
L 299.61363 304.584746 
L 300.065257 305.14759 
L 300.516885 306.059626 
L 301.420139 304.585497 
L 301.871766 305.303381 
L 302.323394 304.240552 
L 302.775021 305.186362 
L 303.226648 304.971051 
L 303.678275 305.7816 
L 304.58153 305.020422 
L 305.028 305.020422 
L 305.352 295.875072 
L 305.676 301.268837 
L 305.936412 301.268837 
L 306.388039 306.077055 
L 306.839666 304.909243 
L 307.291293 304.999608 
L 307.742921 305.477168 
L 308.194548 304.945093 
L 308.646175 305.318613 
L 309.097803 304.695441 
L 309.54943 305.106701 
L 310.001057 304.65417 
L 310.452684 305.406372 
L 310.904312 304.248588 
L 311.355939 304.711587 
L 311.807566 303.975096 
L 312.259193 304.994401 
L 312.710821 299.710169 
L 313.162448 299.371247 
L 313.614075 299.691802 
L 314.065702 305.475971 
L 314.51733 304.914863 
L 314.968957 304.957744 
L 315.420584 305.268867 
L 315.872211 305.127292 
L 316.323839 305.441022 
L 316.775466 304.845981 
L 317.227093 305.638263 
L 317.67872 304.019775 
L 318.130348 304.906448 
L 318.581975 304.420231 
L 319.033602 305.563055 
L 319.485229 304.739374 
L 319.936857 304.993697 
L 320.388484 304.399258 
L 320.840111 304.457976 
L 321.291739 305.795778 
L 321.743366 304.310306 
L 322.194993 305.71859 
L 322.64662 304.208264 
L 323.549875 305.560717 
L 324.001502 304.54618 
L 324.453129 304.902079 
L 324.904757 305.45154 
L 325.356384 305.317046 
L 325.808011 304.667927 
L 326.259638 305.654034 
L 326.711266 305.382628 
L 327.162893 303.933956 
L 327.61452 305.332616 
L 328.066147 304.725038 
L 328.517775 304.683967 
L 328.969402 304.409662 
L 329.421029 304.452978 
L 329.872656 306.270654 
L 330.775911 304.290057 
L 331.227538 305.344955 
L 331.679166 303.948734 
L 332.58242 305.574661 
L 333.485675 303.881963 
L 333.937302 305.280545 
L 334.388929 304.623141 
L 334.840556 305.394467 
L 335.292184 305.234467 
L 335.743811 304.860279 
L 336.195438 304.646705 
L 337.098693 304.808154 
L 337.55032 303.632488 
L 338.001947 305.500852 
L 338.453574 305.917092 
L 338.905202 304.620972 
L 339.356829 304.820225 
L 339.808456 305.68972 
L 340.260083 303.997052 
L 340.711711 305.296155 
L 341.163338 305.675704 
L 341.614965 304.694553 
L 342.066592 304.576536 
L 342.51822 303.657889 
L 342.969847 305.742885 
L 343.421474 305.603276 
L 343.873102 305.06721 
L 344.324729 305.154952 
L 344.776356 304.959593 
L 345.679611 305.755642 
L 346.582865 304.539729 
L 347.034492 304.49625 
L 347.48612 305.272181 
L 347.937747 304.631005 
L 348.389374 304.697703 
L 348.841001 305.184307 
L 349.292629 305.107765 
L 349.744256 304.894617 
L 350.195883 303.417913 
L 350.64751 304.830636 
L 351.099138 305.396371 
L 351.550765 305.00477 
L 352.002392 305.218198 
L 352.454019 304.307107 
L 352.905647 306.079496 
L 353.357274 305.506572 
L 353.808901 304.472485 
L 354.712156 304.902897 
L 355.163783 304.531274 
L 355.61541 305.631929 
L 356.067038 304.721803 
L 356.518665 305.530874 
L 356.970292 305.608016 
L 357.421919 304.6497 
L 357.873547 305.346694 
L 358.325174 305.109945 
L 358.776801 304.581105 
L 359.228428 305.479289 
L 360.131683 303.708833 
L 360.58331 305.023935 
L 361.034937 304.400185 
L 361.486565 304.5012 
L 361.938192 305.597658 
L 362.389819 305.651427 
L 362.841446 304.913796 
L 363.293074 306.063662 
L 363.744701 304.892186 
L 364.647955 304.662884 
L 365.099583 304.6729 
L 365.55121 304.196852 
L 366.002837 305.093375 
L 366.454465 304.186954 
L 366.732 304.186954 
L 367.056 282.037248 
L 367.38 304.996214 
L 367.809346 304.996214 
L 368.260974 304.397407 
L 368.712601 305.317183 
L 369.164228 304.520902 
L 369.615855 304.310017 
L 370.067483 305.271695 
L 370.51911 305.423948 
L 370.970737 305.319069 
L 371.422364 304.932947 
L 372.325619 304.439014 
L 372.777246 303.88966 
L 373.228873 304.036147 
L 373.680501 304.762964 
L 374.583755 305.559973 
L 375.035382 304.466253 
L 375.48701 304.631348 
L 375.938637 305.060931 
L 376.841892 304.973443 
L 377.293519 306.299296 
L 377.745146 304.940734 
L 378.196773 304.734641 
L 378.648401 304.977138 
L 379.100028 305.483407 
L 379.551655 304.885514 
L 380.003282 304.652098 
L 380.45491 303.940307 
L 381.358164 304.590756 
L 381.809791 304.93825 
L 382.261419 305.631436 
L 382.713046 305.163287 
L 383.164673 305.647148 
L 384.067928 304.335864 
L 384.971182 304.422172 
L 385.422809 304.898785 
L 385.874437 304.375707 
L 386.326064 305.056689 
L 386.777691 305.965559 
L 387.229318 304.835991 
L 387.680946 304.889631 
L 388.132573 305.849387 
L 388.5842 305.195904 
L 389.035828 306.228803 
L 389.939082 304.257904 
L 390.390709 305.25843 
L 390.842337 304.202176 
L 392.197218 305.867808 
L 392.648846 304.505805 
L 393.100473 304.551635 
L 393.5521 305.711826 
L 394.003727 305.138208 
L 394.455355 304.313827 
L 394.906982 305.313196 
L 395.358609 304.697684 
L 395.810236 305.962275 
L 396.261864 305.408158 
L 396.713491 304.519473 
L 397.188 305.548791 
L 397.512 287.891712 
L 397.836 305.661534 
L 398.068373 305.661534 
L 398.52 305.114797 
L 398.52 305.114797 
" clip-path="url(#p02d3b5d28d)" style="fill: none; stroke: #d62728; stroke-opacity: 0.5; stroke-width: 1.5; stroke-linecap: square"/>
   </g>
   <g id="line2d_35">
    <path d="M 73.8 304.625034 
L 74.251627 304.506207 
L 74.703255 305.067097 
L 75.154882 305.226133 
L 75.606509 304.608517 
L 76.058136 305.357008 
L 76.509764 304.903089 
L 76.961391 305.263715 
L 77.413018 304.76987 
L 77.976 304.094803 
L 78.3 284.166144 
L 78.624 303.873957 
L 78.7679 303.873957 
L 79.219527 304.378921 
L 79.671154 304.705128 
L 80.122782 305.215156 
L 80.574409 304.554352 
L 81.026036 305.384879 
L 81.477663 304.125841 
L 81.929291 305.505911 
L 82.380918 305.537856 
L 82.832545 305.186462 
L 83.284172 305.724692 
L 83.7358 304.55742 
L 84.187427 305.13488 
L 84.639054 304.930869 
L 85.090682 304.222301 
L 85.542309 306.078179 
L 85.993936 304.791469 
L 86.897191 303.95963 
L 87.800445 305.069319 
L 88.252072 304.016935 
L 88.7037 304.021542 
L 89.155327 303.176674 
L 89.606954 303.217445 
L 90.058581 304.764046 
L 90.510209 303.729057 
L 91.413463 305.296355 
L 91.86509 304.164965 
L 92.316718 303.770443 
L 92.768345 306.170091 
L 93.219972 303.75456 
L 93.671599 305.172312 
L 94.123227 303.57301 
L 94.574854 304.473051 
L 95.026481 304.529303 
L 95.478108 303.711927 
L 95.929736 304.846537 
L 96.381363 303.256443 
L 96.83299 305.259443 
L 97.284618 305.023413 
L 97.736245 305.342593 
L 98.187872 304.277034 
L 98.639499 304.678058 
L 99.091127 304.107866 
L 99.542754 303.9144 
L 99.994381 304.112131 
L 100.446008 303.926526 
L 100.897636 303.920011 
L 101.349263 304.692559 
L 101.556 304.692559 
L 101.88 280.440576 
L 102.252517 305.283273 
L 102.704145 304.150595 
L 103.155772 304.99041 
L 103.607399 305.279657 
L 104.059026 305.195596 
L 104.962281 304.496983 
L 105.413908 304.814975 
L 105.865535 305.324642 
L 106.317163 304.297943 
L 106.76879 306.11642 
L 107.220417 304.869116 
L 107.672045 303.979209 
L 108.123672 304.487508 
L 108.575299 303.884211 
L 109.026926 304.596557 
L 109.478554 304.286903 
L 110.381808 304.950161 
L 111.285063 304.035497 
L 111.73669 305.963155 
L 112.188317 305.20832 
L 112.639944 306.051066 
L 113.091572 305.293163 
L 113.543199 305.524987 
L 113.994826 305.002026 
L 114.446453 304.883776 
L 114.898081 304.065379 
L 115.349708 303.886865 
L 115.801335 305.2213 
L 116.252962 305.019853 
L 116.70459 304.289495 
L 117.156217 305.119247 
L 117.607844 304.9642 
L 118.059471 305.910541 
L 118.511099 304.223581 
L 118.962726 304.529388 
L 119.414353 305.328817 
L 119.865981 305.565652 
L 120.317608 305.396448 
L 120.769235 304.414804 
L 121.67249 305.498905 
L 122.124117 304.914571 
L 122.575744 304.139402 
L 123.027371 303.881288 
L 123.478999 303.820243 
L 123.930626 304.609155 
L 125.737135 304.296132 
L 126.188762 305.308777 
L 127.092017 304.931092 
L 127.543644 304.218599 
L 127.995271 305.011691 
L 128.446898 305.179968 
L 128.898526 304.012756 
L 129.350153 303.726382 
L 129.80178 305.269427 
L 130.253408 304.767375 
L 130.705035 303.925012 
L 131.156662 304.937887 
L 131.608289 304.078514 
L 132.059917 305.600542 
L 132.963171 304.248977 
L 133.414798 303.679244 
L 133.866426 304.05778 
L 134.318053 305.732901 
L 135.036 305.678082 
L 135.36 287.359488 
L 135.684 304.204026 
L 136.124562 304.204026 
L 136.576189 303.971728 
L 137.027816 304.229305 
L 137.479444 305.052581 
L 137.931071 304.925792 
L 138.382698 305.260239 
L 138.834325 304.138352 
L 139.285953 305.501904 
L 139.73758 304.639745 
L 140.189207 304.520473 
L 140.640834 303.878804 
L 141.092462 305.178617 
L 141.544089 304.420736 
L 141.995716 305.332967 
L 142.447344 304.012473 
L 142.898971 304.917467 
L 143.350598 304.881059 
L 143.802225 305.300771 
L 144.253853 305.076544 
L 145.157107 305.078476 
L 145.608734 303.926572 
L 146.060362 305.323785 
L 146.511989 304.522578 
L 146.963616 304.135946 
L 147.415243 305.41835 
L 147.866871 306.079387 
L 148.318498 304.374503 
L 148.770125 305.754124 
L 149.67338 304.744203 
L 150.156 304.502155 
L 150.48 289.488384 
L 150.804 305.137723 
L 151.028261 305.137723 
L 151.479889 304.035039 
L 151.931516 304.534642 
L 152.383143 303.430651 
L 152.834771 305.266138 
L 153.286398 304.738764 
L 153.738025 304.707723 
L 154.189652 304.32885 
L 155.092907 304.662833 
L 155.544534 303.406877 
L 155.996161 304.78182 
L 156.447789 304.391783 
L 156.899416 304.55543 
L 157.351043 305.072993 
L 157.80267 304.194825 
L 158.254298 305.886293 
L 158.705925 303.935262 
L 159.157552 305.684661 
L 159.609179 304.880657 
L 160.060807 304.611358 
L 160.512434 304.995767 
L 160.964061 305.014547 
L 161.415688 303.900206 
L 161.867316 303.125341 
L 162.318943 304.000195 
L 163.222197 305.082805 
L 163.673825 305.174054 
L 164.125452 303.891629 
L 164.268 303.891629 
L 164.592 282.569472 
L 164.916 303.821164 
L 165.028707 303.821164 
L 165.480334 304.026021 
L 165.931961 303.816566 
L 166.383588 305.065046 
L 167.286843 305.332987 
L 167.73847 304.69489 
L 168.190097 304.801795 
L 168.641725 304.605481 
L 169.093352 305.45704 
L 169.544979 304.56644 
L 169.996606 304.156355 
L 170.448234 304.627668 
L 170.899861 306.422482 
L 171.351488 304.693343 
L 171.803115 304.909699 
L 172.254743 304.085898 
L 172.70637 304.781976 
L 173.157997 304.269329 
L 173.609624 304.928362 
L 174.512879 304.050769 
L 174.964506 304.853805 
L 175.416134 304.478983 
L 175.867761 304.573948 
L 176.319388 304.283701 
L 176.771015 304.755691 
L 177.222643 304.371468 
L 177.67427 305.858758 
L 178.125897 304.828398 
L 178.524 304.828398 
L 178.848 280.9728 
L 179.172 305.300377 
L 179.932406 305.194811 
L 180.384033 304.424049 
L 181.287288 304.380806 
L 181.738915 304.638867 
L 182.190542 304.611113 
L 182.64217 304.013007 
L 183.093797 305.279737 
L 183.545424 305.57009 
L 183.997051 304.030972 
L 184.448679 305.171429 
L 184.900306 304.238871 
L 185.351933 305.116294 
L 185.803561 305.389842 
L 186.255188 303.68951 
L 187.158442 305.586159 
L 187.61007 304.824069 
L 188.513324 304.819339 
L 188.964951 304.57923 
L 189.416579 305.425573 
L 190.319833 304.39876 
L 190.77146 304.291117 
L 191.223088 304.633357 
L 191.674715 305.202758 
L 192.126342 305.953079 
L 192.577969 303.751021 
L 193.029597 305.406011 
L 193.932851 304.679409 
L 194.384478 304.402459 
L 194.836106 304.703774 
L 195.287733 305.211076 
L 195.73936 304.71306 
L 196.190987 303.359942 
L 196.642615 303.083451 
L 197.094242 301.327431 
L 197.388 301.327431 
L 197.712 215.509248 
L 198.036 304.549565 
L 198.449124 304.549565 
L 198.900751 304.228791 
L 199.352378 304.877794 
L 199.804006 303.517885 
L 200.255633 304.122287 
L 200.70726 304.289872 
L 201.158887 306.35829 
L 201.610515 305.075601 
L 202.062142 304.226329 
L 202.965396 305.808531 
L 203.417024 305.051719 
L 203.868651 303.706631 
L 204.320278 304.245492 
L 204.771905 304.125221 
L 205.223533 304.555234 
L 205.67516 303.644986 
L 206.126787 306.473144 
L 206.578414 305.443711 
L 207.030042 303.448509 
L 207.933296 304.521089 
L 208.384924 304.896196 
L 208.836551 305.83706 
L 209.196 305.83706 
L 209.258332 -1 
M 209.781761 -1 
L 209.844 305.268217 
L 210.191433 305.268217 
L 210.708 303.794205 
L 211.032 249.03936 
L 211.356 304.856552 
L 211.546314 304.856552 
L 211.997942 304.097264 
L 212.449569 304.70204 
L 212.901196 304.501177 
L 213.352823 304.982376 
L 213.804451 303.084926 
L 214.256078 305.634129 
L 214.524 305.634129 
L 214.812 304.765743 
L 214.848 210.719232 
L 215.136 151.642368 
L 215.172 304.015787 
L 215.61096 304.015787 
L 216.062587 305.714155 
L 216.965841 304.7354 
L 217.417469 305.186183 
L 217.869096 305.102613 
L 218.376 304.834644 
L 218.7 280.440576 
L 219.024 303.966056 
L 219.223978 303.966056 
L 219.675605 305.763555 
L 220.127232 303.994804 
L 220.57886 304.817676 
L 221.030487 304.297539 
L 221.482114 304.895065 
L 221.796 304.895065 
L 222.12 277.779456 
L 222.444 303.910628 
L 222.836996 303.910628 
L 223.288623 304.956147 
L 223.74025 304.81806 
L 224.191878 303.758447 
L 224.532 303.758447 
L 224.856 269.263872 
L 225.18 303.736333 
L 225.546759 303.736333 
L 225.998387 305.049461 
L 226.450014 303.368953 
L 226.901641 303.857173 
L 227.353268 304.806722 
L 227.804896 304.520941 
L 228.256523 305.121177 
L 228.70815 304.474403 
L 228.996 304.474403 
L 229.32 175.060224 
L 229.644 304.517103 
L 230.063032 304.517103 
L 230.514659 304.993659 
L 230.966287 305.075453 
L 231.588 305.27538 
L 231.912 144.191232 
L 232.321168 304.275304 
L 232.776 305.034651 
L 233.1 187.301376 
L 233.424 305.339917 
L 233.67605 305.339917 
L 234.127677 304.295283 
L 234.579305 304.828569 
L 235.030932 305.700768 
L 235.482559 303.951954 
L 235.934186 303.983488 
L 236.385814 304.650412 
L 236.556 304.650412 
L 236.88 272.98944 
L 237.289068 304.685349 
L 237.740695 257.614272 
L 238.192323 257.515777 
L 238.64395 257.091904 
L 239.547204 259.051795 
L 239.998832 256.734293 
L 240.450459 257.950895 
L 240.902086 257.773383 
L 241.353713 258.187382 
L 241.805341 258.080578 
L 242.256968 256.947171 
L 242.708595 257.728375 
L 243.160223 258.238691 
L 243.61185 256.797185 
L 244.063477 251.372451 
L 244.515104 251.869847 
L 244.966732 258.036573 
L 245.418359 257.052673 
L 245.869986 259.531643 
L 246.321613 258.837846 
L 246.773241 256.689595 
L 247.224868 258.264896 
L 247.676495 258.424527 
L 248.128122 256.473736 
L 248.57975 256.882873 
L 249.031377 257.807033 
L 249.483004 257.229568 
L 250.386259 258.096425 
L 250.837886 256.993363 
L 251.289513 256.974743 
L 251.74114 258.057144 
L 252.192768 257.909614 
L 252.644395 259.557492 
L 253.096022 258.774067 
L 253.54765 259.233447 
L 253.999277 256.892168 
L 254.450904 256.681839 
L 254.902531 259.29928 
L 255.354159 257.575268 
L 255.805786 256.593878 
L 256.257413 257.427366 
L 256.70904 259.462887 
L 257.160668 258.684415 
L 257.612295 257.552045 
L 258.063922 257.088581 
L 258.515549 257.545947 
L 258.967177 257.57114 
L 259.418804 257.981927 
L 259.870431 257.199238 
L 260.322058 258.650675 
L 260.773686 257.541337 
L 261.225313 258.506324 
L 261.67694 257.537543 
L 262.128567 260.762882 
L 262.580195 257.612276 
L 263.031822 258.884731 
L 263.483449 257.392467 
L 263.935076 260.059763 
L 264.386704 257.769437 
L 264.838331 259.129387 
L 265.289958 258.209752 
L 265.741586 258.823562 
L 266.193213 260.409431 
L 266.64484 256.438207 
L 267.096467 257.848436 
L 267.548095 258.714556 
L 267.999722 257.352162 
L 268.451349 259.998948 
L 269.354604 257.044095 
L 269.806231 258.856881 
L 270.257858 258.01966 
L 270.709485 256.786568 
L 271.161113 258.328143 
L 271.61274 258.109113 
L 272.064367 258.395522 
L 272.515994 257.753372 
L 272.967622 257.67524 
L 273.419249 258.668882 
L 273.870876 256.269203 
L 274.322503 258.467902 
L 274.788 259.036414 
L 275.112 234.137088 
L 275.436 257.169511 
L 275.677385 257.169511 
L 276.129013 258.001672 
L 276.58064 257.571119 
L 277.032267 261.07079 
L 277.483894 257.893563 
L 277.935522 258.092865 
L 278.387149 259.741363 
L 278.838776 258.998485 
L 279.290403 257.065234 
L 279.742031 256.606692 
L 280.193658 259.329257 
L 280.645285 260.051259 
L 281.096912 258.249253 
L 281.54854 258.014748 
L 282.000167 258.885239 
L 282.451794 259.359284 
L 282.903421 260.75109 
L 283.355049 257.961935 
L 283.806676 258.719286 
L 284.258303 260.448943 
L 284.70993 259.084201 
L 285.161558 258.13776 
L 285.613185 258.836899 
L 286.064812 256.325828 
L 286.516439 258.346447 
L 286.776 258.346447 
L 287.1 232.008192 
L 287.424 257.553476 
L 287.871321 257.553476 
L 288.322949 257.138636 
L 289.226203 259.157602 
L 289.67783 257.172602 
L 290.129458 260.089659 
L 290.581085 258.341462 
L 291.032712 259.166361 
L 291.484339 258.39033 
L 291.935967 258.222995 
L 292.387594 257.489483 
L 292.839221 260.661752 
L 293.290848 257.750306 
L 293.742476 253.706112 
L 294.64573 258.519703 
L 295.097357 256.515081 
L 295.548985 259.001974 
L 296.000612 258.060564 
L 296.452239 257.600353 
L 296.903866 259.264523 
L 297.355494 258.35669 
L 297.807121 259.481772 
L 298.258748 257.055084 
L 298.710376 258.036977 
L 299.162003 255.149581 
L 299.61363 258.38336 
L 300.065257 258.064367 
L 300.516885 255.865941 
L 300.968512 257.615087 
L 301.420139 257.27212 
L 301.871766 259.649616 
L 302.323394 257.302259 
L 302.775021 259.419669 
L 303.226648 257.792413 
L 303.678275 259.507789 
L 304.129903 256.886576 
L 304.58153 257.626421 
L 305.033157 260.134256 
L 305.484784 259.360624 
L 305.936412 257.897475 
L 306.388039 259.266763 
L 306.839666 258.256855 
L 307.291293 258.646356 
L 307.742921 259.568035 
L 308.194548 258.229801 
L 308.646175 257.439172 
L 309.097803 257.122034 
L 309.54943 258.800653 
L 310.001057 257.534699 
L 310.452684 259.077775 
L 310.904312 257.816543 
L 311.355939 259.750367 
L 311.807566 257.439802 
L 312.710821 259.411302 
L 313.162448 256.371871 
L 313.614075 256.000605 
L 314.065702 258.939876 
L 314.51733 257.637904 
L 314.968957 257.062127 
L 315.420584 249.977742 
L 315.872211 250.583521 
L 316.323839 258.523611 
L 316.775466 258.253085 
L 317.227093 258.533304 
L 317.67872 256.084207 
L 318.130348 259.5224 
L 318.581975 258.320435 
L 319.033602 257.682727 
L 319.485229 259.094544 
L 319.936857 257.197976 
L 320.388484 258.552891 
L 320.840111 256.628307 
L 321.291739 259.783276 
L 321.743366 255.052237 
L 322.194993 256.884369 
L 322.64662 256.232671 
L 323.098248 257.439871 
L 323.549875 259.107143 
L 324.001502 258.79814 
L 324.453129 259.377975 
L 324.904757 260.324879 
L 325.356384 257.547237 
L 325.808011 258.863359 
L 325.944 258.863359 
L 325.980261 -1 
M 326.340005 -1 
L 326.376 256.570519 
L 326.711266 256.570519 
L 327.162893 259.655003 
L 327.61452 257.400557 
L 328.066147 259.534444 
L 328.517775 258.663909 
L 328.969402 259.030452 
L 329.421029 258.096972 
L 329.872656 253.255118 
L 330.324284 251.652019 
L 330.775911 259.186926 
L 331.227538 258.144453 
L 332.130793 258.176224 
L 332.58242 256.550062 
L 333.034047 257.894758 
L 333.485675 258.657073 
L 333.937302 258.912519 
L 334.388929 256.901754 
L 334.840556 259.134964 
L 335.292184 258.842878 
L 335.743811 257.976232 
L 336.195438 257.671741 
L 336.647065 257.873611 
L 337.098693 259.580206 
L 337.55032 259.165593 
L 338.001947 260.178231 
L 338.453574 260.423107 
L 338.905202 259.792671 
L 339.356829 257.680315 
L 339.808456 258.533758 
L 340.260083 260.407591 
L 340.711711 258.354074 
L 341.163338 258.30357 
L 341.614965 256.079115 
L 342.066592 257.323415 
L 342.51822 257.50942 
L 342.969847 255.937309 
L 343.421474 257.263545 
L 343.873102 259.225005 
L 344.324729 259.464276 
L 345.227983 252.65085 
L 345.679611 253.226213 
L 346.131238 253.030711 
L 346.582865 255.293454 
L 347.034492 256.509509 
L 347.48612 258.437018 
L 347.976 258.209177 
L 348.192 286.827264 
L 348.408 258.466256 
L 348.912 258.466256 
L 349.128 242.652672 
L 349.344 258.424236 
L 349.744256 258.424236 
L 350.195883 256.220445 
L 350.64751 255.255273 
L 351.550765 259.327068 
L 352.002392 259.001461 
L 352.454019 258.112801 
L 353.357274 257.512093 
L 353.808901 257.715775 
L 354.260529 255.938955 
L 354.712156 257.203518 
L 355.163783 256.627319 
L 355.61541 257.450001 
L 356.067038 256.941181 
L 356.518665 258.551338 
L 356.970292 258.263687 
L 357.421919 256.410741 
L 357.873547 259.811084 
L 358.325174 259.323252 
L 358.776801 256.456511 
L 359.228428 257.115718 
L 359.680056 250.942029 
L 359.892 250.942029 
L 360.216 237.330432 
L 360.58331 256.266717 
L 361.034937 258.306934 
L 361.486565 256.290697 
L 361.938192 257.320014 
L 362.389819 257.500067 
L 362.841446 257.944953 
L 363.293074 258.703718 
L 363.744701 258.953314 
L 364.196328 258.762268 
L 364.647955 255.967332 
L 365.099583 256.755069 
L 365.55121 256.428561 
L 366.002837 258.583477 
L 366.336 258.583477 
L 366.66 120.773376 
L 366.984 258.397563 
L 367.809346 258.292312 
L 368.260974 260.340933 
L 368.712601 258.427299 
L 369.164228 260.022807 
L 369.615855 258.004448 
L 369.936 258.004448 
L 370.26 144.723456 
L 370.584 258.456094 
L 370.970737 258.456094 
L 371.422364 257.841228 
L 371.873992 258.090627 
L 372.325619 256.656078 
L 372.777246 259.045959 
L 373.228873 257.463314 
L 373.680501 258.289511 
L 374.132128 259.843708 
L 374.583755 248.820428 
L 375.48701 247.298006 
L 375.938637 259.767105 
L 376.841892 258.028277 
L 377.293519 261.175853 
L 377.745146 258.619194 
L 378.196773 257.631419 
L 378.648401 255.887578 
L 379.551655 259.594477 
L 380.003282 257.479414 
L 380.45491 257.056864 
L 380.906537 260.382022 
L 381.358164 257.688527 
L 381.809791 255.948787 
L 382.261419 257.575628 
L 382.713046 258.104819 
L 383.164673 259.164366 
L 383.6163 249.423359 
L 384.067928 246.220397 
L 384.519555 248.549361 
L 384.971182 257.097692 
L 385.422809 256.744658 
L 385.874437 257.045942 
L 386.326064 257.93931 
L 386.777691 257.605586 
L 387.229318 259.89119 
L 387.680946 259.192678 
L 388.132573 257.985602 
L 388.5842 255.007781 
L 389.035828 253.420055 
L 389.487455 256.766333 
L 389.939082 256.337697 
L 390.390709 256.991917 
L 390.842337 258.552718 
L 391.293964 258.234484 
L 391.745591 259.428899 
L 392.197218 256.880555 
L 392.648846 255.888591 
L 393.100473 258.325013 
L 393.5521 257.99861 
L 394.003727 257.113577 
L 394.455355 257.126887 
L 394.906982 259.01164 
L 395.244 259.01164 
L 395.568 234.669312 
L 395.892 256.40178 
L 396.261864 256.40178 
L 396.756 257.055965 
L 397.08 248.507136 
L 397.404 257.84153 
L 397.616745 257.84153 
L 398.068373 256.809172 
L 398.196 256.809172 
L 398.52 251.168256 
L 398.844 257.712173 
L 398.844 257.712173 
" clip-path="url(#p02d3b5d28d)" style="fill: none; stroke: #9467bd; stroke-opacity: 0.5; stroke-width: 1.5; stroke-linecap: square"/>
   </g>
   <g id="line2d_36">
    <path d="M 73.8 304.77343 
L 74.251627 305.011818 
L 74.703255 304.791591 
L 75.154882 304.405911 
L 75.606509 305.105625 
L 76.058136 304.683315 
L 76.509764 306.021201 
L 76.961391 305.760139 
L 77.413018 305.266778 
L 77.864645 304.175316 
L 78.316273 305.719281 
L 78.7679 305.412088 
L 79.219527 304.76245 
L 79.671154 305.526041 
L 80.574409 306.449604 
L 81.026036 304.685366 
L 81.477663 305.913689 
L 81.929291 304.967271 
L 82.380918 304.860785 
L 82.832545 305.829449 
L 83.284172 304.904277 
L 83.7358 306.561189 
L 84.187427 305.262786 
L 84.639054 305.858417 
L 85.090682 305.044326 
L 85.993936 305.07525 
L 86.445563 304.793859 
L 86.897191 305.60179 
L 87.348818 306.119038 
L 87.800445 305.986552 
L 88.252072 304.553906 
L 88.7037 305.859561 
L 89.606954 304.965348 
L 90.058581 305.294413 
L 90.510209 305.827063 
L 90.961836 306.545551 
L 91.413463 304.590631 
L 91.86509 305.563562 
L 92.316718 306.236411 
L 93.219972 305.162191 
L 93.671599 306.45239 
L 94.123227 305.10506 
L 94.574854 305.189098 
L 95.026481 304.904706 
L 95.478108 305.186495 
L 95.929736 305.832295 
L 96.381363 306.238913 
L 96.83299 305.322518 
L 97.284618 305.530823 
L 97.736245 304.215388 
L 98.187872 305.382061 
L 98.639499 304.93572 
L 99.091127 305.160975 
L 99.542754 306.320234 
L 99.994381 304.714633 
L 100.897636 306.126249 
L 101.349263 304.936433 
L 101.80089 304.409672 
L 102.252517 305.277356 
L 102.704145 305.382143 
L 103.155772 305.612397 
L 103.607399 305.476259 
L 104.059026 304.490924 
L 104.510654 305.149714 
L 105.413908 304.834541 
L 105.865535 307.075346 
L 106.317163 305.097725 
L 106.76879 304.839237 
L 107.064 304.839237 
L 107.105446 -1 
M 107.454411 -1 
L 107.496 306.153204 
L 107.672045 306.153204 
L 108.123672 305.705715 
L 108.575299 304.772259 
L 109.026926 304.939374 
L 109.478554 304.920655 
L 109.930181 305.935456 
L 110.833435 304.282354 
L 111.285063 305.178457 
L 111.73669 304.344835 
L 112.284 304.652993 
L 112.346138 -1 
M 112.869701 -1 
L 112.932 305.634644 
L 113.994826 305.634797 
L 114.446453 304.474056 
L 114.898081 304.409575 
L 115.349708 305.867688 
L 115.801335 306.025112 
L 116.70459 304.372083 
L 117.156217 305.033075 
L 117.607844 304.801834 
L 118.059471 304.898098 
L 118.511099 304.838181 
L 118.962726 305.291647 
L 119.412 305.291647 
L 119.736 281.505024 
L 120.06 305.27515 
L 120.317608 305.27515 
L 120.769235 304.137383 
L 121.220862 305.88148 
L 121.67249 305.451224 
L 122.124117 305.742735 
L 122.575744 304.527289 
L 123.027371 304.515105 
L 123.478999 305.681722 
L 123.930626 305.158439 
L 124.382253 305.493585 
L 124.83388 306.074316 
L 125.285508 305.719493 
L 125.737135 304.996609 
L 126.188762 304.848529 
L 126.640389 305.671346 
L 127.995271 304.33048 
L 129.350153 306.205673 
L 129.80178 305.162951 
L 130.705035 305.575388 
L 131.156662 305.64246 
L 131.608289 305.560693 
L 132.511544 304.776258 
L 132.963171 305.721809 
L 133.414798 304.025001 
L 133.866426 304.30288 
L 134.318053 305.359523 
L 134.76968 305.007727 
L 135.221307 304.240862 
L 135.672935 305.780256 
L 136.124562 305.59157 
L 136.576189 305.587879 
L 137.027816 305.840333 
L 137.479444 304.748309 
L 137.931071 305.337891 
L 138.382698 305.137241 
L 138.834325 305.147305 
L 139.285953 305.325591 
L 139.73758 304.240708 
L 140.189207 305.303688 
L 141.092462 306.070088 
L 141.995716 305.079827 
L 142.898971 305.016151 
L 143.350598 305.46103 
L 143.802225 304.920678 
L 144 304.920678 
L 144.041455 -1 
M 144.390432 -1 
L 144.432 305.956109 
L 144.70548 305.956109 
L 145.157107 304.944043 
L 145.608734 304.932465 
L 146.060362 305.367645 
L 146.511989 304.501815 
L 147.415243 305.670907 
L 147.866871 304.598346 
L 148.318498 304.073823 
L 148.770125 305.922718 
L 149.67338 304.635213 
L 150.125007 304.806556 
L 151.028261 304.363084 
L 151.479889 306.322829 
L 151.931516 304.75542 
L 152.383143 306.219489 
L 152.834771 305.790326 
L 153.286398 305.879582 
L 153.738025 304.889105 
L 154.189652 306.243666 
L 154.64128 305.12972 
L 155.092907 306.150612 
L 155.544534 303.931553 
L 155.996161 305.528946 
L 156.447789 305.205133 
L 156.899416 305.940816 
L 157.351043 305.560445 
L 157.80267 304.363746 
L 158.254298 305.039026 
L 158.705925 305.930546 
L 159.157552 305.514027 
L 159.609179 305.295958 
L 160.060807 304.084105 
L 160.512434 305.270077 
L 161.415688 304.526899 
L 161.867316 303.683258 
L 162.77057 305.873247 
L 163.222197 305.823519 
L 163.673825 304.113505 
L 164.125452 304.935464 
L 164.577079 306.415194 
L 165.028707 305.520278 
L 165.931961 305.41285 
L 166.383588 304.786605 
L 166.835216 304.768647 
L 167.286843 304.344347 
L 167.73847 306.396503 
L 168.190097 305.007773 
L 168.641725 305.32481 
L 169.093352 305.870404 
L 169.544979 304.659665 
L 169.996606 306.039277 
L 170.448234 306.077674 
L 170.899861 304.164812 
L 171.351488 304.933427 
L 172.254743 304.357019 
L 172.70637 306.007992 
L 173.157997 304.319821 
L 173.609624 305.126229 
L 174.512879 304.676432 
L 174.964506 304.784065 
L 175.416134 305.433399 
L 176.319388 305.085425 
L 176.771015 304.516132 
L 177.222643 306.598054 
L 177.67427 304.284799 
L 178.125897 305.782156 
L 178.577524 303.797929 
L 179.029152 304.879499 
L 179.480779 304.066214 
L 179.932406 305.331239 
L 180.384033 304.079243 
L 180.835661 304.916368 
L 181.908 304.892779 
L 182.232 288.95616 
L 182.64217 306.131737 
L 183.093797 306.221234 
L 183.545424 305.130676 
L 183.997051 305.327229 
L 184.448679 304.658719 
L 184.900306 304.959382 
L 185.351933 304.390939 
L 185.803561 305.635644 
L 186.255188 304.960051 
L 187.158442 305.932092 
L 187.61007 306.321645 
L 188.061697 305.251514 
L 188.513324 305.782613 
L 188.964951 305.53367 
L 189.416579 305.808125 
L 189.868206 305.896507 
L 190.319833 303.386944 
L 190.77146 305.167922 
L 191.223088 306.036146 
L 191.674715 305.321756 
L 192.126342 305.184913 
L 192.577969 306.141943 
L 193.029597 304.520576 
L 193.481224 305.794376 
L 193.932851 304.866443 
L 194.384478 305.50038 
L 194.836106 305.725865 
L 195.287733 303.132864 
L 195.73936 305.603997 
L 196.190987 306.191125 
L 196.642615 305.548052 
L 197.094242 305.855465 
L 197.545869 304.516214 
L 197.997497 304.935616 
L 198.449124 305.979689 
L 198.900751 304.081717 
L 199.352378 305.365479 
L 199.804006 306.061562 
L 200.255633 304.515953 
L 200.70726 304.796494 
L 201.158887 305.872917 
L 201.610515 305.948208 
L 202.062142 305.321383 
L 202.513769 305.654 
L 202.965396 304.866952 
L 203.417024 305.038552 
L 203.868651 305.988988 
L 204.444 305.921096 
L 204.768 285.762816 
L 205.092 304.383408 
L 205.223533 304.383408 
L 205.67516 305.634554 
L 206.126787 304.834878 
L 206.578414 305.63856 
L 207.030042 304.941412 
L 207.481669 305.591499 
L 207.933296 304.951327 
L 208.384924 305.800078 
L 208.836551 305.707395 
L 209.288178 303.975887 
L 209.739805 304.628732 
L 210.191433 306.035408 
L 210.64306 304.467663 
L 211.094687 305.337618 
L 211.546314 304.354556 
L 211.997942 306.096218 
L 212.449569 305.29446 
L 213.804451 305.983954 
L 214.256078 303.974585 
L 214.707705 305.234311 
L 215.159332 305.434281 
L 215.61096 306.300158 
L 216.062587 304.502919 
L 216.514214 304.498804 
L 217.417469 306.114293 
L 217.869096 304.854531 
L 218.320723 305.2237 
L 218.77235 306.166759 
L 219.223978 303.87056 
L 219.675605 304.750439 
L 219.852 304.750439 
L 220.176 286.29504 
L 220.57886 305.745525 
L 221.030487 304.711665 
L 221.482114 304.446594 
L 221.933741 304.832158 
L 222.385369 304.87475 
L 222.836996 305.453103 
L 223.288623 303.863888 
L 223.74025 305.382257 
L 224.191878 305.054609 
L 224.643505 304.950106 
L 225.095132 305.377986 
L 225.998387 304.189616 
L 226.450014 306.633249 
L 226.901641 305.327974 
L 227.353268 304.377102 
L 227.804896 304.277757 
L 228.256523 305.49109 
L 228.70815 304.752009 
L 229.159777 305.064057 
L 229.611405 305.091788 
L 230.063032 305.593628 
L 230.514659 304.534653 
L 230.966287 304.407716 
L 231.417914 304.149582 
L 231.869541 305.010397 
L 232.321168 305.092983 
L 232.772796 304.448075 
L 233.224423 303.029094 
L 233.67605 305.327151 
L 234.127677 305.232871 
L 234.579305 304.033619 
L 235.030932 305.908359 
L 235.482559 306.814148 
L 235.934186 304.535032 
L 236.385814 304.266952 
L 236.837441 304.311345 
L 237.289068 304.517606 
L 237.740695 304.456589 
L 238.192323 305.615133 
L 238.64395 304.487887 
L 239.095577 305.81106 
L 239.547204 306.181186 
L 239.998832 305.312183 
L 240.450459 306.002825 
L 240.902086 305.882463 
L 241.353713 305.590461 
L 241.805341 305.441422 
L 242.256968 305.078576 
L 242.708595 305.835843 
L 244.515104 304.871246 
L 244.966732 304.679684 
L 245.34 304.679684 
L 245.664 274.053888 
L 245.988 304.743384 
L 246.321613 304.743384 
L 246.773241 305.188069 
L 247.224868 305.059175 
L 247.676495 305.766499 
L 248.128122 305.027881 
L 248.57975 304.542314 
L 249.031377 305.602398 
L 249.483004 304.326404 
L 249.934631 305.510687 
L 250.386259 304.481298 
L 250.837886 304.092834 
L 251.289513 297.326295 
L 251.74114 297.726394 
L 252.192768 304.886829 
L 252.644395 305.434612 
L 253.096022 305.764197 
L 253.54765 304.502794 
L 253.999277 306.418084 
L 254.450904 304.592589 
L 254.902531 305.681069 
L 255.354159 304.575435 
L 255.805786 305.507178 
L 255.996 305.507178 
L 256.32 146.852352 
L 256.70904 305.503036 
L 257.160668 306.63238 
L 257.612295 303.286758 
L 258.063922 305.160116 
L 258.515549 305.262928 
L 258.967177 305.187873 
L 259.418804 305.389126 
L 259.870431 304.990488 
L 260.322058 305.673134 
L 260.773686 303.770452 
L 261.225313 305.634147 
L 261.67694 304.763529 
L 262.128567 304.314157 
L 262.580195 305.326936 
L 263.031822 304.618496 
L 263.483449 305.533576 
L 263.935076 305.828601 
L 264.386704 305.702865 
L 264.838331 304.480301 
L 265.289958 304.503565 
L 265.741586 305.772634 
L 266.22 304.524961 
L 266.544 280.440576 
L 266.868 305.06765 
L 267.096467 305.06765 
L 267.548095 304.732711 
L 267.999722 306.5204 
L 268.451349 304.784021 
L 269.354604 306.147116 
L 269.806231 304.748616 
L 270.257858 305.003658 
L 270.709485 304.9598 
L 271.161113 305.371158 
L 271.61274 305.629135 
L 272.064367 306.048294 
L 272.515994 305.345104 
L 272.967622 305.87825 
L 273.419249 305.485821 
L 273.870876 304.936501 
L 274.322503 304.682814 
L 274.774131 304.924342 
L 275.225758 305.015092 
L 275.677385 305.37701 
L 276.129013 304.586927 
L 276.732 304.439053 
L 277.056 275.118336 
L 277.483894 305.482664 
L 277.935522 305.834718 
L 278.387149 305.393107 
L 278.838776 305.483123 
L 279.290403 303.934558 
L 279.742031 304.321679 
L 280.193658 306.078698 
L 280.645285 304.699329 
L 281.096912 305.356175 
L 281.54854 306.327986 
L 282.000167 305.037114 
L 282.451794 305.642404 
L 282.903421 305.002495 
L 283.355049 304.864746 
L 283.806676 305.623997 
L 284.258303 304.234241 
L 284.70993 305.113847 
L 285.613185 306.260261 
L 286.064812 303.762656 
L 286.516439 305.721286 
L 286.968067 305.161428 
L 287.419694 305.019106 
L 287.871321 304.627688 
L 288.322949 306.07908 
L 288.774576 306.782912 
L 289.226203 305.137721 
L 289.67783 306.174702 
L 290.129458 305.390258 
L 290.581085 303.873654 
L 291.032712 305.595059 
L 291.276 305.595059 
L 291.6 275.118336 
L 291.935967 305.93247 
L 292.387594 303.277284 
L 292.839221 305.456672 
L 293.290848 304.95426 
L 294.194103 305.607725 
L 294.64573 304.520792 
L 295.097357 305.364604 
L 295.548985 305.812036 
L 296.000612 301.522596 
L 296.903866 301.117261 
L 297.355494 305.135491 
L 297.807121 305.755799 
L 298.258748 305.560034 
L 298.710376 303.887365 
L 299.162003 305.400865 
L 299.61363 304.354048 
L 300.065257 305.524216 
L 300.516885 305.009037 
L 300.968512 305.648496 
L 301.420139 306.528549 
L 302.323394 304.679703 
L 302.775021 304.428394 
L 303.226648 304.554833 
L 303.678275 305.612898 
L 304.129903 305.468258 
L 304.58153 306.001979 
L 305.033157 305.081419 
L 305.484784 304.730782 
L 305.936412 305.115203 
L 306.388039 305.747138 
L 306.839666 305.002755 
L 307.291293 305.200054 
L 307.742921 304.950325 
L 308.194548 305.380294 
L 308.646175 305.129124 
L 309.097803 305.728967 
L 309.54943 305.802236 
L 310.001057 306.904267 
L 310.452684 305.118806 
L 310.904312 305.151773 
L 311.355939 305.879969 
L 311.807566 304.252881 
L 312.259193 304.460047 
L 312.710821 304.134506 
L 313.162448 305.320747 
L 313.614075 305.408682 
L 314.968957 304.25732 
L 315.420584 305.858599 
L 315.872211 305.344516 
L 316.323839 306.551775 
L 316.775466 305.403988 
L 317.227093 304.639418 
L 317.67872 304.784134 
L 318.130348 303.696293 
L 318.581975 304.784428 
L 319.033602 305.503191 
L 319.485229 305.718993 
L 319.936857 305.054848 
L 320.388484 304.15041 
L 320.840111 306.042978 
L 321.291739 305.848585 
L 321.743366 305.17297 
L 322.194993 305.446327 
L 322.64662 304.643232 
L 323.098248 305.526935 
L 323.549875 305.194749 
L 324.001502 305.231535 
L 324.453129 305.083294 
L 324.904757 304.333622 
L 325.356384 306.06818 
L 325.808011 306.35276 
L 326.259638 306.196033 
L 326.711266 305.414433 
L 327.61452 304.876275 
L 328.517775 305.140345 
L 328.969402 306.384394 
L 329.872656 304.945276 
L 330.324284 306.031562 
L 330.775911 305.541272 
L 331.227538 305.508501 
L 331.679166 304.906633 
L 332.130793 305.798792 
L 332.58242 306.316713 
L 333.034047 305.466216 
L 333.485675 305.414669 
L 333.937302 304.684463 
L 334.388929 305.619266 
L 334.840556 305.37838 
L 335.292184 305.565158 
L 335.743811 305.541443 
L 336.195438 303.877707 
L 336.647065 306.880865 
L 337.098693 304.843548 
L 337.55032 305.746273 
L 338.001947 305.178622 
L 338.453574 306.230598 
L 338.905202 305.099113 
L 339.356829 305.755975 
L 339.808456 304.863989 
L 340.260083 304.34189 
L 340.711711 306.042769 
L 341.163338 306.27459 
L 341.614965 304.482395 
L 342.066592 303.957754 
L 342.969847 306.576105 
L 343.421474 306.245719 
L 343.873102 304.605952 
L 344.324729 304.084573 
L 344.776356 305.310138 
L 345.227983 306.107184 
L 345.679611 304.477563 
L 346.131238 306.113521 
L 346.582865 305.672636 
L 347.48612 305.645358 
L 347.937747 304.875173 
L 348.389374 305.85938 
L 349.292629 304.518901 
L 349.744256 304.517933 
L 350.195883 304.349965 
L 351.099138 306.339584 
L 351.550765 305.103677 
L 352.454019 305.03851 
L 352.905647 305.478175 
L 353.357274 304.92904 
L 353.808901 305.893958 
L 354.260529 304.693092 
L 354.712156 304.072216 
L 355.163783 305.133491 
L 355.61541 305.185949 
L 356.067038 304.805893 
L 356.970292 304.847632 
L 357.873547 305.400627 
L 358.325174 304.194711 
L 358.776801 305.996186 
L 359.228428 304.487076 
L 359.680056 305.774922 
L 360.131683 304.908396 
L 360.58331 305.837779 
L 361.034937 306.223906 
L 361.486565 305.891763 
L 361.938192 305.851346 
L 362.389819 304.354553 
L 362.841446 305.614215 
L 363.293074 305.679724 
L 363.744701 305.859769 
L 364.196328 305.245574 
L 364.647955 305.241309 
L 365.099583 304.862733 
L 365.55121 301.366413 
L 366.002837 301.697585 
L 366.454465 305.270342 
L 366.906092 304.664158 
L 367.357719 304.744719 
L 367.809346 305.870259 
L 368.260974 305.551973 
L 368.712601 305.013138 
L 369.615855 306.138723 
L 370.067483 305.103292 
L 370.51911 305.460024 
L 371.422364 304.679643 
L 371.873992 305.547192 
L 372.325619 305.964457 
L 372.777246 305.720617 
L 373.228873 304.726628 
L 373.680501 305.163994 
L 374.132128 304.724435 
L 374.583755 305.451465 
L 375.035382 304.74815 
L 375.48701 305.537957 
L 375.938637 305.639579 
L 376.390264 305.229624 
L 377.293519 305.379538 
L 377.745146 305.191238 
L 378.196773 304.606529 
L 378.648401 305.658921 
L 379.100028 306.356785 
L 379.551655 304.955758 
L 380.003282 304.005499 
L 380.45491 304.54296 
L 380.906537 305.994644 
L 381.358164 304.929683 
L 381.809791 304.501992 
L 382.261419 304.641941 
L 382.713046 304.042926 
L 383.164673 304.671743 
L 383.6163 307.022894 
L 384.067928 304.849193 
L 384.519555 305.718906 
L 384.971182 305.818666 
L 385.422809 306.329556 
L 385.874437 306.049685 
L 386.326064 305.460753 
L 386.777691 304.513484 
L 387.229318 304.482587 
L 387.680946 304.791897 
L 388.132573 304.420177 
L 388.5842 305.478637 
L 389.035828 305.765555 
L 389.487455 303.984404 
L 389.939082 304.91992 
L 390.390709 305.449189 
L 390.842337 304.734783 
L 391.293964 305.703558 
L 391.745591 304.196371 
L 392.197218 306.067874 
L 392.648846 305.569451 
L 393.100473 305.339584 
L 393.5521 305.347481 
L 394.003727 306.031351 
L 394.455355 304.660914 
L 394.906982 304.814409 
L 395.358609 305.180183 
L 395.810236 304.841854 
L 396.261864 305.517049 
L 396.713491 304.587265 
L 397.165118 305.586905 
L 397.616745 305.908086 
L 398.068373 305.329861 
L 398.52 305.34183 
L 398.52 305.34183 
" clip-path="url(#p02d3b5d28d)" style="fill: none; stroke: #8c564b; stroke-opacity: 0.5; stroke-width: 1.5; stroke-linecap: square"/>
   </g>
   <g id="line2d_37">
    <path d="M 73.8 304.564132 
L 74.251627 305.069996 
L 74.703255 305.314941 
L 75.154882 303.677524 
L 75.606509 305.064682 
L 76.058136 305.312527 
L 76.509764 304.522451 
L 76.961391 304.976523 
L 77.413018 304.122334 
L 77.864645 305.335174 
L 78.316273 305.455844 
L 78.7679 305.189077 
L 79.219527 303.930263 
L 80.122782 304.767039 
L 80.574409 304.873518 
L 81.026036 304.713627 
L 81.477663 305.538607 
L 81.929291 304.608032 
L 82.380918 305.23676 
L 82.832545 304.77992 
L 83.284172 304.911453 
L 83.7358 304.73342 
L 84.187427 305.21284 
L 84.564 305.21284 
L 84.62623 -1 
M 85.149739 -1 
L 85.212 305.40524 
L 85.542309 305.40524 
L 85.993936 304.64605 
L 86.445563 305.135408 
L 86.897191 304.680224 
L 87.348818 304.388945 
L 87.800445 305.225615 
L 88.252072 304.939831 
L 89.155327 304.894991 
L 89.606954 303.644055 
L 90.510209 305.633262 
L 90.961836 304.848123 
L 91.413463 305.260424 
L 91.86509 303.387515 
L 92.316718 305.312578 
L 92.768345 305.609637 
L 93.219972 304.456018 
L 93.671599 305.242424 
L 94.574854 305.061396 
L 95.026481 305.337432 
L 95.478108 305.173462 
L 95.929736 306.291463 
L 96.381363 304.976391 
L 96.83299 304.507938 
L 97.284618 303.740644 
L 97.736245 304.869399 
L 98.187872 304.39031 
L 98.639499 305.361816 
L 99.091127 303.992161 
L 99.542754 303.50098 
L 99.994381 304.695256 
L 100.446008 305.117432 
L 100.897636 304.870734 
L 101.349263 303.930593 
L 101.80089 305.68057 
L 102.252517 304.09894 
L 102.704145 305.522987 
L 103.155772 305.417518 
L 103.607399 304.730548 
L 104.962281 304.003812 
L 105.413908 305.606862 
L 105.865535 304.850949 
L 106.317163 304.413075 
L 106.76879 304.725292 
L 107.220417 304.189353 
L 107.672045 304.871722 
L 108.123672 305.081234 
L 108.575299 306.300355 
L 109.026926 306.073426 
L 109.478554 304.402232 
L 109.930181 305.616362 
L 110.381808 304.704078 
L 110.833435 304.489199 
L 111.285063 304.971123 
L 111.73669 304.263349 
L 112.188317 305.302635 
L 112.639944 304.527655 
L 113.091572 304.976325 
L 113.543199 305.830273 
L 113.994826 306.155733 
L 114.898081 303.878834 
L 115.349708 304.170138 
L 115.801335 304.601695 
L 116.252962 304.399939 
L 116.70459 304.334301 
L 117.156217 305.054004 
L 117.607844 304.077212 
L 118.511099 305.220018 
L 118.962726 302.474614 
L 119.414353 304.480724 
L 119.865981 304.974923 
L 120.317608 304.417125 
L 120.769235 305.66285 
L 120.924 305.66285 
L 120.986304 -1 
M 121.51002 -1 
L 121.67249 303.692386 
L 122.124117 304.507224 
L 122.575744 305.580642 
L 123.027371 305.924276 
L 123.478999 304.970791 
L 123.930626 305.564572 
L 124.382253 304.074093 
L 124.83388 306.123983 
L 125.285508 304.138793 
L 125.737135 305.556773 
L 126.188762 305.704736 
L 126.640389 304.89025 
L 127.092017 305.71872 
L 127.548 305.289294 
L 127.872 288.423936 
L 128.196 306.456527 
L 128.446898 306.456527 
L 129.350153 304.707952 
L 129.80178 306.239509 
L 130.253408 305.79091 
L 130.705035 305.509879 
L 131.156662 304.346093 
L 131.608289 304.345757 
L 132.059917 303.983791 
L 132.511544 305.540686 
L 132.963171 304.412277 
L 133.414798 304.779942 
L 133.866426 305.755257 
L 134.318053 304.600024 
L 135.221307 305.353502 
L 135.576 305.353502 
L 135.638253 -1 
M 136.161868 -1 
L 136.224 304.614638 
L 137.027816 304.650894 
L 137.479444 305.116185 
L 138.382698 305.314059 
L 138.834325 304.448999 
L 139.285953 304.809121 
L 139.73758 306.067631 
L 139.86 306.067631 
L 140.184 292.149504 
L 140.508 304.633462 
L 140.640834 304.633462 
L 141.092462 305.316187 
L 141.544089 305.23569 
L 141.995716 305.30929 
L 142.447344 304.530825 
L 142.898971 305.189502 
L 143.350598 304.951807 
L 143.802225 304.878498 
L 144.253853 303.948409 
L 144.70548 305.891897 
L 145.157107 303.44689 
L 145.608734 305.701278 
L 146.060362 305.072054 
L 146.511989 305.448297 
L 146.963616 304.847931 
L 147.415243 304.580061 
L 147.866871 303.443683 
L 148.318498 304.169273 
L 148.770125 305.362775 
L 149.221752 304.789253 
L 149.67338 304.852671 
L 150.125007 305.353431 
L 150.576634 304.550481 
L 151.028261 304.757461 
L 151.479889 305.211461 
L 151.931516 305.367687 
L 152.383143 304.47493 
L 152.834771 305.001596 
L 153.286398 304.165627 
L 153.738025 304.375519 
L 154.189652 305.699269 
L 154.64128 306.268959 
L 155.092907 304.89954 
L 155.544534 302.909167 
L 155.996161 303.139833 
L 156.447789 302.939165 
L 157.351043 305.068191 
L 157.80267 303.71362 
L 158.254298 304.427942 
L 158.705925 306.03653 
L 159.157552 304.641357 
L 159.609179 303.973421 
L 160.060807 306.063359 
L 160.512434 305.736338 
L 160.964061 304.995016 
L 161.415688 305.276104 
L 161.867316 303.84143 
L 162.318943 305.475343 
L 162.77057 303.834509 
L 163.222197 305.819637 
L 163.673825 305.471673 
L 164.125452 304.711324 
L 164.577079 304.590775 
L 165.028707 304.824669 
L 165.480334 303.891067 
L 166.383588 303.657503 
L 166.835216 304.979931 
L 167.286843 304.356611 
L 167.73847 305.09167 
L 168.190097 303.999151 
L 168.641725 306.399942 
L 169.093352 305.33233 
L 169.544979 305.05261 
L 169.996606 305.227525 
L 170.448234 303.894397 
L 170.899861 305.805643 
L 171.351488 305.438443 
L 171.803115 305.684378 
L 172.254743 304.940671 
L 172.70637 305.496499 
L 173.157997 304.309283 
L 173.609624 304.341479 
L 174.061252 306.268589 
L 174.512879 306.279348 
L 174.964506 304.38975 
L 175.416134 304.663453 
L 175.867761 305.936269 
L 176.319388 304.937378 
L 176.771015 305.709763 
L 177.67427 303.367207 
L 178.125897 302.91795 
L 178.577524 302.216851 
L 179.029152 304.884302 
L 179.480779 304.241244 
L 179.932406 304.647897 
L 180.384033 305.876101 
L 180.835661 304.764105 
L 181.287288 305.639642 
L 181.738915 303.988274 
L 182.190542 303.903442 
L 182.64217 304.187446 
L 183.093797 303.50646 
L 183.545424 304.40247 
L 183.997051 303.96939 
L 184.448679 304.309676 
L 185.351933 304.358368 
L 185.803561 304.727028 
L 186.255188 303.758465 
L 186.706815 305.614352 
L 187.158442 305.921805 
L 187.61007 305.410167 
L 188.061697 303.898134 
L 188.513324 305.088262 
L 188.964951 305.439332 
L 189.416579 305.459951 
L 189.868206 304.620507 
L 190.319833 304.953542 
L 190.77146 304.148619 
L 191.223088 305.125661 
L 191.674715 304.333424 
L 192.096 304.333424 
L 192.158085 -1 
M 192.682139 -1 
L 192.744 302.967663 
L 193.029597 302.967663 
L 193.481224 305.043578 
L 193.932851 304.996946 
L 194.384478 304.29202 
L 194.836106 305.549291 
L 195.287733 305.209462 
L 195.73936 305.264306 
L 196.190987 304.751786 
L 196.642615 305.793808 
L 197.094242 303.997602 
L 197.545869 304.826971 
L 197.997497 303.019321 
L 198.449124 303.242015 
L 198.900751 303.158905 
L 199.352378 306.395757 
L 199.804006 304.096141 
L 200.255633 305.477489 
L 200.70726 304.384575 
L 201.158887 305.010896 
L 201.610515 305.046609 
L 202.062142 304.593001 
L 202.513769 303.834215 
L 202.965396 304.972956 
L 203.417024 305.282874 
L 203.868651 304.611857 
L 204.320278 306.496208 
L 204.771905 305.463939 
L 205.223533 305.548078 
L 205.67516 305.146245 
L 206.126787 305.790914 
L 206.578414 304.372913 
L 207.030042 305.112352 
L 207.481669 304.825627 
L 207.933296 304.905193 
L 208.836551 305.334126 
L 209.288178 304.087656 
L 209.739805 300.84419 
L 210.191433 300.417615 
L 210.64306 301.477662 
L 211.094687 304.736493 
L 211.546314 304.684657 
L 211.997942 305.124866 
L 212.449569 304.938332 
L 212.901196 305.951995 
L 213.804451 305.504585 
L 214.256078 305.646594 
L 214.707705 304.637702 
L 215.61096 304.653997 
L 216.062587 305.08166 
L 216.514214 304.267565 
L 216.965841 304.327434 
L 217.417469 304.549197 
L 217.869096 305.129013 
L 218.320723 303.926154 
L 218.77235 305.6764 
L 219.223978 305.960561 
L 219.675605 305.749766 
L 220.127232 304.143315 
L 220.57886 304.854332 
L 221.030487 305.292556 
L 221.482114 306.403619 
L 221.933741 305.060447 
L 222.385369 305.551293 
L 222.836996 306.254207 
L 223.288623 304.218045 
L 223.74025 304.894975 
L 224.191878 304.026215 
L 224.643505 304.926373 
L 225.095132 304.555705 
L 225.546759 305.357389 
L 225.998387 304.515178 
L 226.450014 305.172519 
L 226.901641 304.524561 
L 227.353268 304.778015 
L 227.804896 305.615253 
L 228.256523 304.899196 
L 228.70815 304.806 
L 229.159777 305.361075 
L 229.611405 304.985506 
L 230.063032 304.317493 
L 230.514659 304.122002 
L 230.796 304.122002 
L 230.858051 -1 
M 231.381899 -1 
L 231.444 304.430804 
L 231.869541 304.430804 
L 232.321168 303.734253 
L 232.772796 305.06003 
L 233.224423 305.45991 
L 233.67605 304.716484 
L 234.127677 304.775019 
L 234.579305 304.345325 
L 235.030932 305.311702 
L 235.482559 303.791737 
L 235.934186 304.323734 
L 236.385814 305.557593 
L 236.837441 304.245264 
L 237.289068 304.990547 
L 237.740695 259.607536 
L 238.192323 259.404006 
L 238.64395 260.058397 
L 239.095577 261.092434 
L 239.547204 258.581003 
L 239.998832 259.252513 
L 240.156 259.252513 
L 240.210459 -1 
M 240.749496 -1 
L 240.902086 259.509013 
L 241.353713 259.146076 
L 241.805341 259.000686 
L 242.256968 259.918986 
L 242.708595 259.985082 
L 243.160223 259.853263 
L 243.61185 259.392367 
L 244.063477 261.208195 
L 244.515104 258.560591 
L 244.966732 259.878946 
L 245.418359 259.706145 
L 245.869986 260.164342 
L 246.321613 260.176907 
L 246.773241 259.579194 
L 247.224868 259.869785 
L 247.676495 259.698544 
L 248.128122 260.172677 
L 248.57975 259.059177 
L 249.031377 260.07605 
L 249.483004 259.439926 
L 249.934631 260.348256 
L 250.386259 259.282269 
L 251.289513 259.292078 
L 251.74114 260.196978 
L 252.192768 259.702006 
L 252.644395 259.47273 
L 253.096022 258.840395 
L 253.54765 259.785985 
L 253.999277 259.406628 
L 254.450904 259.695934 
L 254.902531 260.312339 
L 255.354159 260.617463 
L 255.805786 260.553466 
L 256.257413 259.163651 
L 256.70904 261.079556 
L 257.160668 259.900531 
L 257.612295 260.558292 
L 258.063922 259.724321 
L 258.515549 259.930191 
L 258.967177 259.015015 
L 259.418804 259.547682 
L 259.870431 260.292336 
L 260.322058 259.245718 
L 260.773686 260.014358 
L 261.225313 259.312722 
L 261.67694 255.982156 
L 262.128567 256.905975 
L 262.580195 255.209754 
L 263.031822 259.925532 
L 263.483449 258.231673 
L 264.386704 260.611612 
L 264.708 260.611612 
L 264.762696 -1 
M 265.301445 -1 
L 265.356 259.802325 
L 265.741586 259.802325 
L 266.193213 260.081425 
L 267.096467 259.661031 
L 267.999722 260.413097 
L 268.451349 260.633127 
L 268.902976 259.077483 
L 269.354604 257.941659 
L 269.806231 259.402709 
L 270.257858 258.805647 
L 270.709485 259.249256 
L 271.161113 259.503784 
L 271.61274 260.605867 
L 272.064367 259.664741 
L 272.515994 259.530298 
L 272.967622 259.801125 
L 273.419249 259.936976 
L 273.870876 259.639213 
L 274.322503 259.692781 
L 275.225758 260.006454 
L 276.129013 259.501934 
L 277.032267 259.444081 
L 277.483894 259.007804 
L 277.935522 259.3268 
L 278.387149 258.923321 
L 278.838776 258.862452 
L 279.290403 260.188552 
L 279.742031 259.674166 
L 280.645285 259.570401 
L 281.096912 260.157936 
L 281.54854 258.299629 
L 282.000167 260.889955 
L 282.903421 259.316216 
L 283.355049 260.740735 
L 283.806676 259.899802 
L 284.258303 259.605962 
L 284.70993 251.508005 
L 285.161558 250.666788 
L 285.613185 252.166611 
L 286.064812 260.445173 
L 286.516439 258.575565 
L 286.968067 259.604342 
L 287.419694 259.552885 
L 287.871321 260.903935 
L 288.036 260.903935 
L 288.090747 -1 
M 288.629521 -1 
L 288.774576 259.364895 
L 289.226203 252.948706 
L 289.67783 252.759827 
L 290.129458 251.619362 
L 290.581085 260.42487 
L 291.032712 259.682585 
L 291.484339 259.921024 
L 291.935967 260.51357 
L 292.387594 259.682236 
L 292.839221 259.522258 
L 293.290848 260.976596 
L 293.508 260.976596 
L 293.832 247.442688 
L 294.194103 260.289336 
L 294.64573 260.206218 
L 295.097357 259.587766 
L 295.548985 259.245986 
L 296.000612 259.064712 
L 296.452239 260.658222 
L 296.903866 259.728022 
L 297.355494 259.135204 
L 297.807121 260.103411 
L 298.258748 260.131371 
L 298.710376 259.735808 
L 299.162003 259.078954 
L 299.61363 259.165052 
L 300.516885 259.780226 
L 300.968512 260.375099 
L 301.420139 260.181419 
L 301.871766 260.790681 
L 302.323394 258.863129 
L 302.775021 259.419629 
L 303.226648 259.719164 
L 303.678275 259.837984 
L 304.129903 259.461353 
L 304.58153 260.914016 
L 305.033157 258.812537 
L 305.484784 259.26066 
L 305.936412 260.187978 
L 306.388039 259.792254 
L 306.839666 254.001077 
L 307.291293 254.828299 
L 307.742921 258.747835 
L 308.194548 259.615248 
L 308.646175 260.223114 
L 309.097803 259.926234 
L 309.54943 259.022072 
L 310.572 260.044529 
L 310.896 251.70048 
L 311.22 259.187632 
L 311.355939 259.187632 
L 311.807566 259.065617 
L 312.259193 259.701991 
L 312.710821 259.649304 
L 313.162448 259.747616 
L 313.614075 260.487926 
L 314.065702 259.499631 
L 314.51733 260.469908 
L 314.968957 259.731845 
L 315.420584 259.551346 
L 315.756 259.551346 
L 316.08 248.507136 
L 316.404 260.285642 
L 316.775466 260.285642 
L 317.227093 259.474523 
L 317.67872 260.545712 
L 318.130348 260.326952 
L 318.581975 259.380877 
L 319.033602 260.031313 
L 319.485229 259.42689 
L 319.936857 259.742246 
L 320.388484 259.600135 
L 320.840111 259.904838 
L 321.291739 260.398265 
L 321.743366 260.619736 
L 322.194993 259.27867 
L 322.64662 259.406815 
L 323.098248 260.197427 
L 323.549875 258.579538 
L 324.001502 259.503131 
L 324.453129 259.620711 
L 324.904757 259.319683 
L 325.356384 260.195495 
L 326.259638 260.072828 
L 326.88 259.770904 
L 326.916366 -1 
M 327.275693 -1 
L 327.312 259.262691 
L 327.61452 259.262691 
L 328.066147 260.246044 
L 328.969402 257.857953 
L 329.421029 260.200678 
L 329.872656 258.721783 
L 330.324284 260.502167 
L 331.227538 259.597632 
L 331.679166 261.145711 
L 332.130793 259.837161 
L 333.034047 258.949241 
L 333.485675 259.432253 
L 333.937302 259.394987 
L 334.388929 261.074593 
L 334.840556 259.722262 
L 335.292184 259.860252 
L 335.743811 258.163471 
L 336.195438 258.860107 
L 336.647065 260.179886 
L 337.098693 258.882267 
L 337.55032 260.40265 
L 338.001947 259.321174 
L 338.453574 260.321155 
L 338.905202 258.834659 
L 339.356829 259.34511 
L 339.808456 258.845456 
L 340.260083 259.191849 
L 341.163338 260.12174 
L 341.676 259.840124 
L 342 136.740096 
L 342.324 259.36287 
L 342.969847 259.33273 
L 343.421474 259.687343 
L 343.873102 259.244302 
L 344.324729 260.240302 
L 344.776356 259.555445 
L 345.227983 256.862758 
L 345.679611 255.746587 
L 346.131238 256.053328 
L 346.582865 258.754737 
L 347.034492 260.017371 
L 347.48612 260.055174 
L 347.937747 260.744496 
L 348.389374 259.214284 
L 348.841001 260.570562 
L 349.292629 258.806919 
L 349.744256 260.536913 
L 350.195883 260.206289 
L 350.64751 261.045885 
L 351.099138 259.6945 
L 351.550765 259.362242 
L 352.002392 258.600023 
L 352.905647 259.639034 
L 353.357274 260.099191 
L 353.808901 259.843367 
L 354.260529 258.252122 
L 354.712156 258.460027 
L 355.163783 259.162802 
L 355.61541 260.478301 
L 356.067038 259.510358 
L 356.518665 259.191664 
L 356.970292 260.373372 
L 357.421919 259.346301 
L 357.873547 259.301001 
L 358.776801 260.125863 
L 359.228428 258.82759 
L 359.680056 260.024358 
L 360.131683 259.311061 
L 360.58331 259.100841 
L 361.034937 260.107571 
L 361.486565 259.305218 
L 361.938192 258.805381 
L 362.389819 259.24741 
L 362.841446 259.846338 
L 363.293074 259.48169 
L 364.196328 260.046844 
L 364.647955 259.670106 
L 366.002837 260.183239 
L 366.454465 260.566173 
L 366.906092 259.416691 
L 367.357719 260.057998 
L 367.809346 259.034943 
L 368.260974 259.704273 
L 368.712601 259.566508 
L 369.164228 259.876139 
L 369.615855 258.980282 
L 370.067483 260.604557 
L 370.51911 259.704763 
L 370.970737 259.428457 
L 371.422364 260.268015 
L 371.873992 259.963763 
L 372.325619 259.88373 
L 372.777246 258.129428 
L 373.228873 258.76278 
L 373.680501 259.178283 
L 374.132128 258.204205 
L 374.583755 258.35979 
L 375.035382 259.136719 
L 375.48701 259.584306 
L 375.938637 260.550972 
L 376.390264 260.403164 
L 376.841892 259.909233 
L 377.293519 259.893848 
L 377.745146 259.286716 
L 378.196773 260.315074 
L 378.648401 259.080551 
L 379.100028 260.146688 
L 379.551655 259.689153 
L 380.003282 260.429173 
L 380.45491 259.579466 
L 380.906537 260.883019 
L 381.358164 259.746605 
L 381.809791 259.201253 
L 382.261419 260.844406 
L 382.713046 259.879118 
L 383.164673 260.341768 
L 383.6163 259.968632 
L 384.067928 260.159759 
L 384.971182 258.490719 
L 385.422809 259.402995 
L 385.874437 259.783981 
L 386.326064 262.001324 
L 386.777691 260.347683 
L 387.229318 259.545076 
L 387.680946 260.196834 
L 388.132573 259.250486 
L 389.035828 259.650693 
L 389.487455 259.708069 
L 389.939082 259.345509 
L 390.708 259.234873 
L 390.762456 -1 
M 391.301288 -1 
L 391.356 260.705681 
L 391.745591 260.705681 
L 392.197218 259.323446 
L 392.648846 258.876285 
L 393.100473 259.18189 
L 393.5521 259.623941 
L 394.455355 259.268385 
L 394.906982 259.796052 
L 395.358609 258.095587 
L 395.810236 259.49841 
L 396.261864 259.528053 
L 396.713491 260.013148 
L 397.165118 259.190228 
L 397.616745 259.718902 
L 398.068373 259.132051 
L 398.52 259.335731 
L 398.52 259.335731 
" clip-path="url(#p02d3b5d28d)" style="fill: none; stroke: #e377c2; stroke-opacity: 0.5; stroke-width: 1.5; stroke-linecap: square"/>
   </g>
   <g id="line2d_38">
    <path d="M 73.8 305.445127 
L 74.251627 305.09615 
L 74.703255 305.079693 
L 75.154882 305.524473 
L 75.606509 305.497423 
L 76.058136 305.983309 
L 76.509764 305.509929 
L 76.961391 304.167138 
L 77.413018 305.295453 
L 77.864645 305.783849 
L 78.316273 305.593047 
L 78.7679 305.656777 
L 79.219527 305.254032 
L 79.671154 305.708693 
L 80.122782 304.461957 
L 80.496 304.461957 
L 80.558106 -1 
M 81.081923 -1 
L 81.144 304.280376 
L 81.477663 304.280376 
L 81.929291 305.2062 
L 82.380918 304.40475 
L 82.832545 305.306475 
L 83.284172 304.697551 
L 83.7358 303.840257 
L 84.187427 305.757195 
L 84.639054 304.85992 
L 85.090682 305.868923 
L 85.542309 305.209818 
L 85.993936 305.603883 
L 86.445563 305.11178 
L 86.897191 305.931363 
L 87.348818 306.505119 
L 87.800445 304.830013 
L 88.252072 305.124314 
L 88.7037 304.384325 
L 89.155327 305.065286 
L 89.606954 305.127059 
L 90.058581 305.725802 
L 90.510209 306.047738 
L 90.961836 305.104663 
L 91.413463 305.918694 
L 91.86509 304.326928 
L 92.316718 304.300915 
L 92.768345 304.854697 
L 93.219972 304.427699 
L 93.671599 305.241063 
L 94.123227 305.523809 
L 94.574854 303.681334 
L 95.026481 305.340801 
L 95.478108 304.391031 
L 95.929736 305.691914 
L 96.381363 304.937179 
L 96.83299 304.653875 
L 97.284618 306.236534 
L 97.736245 306.134552 
L 98.187872 305.633395 
L 99.091127 305.156629 
L 99.542754 305.665679 
L 99.994381 305.657103 
L 100.446008 305.843221 
L 100.897636 305.84062 
L 101.349263 304.96408 
L 101.80089 305.519985 
L 102.252517 305.877227 
L 102.704145 305.932244 
L 103.155772 305.696957 
L 103.607399 306.206478 
L 104.059026 305.071701 
L 104.510654 304.944828 
L 104.962281 306.03349 
L 105.413908 305.537901 
L 105.865535 305.428458 
L 106.317163 304.696258 
L 106.76879 305.664904 
L 107.220417 305.411911 
L 107.672045 305.845071 
L 108.123672 305.807274 
L 108.575299 305.616416 
L 109.026926 303.134934 
L 109.478554 304.489955 
L 109.930181 304.973876 
L 110.381808 305.023599 
L 110.833435 306.158151 
L 111.285063 305.811103 
L 111.73669 304.720719 
L 112.188317 305.180833 
L 112.639944 304.500936 
L 113.091572 305.185833 
L 113.543199 304.846059 
L 113.994826 305.117765 
L 114.446453 304.854881 
L 114.898081 304.95544 
L 115.349708 304.501251 
L 115.801335 305.517852 
L 116.244 305.517852 
L 116.30628 -1 
M 116.829773 -1 
L 116.892 305.19614 
L 117.156217 305.19614 
L 117.607844 304.900659 
L 118.059471 305.141819 
L 118.511099 306.415381 
L 118.962726 305.629083 
L 119.865981 305.39657 
L 120.317608 305.592873 
L 120.769235 305.422676 
L 121.220862 304.615345 
L 121.67249 304.815696 
L 122.124117 304.29445 
L 122.575744 306.21523 
L 123.027371 305.850659 
L 123.478999 305.985976 
L 123.930626 304.556894 
L 124.382253 304.745276 
L 124.83388 299.971415 
L 125.285508 299.94613 
L 125.737135 305.018271 
L 126.188762 304.36102 
L 126.640389 304.213597 
L 127.092017 305.594161 
L 127.543644 304.623537 
L 127.995271 305.308196 
L 128.446898 304.180005 
L 128.898526 303.545031 
L 129.350153 304.839083 
L 129.80178 304.799787 
L 130.253408 306.811713 
L 130.705035 304.827924 
L 131.156662 306.267482 
L 131.608289 305.563252 
L 132.059917 304.637589 
L 132.511544 306.191987 
L 132.963171 303.695751 
L 133.414798 305.530785 
L 133.866426 304.6916 
L 134.318053 305.530601 
L 134.76968 304.748243 
L 135.221307 305.556261 
L 135.672935 305.222944 
L 136.124562 306.663326 
L 136.576189 304.578631 
L 137.027816 304.752229 
L 137.479444 305.409089 
L 137.931071 305.38499 
L 138.382698 305.881313 
L 138.834325 305.657218 
L 139.285953 305.038637 
L 139.73758 304.99806 
L 140.640834 304.454994 
L 141.092462 304.557721 
L 141.544089 304.930274 
L 141.995716 304.970008 
L 142.447344 305.31528 
L 142.898971 304.403135 
L 143.350598 299.10394 
L 143.802225 305.689724 
L 144.253853 304.970747 
L 144.70548 306.095439 
L 145.157107 305.388815 
L 145.608734 306.149093 
L 146.060362 305.731716 
L 146.511989 302.968012 
L 146.952 302.968012 
L 147.061975 -1 
M 147.993164 -1 
L 148.104 305.916034 
L 148.318498 305.916034 
L 148.770125 306.134374 
L 149.221752 304.803749 
L 149.67338 305.431351 
L 150.125007 305.183082 
L 150.576634 304.144042 
L 151.028261 306.055912 
L 151.479889 306.545278 
L 151.931516 305.107475 
L 152.383143 304.32132 
L 152.834771 305.086976 
L 153.286398 304.298912 
L 153.738025 304.467666 
L 154.189652 304.965703 
L 154.64128 305.664441 
L 155.544534 304.454588 
L 156.447789 305.186028 
L 156.899416 304.933447 
L 157.351043 305.182895 
L 157.80267 304.653126 
L 158.254298 305.3201 
L 158.705925 304.135415 
L 159.157552 304.919018 
L 159.609179 305.051829 
L 160.060807 306.297633 
L 160.512434 306.535694 
L 160.964061 305.28396 
L 161.415688 305.454882 
L 161.867316 303.947592 
L 162.318943 305.642655 
L 162.77057 305.78561 
L 163.222197 304.668993 
L 163.673825 306.466996 
L 164.125452 305.126272 
L 165.028707 306.95179 
L 165.480334 306.330989 
L 165.931961 305.285499 
L 166.383588 305.200022 
L 166.835216 305.363771 
L 167.286843 305.78216 
L 167.73847 305.169028 
L 168.190097 305.027489 
L 168.641725 305.169636 
L 169.093352 304.173694 
L 169.544979 304.592358 
L 169.996606 305.796415 
L 170.448234 305.625177 
L 170.899861 305.808309 
L 171.803115 304.557713 
L 172.254743 304.212358 
L 172.70637 305.103334 
L 173.157997 305.597027 
L 174.061252 306.249648 
L 174.512879 304.113815 
L 174.964506 305.427262 
L 175.416134 305.529517 
L 175.867761 304.043614 
L 176.319388 305.60937 
L 177.222643 304.930679 
L 177.67427 306.372155 
L 178.125897 306.057132 
L 178.577524 303.134404 
L 179.480779 306.445675 
L 179.932406 305.562977 
L 180.384033 305.258613 
L 180.835661 304.810012 
L 181.287288 305.254717 
L 181.738915 305.939371 
L 182.64217 304.484008 
L 183.093797 305.571223 
L 183.545424 305.921369 
L 183.997051 305.884885 
L 184.448679 306.652147 
L 184.900306 304.401983 
L 185.351933 304.980308 
L 185.803561 305.246845 
L 186.255188 305.080815 
L 186.706815 304.394218 
L 187.158442 305.427634 
L 187.61007 306.031101 
L 188.061697 304.496174 
L 188.513324 306.64739 
L 189.416579 304.445367 
L 189.868206 304.212848 
L 190.319833 305.234246 
L 192.126342 305.260081 
L 192.577969 304.303972 
L 193.029597 304.875584 
L 193.481224 304.097842 
L 194.384478 305.418001 
L 194.836106 305.356435 
L 195.287733 303.797885 
L 195.73936 305.574005 
L 196.190987 304.529123 
L 196.642615 305.794031 
L 197.094242 304.835455 
L 197.545869 305.410281 
L 197.997497 305.461326 
L 198.449124 305.733157 
L 199.188 305.662469 
L 199.512 195.284736 
L 199.836 304.938148 
L 200.255633 304.938148 
L 200.70726 305.751258 
L 201.158887 304.903409 
L 201.610515 306.785264 
L 202.513769 303.754781 
L 202.965396 306.719501 
L 203.417024 305.396532 
L 203.868651 304.558643 
L 204.320278 303.98591 
L 204.771905 304.387819 
L 205.223533 305.466855 
L 205.67516 304.130443 
L 206.316 304.17556 
L 206.378059 -1 
M 206.901784 -1 
L 207.030042 305.128017 
L 207.481669 305.753754 
L 207.933296 305.376312 
L 208.384924 304.29752 
L 208.836551 305.925669 
L 209.288178 304.415312 
L 209.739805 304.95364 
L 210.191433 304.938736 
L 210.64306 305.557959 
L 211.094687 304.689297 
L 211.546314 305.26467 
L 211.997942 305.298958 
L 212.449569 306.201184 
L 212.901196 305.160702 
L 213.352823 305.422455 
L 213.804451 304.629774 
L 214.236 304.629774 
L 214.56 134.078976 
L 214.884 305.519426 
L 215.61096 305.572833 
L 216.062587 305.649171 
L 216.514214 304.738927 
L 216.965841 306.120624 
L 217.417469 306.13121 
L 217.869096 305.024897 
L 218.320723 304.27476 
L 218.77235 304.981755 
L 219.223978 305.307632 
L 219.675605 303.839409 
L 220.127232 304.991626 
L 220.57886 305.560907 
L 221.482114 304.551117 
L 221.933741 305.443292 
L 222.385369 304.686296 
L 222.836996 305.421417 
L 223.236 305.421417 
L 223.298264 -1 
M 223.821513 -1 
L 223.884 306.782695 
L 224.191878 306.782695 
L 224.643505 304.417039 
L 225.095132 304.835035 
L 225.998387 305.1009 
L 226.450014 305.374786 
L 226.901641 304.358741 
L 227.052 304.358741 
L 227.376 167.609088 
L 227.804896 304.67314 
L 228.256523 306.319898 
L 228.70815 303.964737 
L 229.159777 305.094816 
L 229.611405 305.048095 
L 230.063032 305.887142 
L 230.514659 305.810623 
L 230.966287 304.972506 
L 231.417914 307.340307 
L 231.869541 304.44352 
L 232.321168 305.729604 
L 232.772796 305.766325 
L 233.224423 305.237419 
L 233.67605 304.043506 
L 234.127677 305.118937 
L 234.579305 304.559118 
L 235.030932 306.067366 
L 235.482559 305.648037 
L 235.934186 304.700645 
L 236.385814 306.001944 
L 236.837441 306.952717 
L 237.289068 305.714244 
L 238.192323 305.413824 
L 238.64395 304.813729 
L 239.095577 304.861557 
L 239.547204 305.55019 
L 239.998832 304.911738 
L 240.450459 305.347551 
L 240.902086 305.192435 
L 241.353713 305.87697 
L 241.805341 304.842324 
L 242.256968 305.478438 
L 242.708595 304.474753 
L 243.160223 306.162203 
L 243.61185 299.441042 
L 244.063477 300.913465 
L 244.515104 304.979675 
L 244.966732 305.96755 
L 245.418359 305.840635 
L 245.869986 304.799543 
L 246.321613 306.300965 
L 246.773241 304.664619 
L 247.224868 303.900812 
L 247.676495 304.795354 
L 248.128122 306.241095 
L 248.57975 304.837354 
L 249.031377 305.311162 
L 249.483004 305.136426 
L 249.934631 305.254728 
L 250.386259 304.556413 
L 250.837886 304.147755 
L 251.289513 305.023155 
L 251.74114 304.322016 
L 252.192768 305.537126 
L 252.644395 303.702159 
L 253.096022 305.8354 
L 253.54765 305.920867 
L 253.999277 305.458682 
L 254.450904 304.696104 
L 254.902531 304.58234 
L 255.354159 306.219863 
L 255.805786 305.061566 
L 256.257413 304.955764 
L 256.70904 303.571783 
L 257.160668 305.401656 
L 257.612295 306.106398 
L 258.063922 306.279651 
L 258.515549 305.335774 
L 258.967177 304.878597 
L 259.870431 305.257951 
L 260.322058 305.712734 
L 260.773686 305.231663 
L 261.225313 305.18191 
L 261.67694 303.581978 
L 262.128567 305.264061 
L 262.580195 305.906423 
L 263.031822 305.499385 
L 263.483449 305.35709 
L 263.935076 306.574152 
L 264.386704 305.237629 
L 264.838331 305.104882 
L 265.289958 305.126484 
L 265.741586 305.864214 
L 266.64484 305.039308 
L 267.096467 304.685884 
L 267.548095 305.025212 
L 267.999722 306.06085 
L 268.451349 304.769987 
L 268.902976 304.21653 
L 269.354604 305.371747 
L 269.806231 306.877485 
L 270.257858 304.663417 
L 270.709485 304.52959 
L 271.161113 305.182595 
L 271.61274 305.459852 
L 272.064367 304.454042 
L 272.515994 304.656772 
L 272.967622 299.368093 
L 273.419249 299.465525 
L 273.870876 299.231302 
L 274.322503 304.512113 
L 274.774131 305.087103 
L 275.225758 305.932374 
L 276.58064 304.930734 
L 277.032267 305.545444 
L 277.483894 304.697816 
L 277.935522 305.585471 
L 278.387149 304.553636 
L 278.838776 304.099539 
L 279.742031 305.123194 
L 280.193658 304.81566 
L 280.645285 306.563189 
L 281.096912 304.259782 
L 281.54854 305.763457 
L 282.000167 305.852098 
L 282.451794 305.493083 
L 282.903421 305.860785 
L 283.355049 305.263634 
L 283.806676 305.447635 
L 284.258303 305.307776 
L 284.70993 304.524817 
L 285.613185 305.661519 
L 286.064812 305.4007 
L 286.516439 305.816681 
L 286.968067 304.636464 
L 287.419694 305.993833 
L 287.871321 305.551878 
L 288.322949 304.233517 
L 288.774576 305.483926 
L 289.67783 304.965865 
L 290.129458 306.335177 
L 290.581085 299.313682 
L 291.032712 304.657285 
L 291.484339 305.16991 
L 291.935967 304.899621 
L 292.387594 305.8587 
L 292.839221 305.252848 
L 293.290848 305.481389 
L 293.742476 305.276898 
L 294.194103 306.133061 
L 294.64573 305.681797 
L 295.097357 304.976799 
L 295.548985 305.690514 
L 296.452239 304.306286 
L 296.903866 305.109654 
L 297.355494 305.218539 
L 297.807121 304.883735 
L 298.258748 305.846328 
L 298.710376 305.597828 
L 299.162003 305.958522 
L 299.61363 305.81071 
L 300.065257 304.188003 
L 300.516885 305.759549 
L 300.968512 305.272318 
L 301.420139 305.486782 
L 301.871766 305.539878 
L 302.775021 305.404034 
L 303.226648 305.049105 
L 303.678275 305.456007 
L 304.129903 305.009046 
L 304.58153 305.363584 
L 305.033157 305.449637 
L 305.484784 305.388565 
L 305.936412 304.191588 
L 306.388039 306.013041 
L 307.291293 304.82275 
L 307.742921 304.915728 
L 308.194548 305.875782 
L 308.646175 305.942639 
L 309.54943 304.528423 
L 310.001057 304.791368 
L 310.452684 305.298183 
L 310.904312 305.47571 
L 311.807566 305.356932 
L 312.259193 306.12792 
L 312.710821 306.123954 
L 313.162448 305.303838 
L 313.614075 304.071696 
L 314.51733 306.34656 
L 314.968957 305.941619 
L 315.420584 305.302608 
L 315.872211 305.878471 
L 316.323839 305.113991 
L 316.775466 305.712631 
L 317.227093 305.748619 
L 317.67872 306.078932 
L 318.130348 304.992629 
L 319.033602 305.008516 
L 319.485229 304.833211 
L 319.936857 305.333062 
L 320.388484 304.502756 
L 320.840111 305.886583 
L 321.291739 304.785206 
L 321.743366 305.502921 
L 322.64662 305.667411 
L 323.098248 304.890919 
L 323.549875 305.1164 
L 324.001502 304.558342 
L 324.453129 305.798058 
L 324.904757 305.100755 
L 325.356384 305.821336 
L 325.548 305.821336 
L 325.872 294.810624 
L 326.259638 304.34835 
L 326.711266 305.809973 
L 327.162893 304.541575 
L 327.61452 305.84596 
L 328.066147 304.297237 
L 328.517775 305.117955 
L 328.969402 304.867746 
L 329.421029 305.888098 
L 329.872656 304.211048 
L 330.324284 305.271779 
L 330.775911 305.491982 
L 331.227538 304.599497 
L 331.679166 305.682854 
L 332.130793 305.37108 
L 332.58242 305.436494 
L 333.034047 305.689347 
L 333.485675 304.530029 
L 333.937302 304.160051 
L 334.388929 305.786752 
L 334.840556 304.225033 
L 335.292184 304.5221 
L 335.556 304.5221 
L 335.88 289.488384 
L 336.204 303.957246 
L 336.647065 303.957246 
L 337.098693 305.587459 
L 337.55032 305.54026 
L 338.001947 305.807381 
L 338.453574 303.90344 
L 338.905202 304.560406 
L 339.356829 305.680481 
L 340.260083 304.774737 
L 340.711711 305.344114 
L 341.163338 304.463605 
L 341.614965 305.14283 
L 342.066592 304.402301 
L 342.51822 304.963947 
L 342.969847 305.038381 
L 343.421474 305.53966 
L 343.873102 304.959073 
L 344.324729 304.661255 
L 344.776356 306.136298 
L 345.227983 304.811145 
L 345.679611 304.365351 
L 346.582865 304.899836 
L 347.034492 305.271187 
L 347.48612 305.809264 
L 347.937747 305.704292 
L 348.389374 305.367238 
L 348.841001 305.795572 
L 349.292629 305.077147 
L 349.744256 305.444866 
L 350.195883 305.324009 
L 350.64751 304.383333 
L 351.099138 305.014605 
L 351.550765 304.704797 
L 352.002392 306.181176 
L 352.454019 304.780012 
L 352.905647 305.632882 
L 353.357274 304.145915 
L 353.808901 306.043146 
L 354.260529 305.600685 
L 355.163783 303.866612 
L 355.61541 306.024312 
L 356.067038 305.262772 
L 356.518665 305.583183 
L 356.970292 304.142485 
L 357.421919 303.859488 
L 357.873547 304.928919 
L 358.325174 304.543699 
L 358.776801 305.479853 
L 359.228428 305.791751 
L 359.680056 304.777203 
L 360.131683 305.363931 
L 360.58331 304.62761 
L 361.034937 305.263412 
L 361.486565 304.295155 
L 361.938192 305.192173 
L 362.389819 305.101664 
L 362.841446 304.51362 
L 363.293074 304.989435 
L 363.744701 304.263854 
L 364.196328 305.468052 
L 364.647955 305.669203 
L 365.099583 304.556002 
L 365.55121 304.801393 
L 366.002837 305.46453 
L 366.454465 305.792762 
L 367.357719 305.148724 
L 367.809346 305.282258 
L 368.260974 305.795501 
L 368.712601 305.658749 
L 369.164228 304.808134 
L 370.067483 304.218259 
L 370.51911 305.613056 
L 370.970737 305.805604 
L 371.422364 304.800944 
L 371.873992 305.341715 
L 372.325619 304.691903 
L 372.777246 304.60093 
L 373.228873 305.395183 
L 373.680501 305.244662 
L 374.132128 306.131411 
L 374.583755 306.111871 
L 375.035382 304.742842 
L 375.48701 303.916775 
L 375.938637 306.203464 
L 376.390264 306.052862 
L 377.293519 304.752942 
L 377.745146 306.321451 
L 378.196773 305.182791 
L 378.648401 304.377657 
L 379.100028 306.570032 
L 379.551655 305.902397 
L 380.003282 304.777766 
L 380.45491 304.527645 
L 380.906537 305.697566 
L 381.358164 304.673105 
L 381.809791 304.633258 
L 382.261419 306.043913 
L 382.713046 305.26402 
L 383.164673 305.551844 
L 383.6163 305.387896 
L 384.067928 305.072923 
L 384.519555 305.877634 
L 384.971182 306.35034 
L 385.422809 306.052032 
L 385.874437 306.007782 
L 386.777691 304.650243 
L 387.229318 305.529365 
L 387.680946 305.645386 
L 388.132573 305.522695 
L 388.5842 304.753818 
L 389.035828 305.293488 
L 389.487455 305.188733 
L 389.939082 305.623504 
L 390.390709 305.241981 
L 390.842337 305.450974 
L 391.293964 304.518161 
L 391.745591 305.181748 
L 392.197218 304.479511 
L 392.648846 304.941597 
L 393.100473 305.055119 
L 393.5521 306.266542 
L 394.003727 305.341049 
L 394.455355 305.784751 
L 394.906982 304.607173 
L 395.358609 305.006713 
L 395.810236 304.975072 
L 396.261864 305.316152 
L 396.713491 304.395041 
L 397.165118 306.440495 
L 397.616745 304.782098 
L 398.068373 305.461783 
L 398.52 305.840572 
L 398.52 305.840572 
" clip-path="url(#p02d3b5d28d)" style="fill: none; stroke: #7f7f7f; stroke-opacity: 0.5; stroke-width: 1.5; stroke-linecap: square"/>
   </g>
   <g id="line2d_39">
    <path d="M 73.8 304.561782 
L 74.703255 305.535936 
L 75.154882 303.40343 
L 75.606509 305.378014 
L 76.058136 304.309127 
L 76.509764 303.699756 
L 76.961391 304.836183 
L 77.413018 304.55719 
L 77.864645 303.666828 
L 78.316273 304.318479 
L 78.7679 303.528586 
L 79.219527 303.587668 
L 79.671154 303.325123 
L 80.122782 305.437367 
L 80.574409 304.183367 
L 81.477663 304.544417 
L 81.929291 305.641526 
L 82.832545 303.48676 
L 83.284172 303.709749 
L 83.7358 304.918129 
L 84.187427 304.485831 
L 84.639054 304.490992 
L 85.090682 303.82055 
L 85.542309 304.905611 
L 85.993936 304.875866 
L 86.445563 305.437935 
L 86.897191 303.8362 
L 87.348818 303.040079 
L 87.800445 304.117124 
L 88.7037 303.82548 
L 89.155327 305.226038 
L 89.606954 303.958516 
L 90.058581 303.305078 
L 90.576 303.65246 
L 90.9 297.471744 
L 91.224 304.952398 
L 91.86509 304.889546 
L 92.316718 303.544502 
L 92.768345 304.840489 
L 93.219972 304.317324 
L 93.671599 304.229895 
L 94.574854 305.063122 
L 95.026481 304.083902 
L 95.478108 304.946055 
L 95.929736 304.707097 
L 96.381363 303.568636 
L 96.83299 303.877774 
L 97.284618 305.970127 
L 97.736245 305.206946 
L 98.187872 303.845403 
L 98.639499 305.062182 
L 99.091127 303.817477 
L 99.542754 303.634733 
L 99.994381 303.639305 
L 100.446008 303.124956 
L 100.897636 305.329381 
L 101.80089 304.750818 
L 102.252517 304.733348 
L 102.704145 303.703308 
L 103.155772 304.045537 
L 103.607399 304.982415 
L 104.059026 304.710902 
L 104.510654 305.264768 
L 104.962281 304.644228 
L 105.413908 305.356193 
L 105.865535 303.01348 
L 106.76879 304.630251 
L 107.064 304.630251 
L 107.105423 -1 
M 107.454668 -1 
L 107.496 303.800037 
L 107.672045 303.800037 
L 108.123672 304.383676 
L 108.575299 303.458463 
L 109.026926 304.247853 
L 109.478554 302.69499 
L 110.381808 305.167473 
L 110.833435 305.105932 
L 111.285063 304.753859 
L 111.73669 303.085443 
L 112.188317 304.601743 
L 112.639944 303.694773 
L 113.091572 305.40898 
L 113.543199 303.98353 
L 113.994826 305.154991 
L 114.898081 304.376491 
L 115.349708 305.384694 
L 115.801335 302.666448 
L 116.252962 305.19333 
L 116.70459 304.736396 
L 117.156217 303.135398 
L 117.607844 303.689702 
L 118.059471 306.143508 
L 118.511099 304.068737 
L 118.962726 303.592082 
L 119.414353 305.112957 
L 119.865981 304.368196 
L 120.317608 304.910918 
L 120.769235 304.917359 
L 121.220862 303.109533 
L 121.67249 303.647752 
L 122.124117 304.967904 
L 122.575744 305.261005 
L 122.868 305.261005 
L 123.192 295.875072 
L 123.516 304.594794 
L 123.930626 304.594794 
L 124.382253 304.18054 
L 124.83388 305.310762 
L 125.285508 304.902952 
L 125.737135 304.896577 
L 126.188762 303.449747 
L 127.092017 305.090286 
L 127.543644 304.895793 
L 127.995271 303.56156 
L 128.898526 304.74041 
L 129.350153 304.608756 
L 129.80178 303.806328 
L 130.253408 304.567263 
L 130.705035 304.528493 
L 131.156662 304.847175 
L 131.608289 306.128508 
L 132.059917 303.916057 
L 132.511544 304.468422 
L 132.963171 303.745975 
L 133.414798 302.076903 
L 133.866426 304.601216 
L 134.318053 303.917999 
L 134.76968 304.615334 
L 135.221307 304.892719 
L 135.672935 304.940934 
L 136.576189 304.322349 
L 137.027816 303.078745 
L 137.479444 304.084399 
L 137.931071 304.765738 
L 138.382698 303.633245 
L 138.834325 305.016241 
L 139.285953 303.838039 
L 139.73758 304.18406 
L 140.189207 304.746033 
L 140.640834 304.023126 
L 141.092462 303.530539 
L 141.544089 303.883783 
L 141.995716 305.726099 
L 142.447344 305.644017 
L 142.898971 304.445957 
L 143.350598 304.581616 
L 143.802225 305.415915 
L 144.253853 303.818742 
L 144.396 303.818742 
L 144.458001 -1 
M 144.982054 -1 
L 145.044 303.48411 
L 145.157107 303.48411 
L 145.608734 304.161546 
L 146.060362 303.107903 
L 146.511989 304.846517 
L 146.963616 304.657024 
L 147.415243 303.891013 
L 147.866871 299.055447 
L 148.318498 300.450326 
L 148.770125 304.949145 
L 149.221752 303.937699 
L 149.67338 304.279221 
L 150.125007 304.903003 
L 150.576634 304.585154 
L 151.028261 304.483401 
L 151.479889 304.528659 
L 151.931516 304.03678 
L 152.383143 303.89339 
L 152.834771 304.941447 
L 153.286398 302.680131 
L 153.738025 304.15064 
L 154.189652 304.464426 
L 154.64128 302.994624 
L 155.092907 304.361049 
L 155.544534 305.228561 
L 155.996161 305.333437 
L 156.456 304.804105 
L 156.78 284.166144 
L 157.104 305.653828 
L 157.351043 305.653828 
L 157.80267 304.662554 
L 158.254298 305.006479 
L 158.705925 303.442886 
L 159.157552 304.054107 
L 159.609179 304.993028 
L 160.060807 303.62871 
L 160.512434 304.51773 
L 160.964061 305.836761 
L 161.867316 303.326228 
L 161.892 303.326228 
L 162.216 293.213952 
L 162.54 304.830233 
L 162.77057 304.830233 
L 163.222197 304.321993 
L 163.673825 304.804242 
L 164.125452 303.947084 
L 164.577079 304.171393 
L 165.028707 304.610202 
L 165.931961 303.131781 
L 166.383588 304.125926 
L 166.835216 303.425249 
L 167.286843 303.758058 
L 167.73847 304.498201 
L 168.190097 304.324329 
L 168.641725 303.274967 
L 169.093352 304.068905 
L 169.544979 303.649617 
L 169.996606 305.499327 
L 170.448234 303.796966 
L 170.899861 305.624223 
L 171.351488 302.914861 
L 171.803115 296.633045 
L 172.254743 303.703185 
L 172.70637 304.839422 
L 173.157997 304.397632 
L 173.609624 305.147115 
L 174.061252 305.052045 
L 174.512879 304.194846 
L 174.964506 304.60323 
L 175.176 304.60323 
L 175.5 293.746176 
L 175.867761 304.47843 
L 176.319388 303.353236 
L 176.771015 303.617044 
L 177.222643 302.965421 
L 177.67427 304.521495 
L 178.125897 304.770554 
L 178.577524 304.171349 
L 179.029152 303.78739 
L 179.480779 305.367627 
L 179.932406 303.864438 
L 180.384033 304.554912 
L 180.835661 303.987675 
L 181.287288 304.106821 
L 182.190542 304.90989 
L 182.64217 304.52757 
L 183.093797 303.533043 
L 183.545424 305.597809 
L 183.997051 304.215265 
L 184.448679 304.452544 
L 184.900306 304.483181 
L 185.803561 304.027617 
L 186.255188 304.343756 
L 186.706815 303.378962 
L 187.158442 304.559083 
L 187.61007 302.746595 
L 188.061697 305.733855 
L 188.513324 303.163376 
L 188.964951 304.608419 
L 189.416579 305.237933 
L 189.756 305.237933 
L 190.08 297.471744 
L 190.404 304.23568 
L 190.77146 304.23568 
L 191.223088 304.414866 
L 191.674715 303.393411 
L 192.126342 304.465684 
L 193.029597 304.613018 
L 193.481224 303.95951 
L 193.932851 304.315764 
L 194.384478 303.232997 
L 194.836106 304.769121 
L 195.287733 304.62489 
L 195.73936 304.708973 
L 196.190987 304.94535 
L 196.642615 304.679651 
L 197.094242 305.034073 
L 197.545869 306.011076 
L 198.449124 305.248722 
L 198.900751 306.345047 
L 199.804006 304.000526 
L 200.255633 304.254913 
L 200.70726 305.664869 
L 201.158887 305.601932 
L 201.610515 304.888716 
L 202.062142 305.076377 
L 202.513769 304.071621 
L 202.965396 304.400074 
L 203.417024 304.309669 
L 203.868651 304.692048 
L 204.320278 303.807885 
L 204.771905 304.343096 
L 205.223533 302.541077 
L 205.67516 303.901747 
L 206.578414 304.592231 
L 207.481669 305.175806 
L 207.933296 304.286929 
L 208.384924 304.032747 
L 208.836551 303.271811 
L 209.288178 304.180771 
L 209.739805 303.720891 
L 210.64306 304.548033 
L 211.094687 303.990198 
L 211.546314 303.950662 
L 211.997942 304.565561 
L 212.976 304.480201 
L 213.3 291.61728 
L 213.624 304.159661 
L 213.804451 304.159661 
L 214.256078 305.439174 
L 214.707705 302.679807 
L 215.159332 304.490926 
L 215.61096 304.169391 
L 216.062587 304.1065 
L 216.514214 305.65223 
L 216.965841 303.231492 
L 217.417469 304.819773 
L 217.869096 303.539202 
L 218.320723 303.351622 
L 218.77235 303.656609 
L 219.223978 306.480247 
L 219.675605 305.196673 
L 220.127232 304.680368 
L 220.57886 305.287544 
L 221.030487 304.385525 
L 221.482114 303.177135 
L 221.933741 303.422274 
L 222.385369 304.655945 
L 222.836996 305.17324 
L 223.288623 303.770508 
L 223.74025 303.792446 
L 224.191878 304.550803 
L 224.643505 304.993622 
L 225.095132 303.172772 
L 225.546759 303.060483 
L 226.450014 303.729967 
L 226.901641 304.65081 
L 227.353268 304.130297 
L 227.804896 305.168617 
L 228.256523 303.16594 
L 228.70815 305.163807 
L 229.159777 304.931868 
L 229.611405 304.566458 
L 230.063032 304.480082 
L 230.514659 303.248193 
L 230.966287 303.729555 
L 231.417914 304.943534 
L 231.869541 304.103871 
L 232.321168 304.132943 
L 232.772796 303.217195 
L 233.224423 305.580628 
L 233.67605 304.771143 
L 234.127677 305.131691 
L 234.579305 304.204693 
L 235.030932 303.66623 
L 235.482559 304.49704 
L 235.934186 302.696391 
L 236.385814 305.070816 
L 236.837441 304.23731 
L 237.740695 305.410474 
L 238.192323 304.679143 
L 238.64395 304.313642 
L 239.095577 304.875048 
L 239.547204 304.861621 
L 239.998832 304.398158 
L 240.450459 304.871935 
L 240.902086 303.649468 
L 241.353713 303.89411 
L 241.805341 304.306639 
L 242.256968 303.57705 
L 242.708595 306.038732 
L 243.160223 305.080997 
L 243.61185 303.386714 
L 244.063477 305.030523 
L 244.515104 303.629785 
L 245.418359 304.264817 
L 245.869986 304.496976 
L 246.321613 305.245867 
L 247.224868 305.662856 
L 247.676495 304.030019 
L 248.128122 304.387263 
L 248.57975 304.12476 
L 249.031377 305.219942 
L 249.934631 303.540542 
L 250.386259 304.94136 
L 251.289513 304.646717 
L 251.74114 302.805289 
L 252.192768 303.510843 
L 253.096022 302.362246 
L 253.54765 304.54856 
L 253.999277 304.124391 
L 254.450904 306.166269 
L 254.902531 304.286281 
L 255.354159 304.759484 
L 255.805786 304.336139 
L 256.257413 304.283153 
L 256.70904 306.019955 
L 257.160668 304.134048 
L 258.063922 305.359083 
L 258.515549 304.86059 
L 258.967177 303.799774 
L 259.418804 304.912897 
L 259.870431 303.349603 
L 260.322058 304.022781 
L 260.773686 304.43668 
L 261.225313 305.152453 
L 261.67694 305.096604 
L 262.128567 303.587506 
L 262.580195 304.451958 
L 263.031822 304.263758 
L 263.483449 304.245746 
L 263.935076 303.805969 
L 264.386704 303.882194 
L 264.838331 304.720494 
L 265.289958 304.215337 
L 265.741586 304.586305 
L 266.193213 304.045558 
L 266.64484 305.599103 
L 267.096467 298.059604 
L 267.548095 296.903643 
L 267.999722 305.415633 
L 268.451349 304.973538 
L 268.902976 304.296601 
L 269.354604 305.391835 
L 269.806231 304.412045 
L 270.257858 304.238364 
L 270.576 304.238364 
L 270.9 221.895936 
L 271.224 304.245247 
L 271.61274 304.245247 
L 272.064367 304.797304 
L 272.515994 304.276757 
L 272.967622 304.2649 
L 274.322503 303.890924 
L 274.774131 303.936126 
L 275.225758 304.256431 
L 275.677385 304.392182 
L 276.129013 304.835 
L 276.58064 303.948943 
L 277.032267 303.514707 
L 277.483894 304.811837 
L 277.935522 303.9688 
L 278.387149 304.539863 
L 278.838776 304.580954 
L 279.290403 305.215136 
L 280.193658 303.972868 
L 280.645285 304.074243 
L 281.096912 303.811894 
L 282.000167 306.124555 
L 282.451794 303.907771 
L 282.903421 304.483796 
L 283.355049 303.936863 
L 283.806676 303.048465 
L 284.258303 303.637749 
L 284.70993 306.060891 
L 285.161558 304.829229 
L 285.613185 304.707744 
L 286.064812 303.236564 
L 286.516439 305.0328 
L 286.968067 304.713165 
L 287.419694 303.629796 
L 287.871321 305.830349 
L 288.322949 304.891907 
L 288.774576 305.525619 
L 289.226203 305.298884 
L 289.67783 304.119456 
L 290.129458 304.441798 
L 290.581085 304.578519 
L 291.032712 304.517929 
L 291.484339 304.805991 
L 291.935967 304.524187 
L 292.387594 304.08199 
L 292.839221 305.067094 
L 293.290848 304.355479 
L 293.742476 304.814976 
L 293.976 304.814976 
L 294.3 298.536192 
L 294.64573 303.517077 
L 295.097357 303.942027 
L 295.548985 303.657501 
L 296.000612 304.799475 
L 296.452239 304.68186 
L 296.903866 304.274427 
L 297.355494 304.649238 
L 297.807121 303.970401 
L 298.258748 304.550238 
L 298.710376 305.388179 
L 299.162003 305.191049 
L 299.61363 304.218053 
L 300.065257 302.607659 
L 300.516885 304.326004 
L 300.968512 305.594536 
L 301.420139 304.233902 
L 301.871766 304.947642 
L 302.323394 305.432985 
L 302.775021 302.413597 
L 303.226648 302.588592 
L 303.678275 304.451604 
L 304.129903 304.44501 
L 304.58153 304.632776 
L 305.033157 303.78703 
L 305.484784 303.773633 
L 305.936412 303.582429 
L 306.388039 305.242878 
L 306.839666 304.622406 
L 307.291293 303.79741 
L 307.742921 304.294586 
L 308.194548 305.540295 
L 308.646175 304.405669 
L 309.097803 303.641541 
L 309.54943 306.042782 
L 309.744 306.042782 
L 309.785577 -1 
M 310.134589 -1 
L 310.176 304.52498 
L 310.452684 304.52498 
L 310.904312 303.27063 
L 312.259193 304.465802 
L 312.710821 304.528111 
L 313.162448 304.928315 
L 313.614075 304.288277 
L 314.065702 296.953 
L 314.51733 298.366093 
L 314.968957 297.682213 
L 315.420584 306.220918 
L 316.323839 305.023925 
L 316.775466 304.05778 
L 317.227093 304.422542 
L 317.67872 304.351834 
L 318.581975 305.290004 
L 319.033602 303.795804 
L 319.485229 303.90164 
L 319.936857 305.323251 
L 320.840111 304.152969 
L 321.291739 305.259712 
L 321.743366 305.055752 
L 322.194993 304.102401 
L 322.64662 304.338136 
L 323.098248 303.696623 
L 323.549875 304.649799 
L 324.001502 303.933641 
L 324.453129 304.01759 
L 324.904757 302.96066 
L 325.356384 304.993163 
L 325.808011 304.447222 
L 326.259638 305.158177 
L 326.711266 303.931707 
L 327.162893 303.853182 
L 327.61452 303.124852 
L 328.066147 304.536628 
L 328.517775 303.741318 
L 328.969402 304.204401 
L 329.421029 303.082831 
L 329.872656 304.330782 
L 330.324284 304.507315 
L 330.775911 303.714218 
L 331.227538 304.424207 
L 331.679166 304.885318 
L 332.130793 305.71192 
L 332.58242 303.995765 
L 333.034047 303.404069 
L 333.485675 304.252551 
L 333.937302 303.585624 
L 334.388929 304.640758 
L 334.840556 303.777654 
L 335.292184 303.694209 
L 336.195438 305.407056 
L 336.647065 304.549011 
L 337.098693 304.332917 
L 337.55032 303.80895 
L 338.001947 305.823836 
L 338.292 305.823836 
L 338.616 295.875072 
L 338.94 304.553339 
L 339.356829 304.553339 
L 339.808456 305.169139 
L 340.260083 304.848407 
L 340.711711 304.047549 
L 341.614965 304.096952 
L 342.066592 305.574004 
L 342.51822 304.725033 
L 342.969847 304.40021 
L 343.421474 304.543163 
L 343.873102 304.85505 
L 344.324729 304.261703 
L 344.776356 303.452966 
L 345.227983 305.350969 
L 345.679611 303.444835 
L 346.131238 305.107813 
L 347.148 305.141097 
L 347.472 296.93952 
L 347.796 304.017153 
L 347.937747 304.017153 
L 348.389374 303.564455 
L 348.841001 304.969596 
L 349.292629 305.269516 
L 349.744256 302.774117 
L 350.195883 303.959737 
L 350.64751 306.254014 
L 352.002392 303.270003 
L 352.404 303.270003 
L 352.728 299.068416 
L 353.052 303.86052 
L 353.357274 303.86052 
L 353.808901 304.524921 
L 354.712156 304.690771 
L 355.163783 305.303215 
L 355.61541 305.061404 
L 356.067038 304.648065 
L 356.518665 304.032804 
L 356.970292 305.432299 
L 357.421919 303.284033 
L 357.873547 304.660221 
L 358.325174 303.773561 
L 358.776801 305.117085 
L 359.228428 305.282285 
L 359.680056 303.529599 
L 360.131683 303.947984 
L 360.58331 305.864644 
L 361.034937 304.007665 
L 361.486565 305.609473 
L 361.938192 304.04088 
L 362.389819 303.791554 
L 362.841446 304.380779 
L 363.293074 304.632632 
L 364.196328 304.434676 
L 364.647955 305.018472 
L 365.099583 304.06404 
L 366.002837 305.702895 
L 366.454465 304.154175 
L 366.906092 303.032469 
L 367.357719 303.580062 
L 367.809346 304.516668 
L 368.260974 304.948343 
L 368.712601 304.778113 
L 369.164228 303.366595 
L 369.615855 303.806452 
L 370.067483 305.036378 
L 370.970737 303.24111 
L 371.422364 304.316692 
L 371.873992 304.279683 
L 372.325619 304.799367 
L 372.777246 305.648204 
L 373.228873 303.706065 
L 373.680501 303.882688 
L 374.132128 303.819504 
L 374.583755 303.408067 
L 375.035382 304.429754 
L 375.48701 304.677834 
L 375.938637 304.034426 
L 376.390264 305.295065 
L 376.841892 305.850727 
L 377.293519 304.644364 
L 378.196773 305.039764 
L 378.648401 304.298699 
L 379.100028 303.823052 
L 380.003282 305.8956 
L 380.45491 305.664734 
L 381.358164 304.541312 
L 381.809791 304.389815 
L 382.261419 304.001652 
L 382.713046 302.8269 
L 383.164673 305.127701 
L 383.6163 303.594866 
L 384.067928 304.508759 
L 384.519555 304.239962 
L 384.971182 304.617815 
L 385.422809 303.54592 
L 385.874437 303.719445 
L 386.777691 302.770617 
L 387.229318 305.352347 
L 388.132573 303.651854 
L 388.764 303.564317 
L 389.088 296.93952 
L 389.487455 304.843442 
L 389.939082 302.765067 
L 390.390709 304.999657 
L 390.842337 303.590753 
L 391.293964 304.628815 
L 391.745591 304.518363 
L 392.197218 302.042067 
L 392.648846 303.341663 
L 393.100473 303.71011 
L 393.5521 304.234751 
L 394.003727 305.095873 
L 394.455355 304.365637 
L 395.358609 303.802618 
L 395.810236 303.482519 
L 396.261864 305.364972 
L 396.713491 304.917364 
L 397.165118 304.89157 
L 397.616745 305.401388 
L 398.068373 302.853469 
L 398.52 304.684759 
L 398.52 304.684759 
" clip-path="url(#p02d3b5d28d)" style="fill: none; stroke: #bcbd22; stroke-opacity: 0.5; stroke-width: 1.5; stroke-linecap: square"/>
   </g>
   <g id="line2d_40">
    <path d="M 73.8 305.153017 
L 74.251627 304.565364 
L 74.703255 305.341942 
L 75.154882 304.104015 
L 75.606509 305.174207 
L 76.058136 305.676603 
L 76.509764 305.035653 
L 76.716 305.035653 
L 77.04 293.746176 
L 77.413018 304.961512 
L 77.864645 305.003993 
L 78.316273 305.521347 
L 78.7679 304.844588 
L 79.219527 304.958083 
L 79.671154 304.854639 
L 80.122782 305.003993 
L 80.532 305.003993 
L 80.856 290.020608 
L 81.18 303.736006 
L 81.477663 303.736006 
L 81.929291 305.955714 
L 82.380918 304.759309 
L 82.832545 304.156803 
L 83.284172 306.028447 
L 83.7358 305.995768 
L 84.639054 303.249802 
L 85.542309 305.166394 
L 86.445563 305.291024 
L 86.897191 305.744525 
L 87.348818 305.328857 
L 87.800445 304.344057 
L 88.252072 305.126194 
L 88.7037 304.681158 
L 89.155327 304.397025 
L 89.606954 305.347281 
L 90.058581 305.164387 
L 90.510209 304.802977 
L 90.961836 305.440796 
L 91.413463 304.858768 
L 91.86509 304.509588 
L 92.316718 304.898603 
L 92.768345 305.988616 
L 93.219972 304.742502 
L 93.671599 305.046206 
L 94.123227 304.938625 
L 94.574854 305.672555 
L 94.716 305.672555 
L 95.04 296.93952 
L 95.364 304.993157 
L 95.478108 304.993157 
L 95.929736 305.293535 
L 96.381363 305.417679 
L 96.83299 305.030428 
L 97.284618 306.147624 
L 97.736245 304.771485 
L 98.187872 305.255314 
L 98.639499 304.268291 
L 99.091127 306.109602 
L 99.542754 305.2416 
L 99.994381 304.742117 
L 100.446008 304.764001 
L 100.897636 305.209838 
L 101.349263 304.314472 
L 101.80089 305.232934 
L 102.252517 304.605339 
L 102.704145 304.964171 
L 103.155772 305.097853 
L 103.607399 305.428558 
L 104.510654 305.288273 
L 104.962281 304.72382 
L 105.3 304.72382 
L 105.624 290.020608 
L 105.948 304.556477 
L 106.317163 304.556477 
L 106.76879 304.84847 
L 107.220417 304.58785 
L 107.672045 304.884983 
L 108.123672 303.870979 
L 108.575299 304.468088 
L 109.026926 304.735893 
L 109.478554 304.623669 
L 109.930181 304.30776 
L 110.381808 304.834095 
L 110.833435 304.471973 
L 111.285063 305.059811 
L 111.73669 303.941217 
L 112.188317 305.036789 
L 112.639944 306.991507 
L 113.091572 304.514439 
L 113.543199 305.140664 
L 113.994826 305.03648 
L 114.446453 304.4923 
L 114.898081 306.690797 
L 115.349708 306.073407 
L 115.801335 305.03045 
L 116.252962 305.778078 
L 116.70459 304.542429 
L 117.156217 304.605645 
L 117.607844 305.205887 
L 118.059471 304.40011 
L 118.511099 306.164444 
L 118.962726 304.988932 
L 119.414353 304.363471 
L 119.865981 304.059067 
L 120.317608 304.570435 
L 120.769235 303.973981 
L 121.220862 304.660529 
L 121.67249 305.009129 
L 122.124117 304.716842 
L 122.575744 303.368835 
L 123.027371 303.531281 
L 123.478999 304.671755 
L 124.382253 304.5855 
L 124.83388 305.849026 
L 125.737135 304.817777 
L 126.188762 305.406881 
L 126.640389 305.053461 
L 127.092017 305.693472 
L 127.995271 304.3045 
L 128.446898 304.891041 
L 128.898526 304.411763 
L 129.350153 305.03579 
L 129.80178 305.435903 
L 130.253408 304.849664 
L 130.705035 306.055915 
L 131.156662 305.411364 
L 131.608289 305.144812 
L 132.059917 305.293341 
L 132.511544 304.700931 
L 132.963171 305.428949 
L 133.414798 304.357825 
L 133.866426 304.417572 
L 135.221307 305.65946 
L 135.672935 304.547474 
L 136.124562 305.107596 
L 136.576189 303.226344 
L 137.027816 304.395054 
L 137.479444 304.048584 
L 137.931071 305.517225 
L 138.382698 304.983085 
L 138.834325 305.252252 
L 139.285953 306.463058 
L 139.73758 304.792721 
L 140.189207 305.209685 
L 140.640834 305.134599 
L 141.544089 304.304018 
L 141.995716 304.577422 
L 142.447344 303.851518 
L 142.898971 305.366129 
L 143.350598 304.420773 
L 143.802225 305.420315 
L 144.253853 305.097361 
L 144.70548 304.249166 
L 145.157107 304.615709 
L 145.608734 304.785067 
L 146.060362 304.794623 
L 146.963616 304.129676 
L 147.415243 304.543494 
L 147.866871 305.202539 
L 148.318498 304.406587 
L 148.770125 304.947931 
L 149.221752 304.758309 
L 149.67338 304.828552 
L 150.125007 304.32729 
L 151.479889 305.816233 
L 151.931516 305.753461 
L 152.383143 304.702506 
L 152.834771 305.333917 
L 153.286398 304.378341 
L 153.738025 304.8972 
L 154.189652 304.750037 
L 154.64128 304.9531 
L 155.092907 303.320515 
L 155.544534 304.317338 
L 155.996161 304.593444 
L 156.447789 304.496418 
L 156.899416 306.43084 
L 157.351043 305.478805 
L 157.644 305.478805 
L 157.706273 -1 
M 158.229738 -1 
L 158.292 305.411909 
L 158.436 304.119462 
L 158.76 284.166144 
L 159.157552 306.245204 
L 159.609179 305.75478 
L 160.060807 304.605473 
L 160.512434 305.059807 
L 160.964061 304.250339 
L 161.415688 305.087412 
L 161.867316 304.769596 
L 162.318943 304.609015 
L 162.77057 305.0166 
L 163.673825 305.335203 
L 164.577079 304.92253 
L 165.028707 304.318643 
L 165.480334 304.905673 
L 166.383588 305.627988 
L 166.835216 305.435022 
L 167.364 304.694057 
L 167.426145 -1 
M 167.949953 -1 
L 168.012 304.099279 
L 168.190097 304.099279 
L 168.641725 305.027137 
L 169.093352 305.206304 
L 169.544979 304.056191 
L 169.996606 304.318835 
L 170.448234 304.184705 
L 170.899861 305.716392 
L 171.351488 304.975575 
L 171.803115 304.792039 
L 172.254743 304.809853 
L 172.70637 306.419984 
L 173.157997 304.910136 
L 173.609624 304.952972 
L 174.061252 304.246594 
L 174.512879 305.081299 
L 174.964506 304.898515 
L 175.416134 305.048676 
L 175.867761 305.630561 
L 176.319388 304.533172 
L 176.771015 303.740091 
L 177.222643 305.543192 
L 177.67427 303.970063 
L 178.125897 303.859179 
L 178.577524 305.806543 
L 179.029152 305.755221 
L 179.480779 305.441128 
L 179.932406 305.540488 
L 180.384033 305.390899 
L 180.835661 305.597032 
L 182.190542 304.433854 
L 183.093797 305.567563 
L 183.545424 304.595679 
L 183.997051 304.54993 
L 184.448679 305.440323 
L 184.900306 304.68761 
L 185.351933 305.644951 
L 185.976 305.391424 
L 186.3 257.02272 
L 186.706815 305.103359 
L 187.158442 304.247021 
L 187.61007 305.051017 
L 188.244 304.794182 
L 188.568 278.31168 
L 188.964951 305.926338 
L 189.416579 304.537946 
L 189.868206 304.211772 
L 190.319833 305.080314 
L 190.77146 304.25165 
L 191.223088 305.648963 
L 191.674715 305.507665 
L 192.126342 305.806579 
L 192.577969 303.935368 
L 193.029597 305.498902 
L 193.481224 304.619172 
L 193.932851 306.022511 
L 194.384478 304.361128 
L 194.836106 305.825768 
L 195.287733 305.423193 
L 195.588 305.423193 
L 195.912 129.821184 
L 196.236 304.35454 
L 196.642615 304.35454 
L 197.094242 305.85424 
L 197.545869 303.943566 
L 197.997497 303.552617 
L 198.449124 305.081601 
L 198.900751 305.843228 
L 199.352378 305.203355 
L 199.804006 304.802295 
L 200.255633 306.272682 
L 200.70726 305.383047 
L 201.158887 304.858473 
L 201.610515 304.684293 
L 202.062142 306.178843 
L 202.513769 304.992048 
L 202.965396 304.888826 
L 203.417024 304.236991 
L 203.868651 304.757442 
L 204.320278 304.263996 
L 204.771905 304.587689 
L 205.223533 305.500231 
L 205.67516 303.157537 
L 206.126787 304.512066 
L 206.578414 304.782754 
L 207.030042 305.194054 
L 207.481669 303.929547 
L 207.933296 304.889447 
L 208.384924 304.568255 
L 209.288178 305.032543 
L 209.739805 305.971335 
L 210.191433 305.318995 
L 210.64306 303.805771 
L 211.094687 304.783104 
L 211.546314 305.389468 
L 211.997942 305.529683 
L 212.449569 305.497382 
L 213.352823 305.053713 
L 213.804451 303.999568 
L 214.256078 304.715788 
L 214.707705 303.841689 
L 215.159332 306.039442 
L 215.61096 305.067704 
L 216.062587 306.206242 
L 216.756 306.367825 
L 216.818419 -1 
M 217.34162 -1 
L 217.417469 306.127908 
L 217.869096 304.917018 
L 218.320723 305.532001 
L 218.77235 304.204848 
L 219.223978 304.173509 
L 219.675605 305.990282 
L 220.127232 304.460518 
L 220.57886 304.968219 
L 221.030487 304.619587 
L 221.482114 305.301252 
L 221.933741 304.158506 
L 222.385369 304.3155 
L 222.836996 304.992728 
L 223.288623 306.003833 
L 223.74025 306.529867 
L 224.191878 304.315592 
L 224.643505 304.838288 
L 225.095132 305.904749 
L 225.546759 305.590082 
L 225.998387 303.25555 
L 226.450014 305.688117 
L 226.901641 304.738555 
L 227.804896 303.42927 
L 228.256523 304.74364 
L 228.70815 304.631008 
L 229.159777 305.734613 
L 229.611405 304.651678 
L 230.063032 304.981666 
L 230.514659 305.6742 
L 230.966287 305.716161 
L 231.417914 304.129043 
L 231.869541 304.256276 
L 232.321168 303.195888 
L 232.772796 305.180659 
L 233.224423 306.29273 
L 233.67605 303.60827 
L 234.127677 304.537524 
L 234.579305 303.817893 
L 235.030932 305.403963 
L 235.482559 305.210755 
L 235.934186 303.944061 
L 236.385814 305.468139 
L 236.837441 304.984488 
L 237.289068 304.951412 
L 237.740695 302.458708 
L 238.192323 302.358726 
L 238.64395 303.562806 
L 239.547204 305.079613 
L 240.450459 304.824769 
L 240.902086 304.302834 
L 241.353713 304.985899 
L 241.805341 304.599141 
L 242.256968 305.422925 
L 242.708595 305.858458 
L 243.160223 305.652248 
L 243.61185 304.744658 
L 244.063477 304.855829 
L 244.515104 304.807478 
L 244.966732 305.795576 
L 245.418359 305.419452 
L 246.321613 304.444131 
L 246.773241 304.574998 
L 247.224868 305.126276 
L 247.676495 305.377257 
L 248.128122 305.908236 
L 248.57975 305.260118 
L 249.031377 304.153288 
L 249.483004 305.06304 
L 249.934631 305.285667 
L 250.386259 304.738137 
L 250.837886 303.114328 
L 251.289513 305.225476 
L 251.74114 305.5631 
L 252.192768 306.044026 
L 252.644395 306.259421 
L 253.096022 304.65943 
L 253.54765 304.707092 
L 253.999277 305.331557 
L 254.450904 304.666684 
L 254.902531 304.53966 
L 255.354159 305.436926 
L 255.805786 304.751681 
L 256.257413 304.366604 
L 256.70904 305.905831 
L 257.160668 305.022176 
L 257.612295 304.8754 
L 258.063922 306.119489 
L 258.515549 303.329227 
L 258.967177 304.223014 
L 259.418804 303.667268 
L 259.870431 305.883827 
L 260.773686 304.14943 
L 261.225313 305.246061 
L 261.67694 303.540781 
L 262.128567 305.644456 
L 262.580195 304.940676 
L 263.031822 305.165077 
L 263.483449 306.014878 
L 263.935076 305.08205 
L 264.386704 304.92425 
L 264.838331 305.633754 
L 265.289958 305.244213 
L 265.741586 304.290855 
L 266.193213 304.353066 
L 266.64484 304.615483 
L 267.096467 304.445529 
L 267.548095 304.060046 
L 267.999722 305.030469 
L 268.451349 305.387249 
L 268.902976 304.847668 
L 269.354604 304.813393 
L 269.806231 305.347113 
L 270.257858 304.758233 
L 270.709485 304.709141 
L 271.161113 304.214016 
L 271.61274 305.534651 
L 272.064367 304.092214 
L 272.967622 305.837167 
L 273.419249 304.193389 
L 274.322503 304.829112 
L 274.774131 305.664894 
L 275.225758 304.35331 
L 275.677385 305.594822 
L 276.129013 305.620851 
L 277.032267 304.290378 
L 277.483894 304.893938 
L 277.935522 304.840365 
L 278.387149 305.519967 
L 278.838776 304.307514 
L 279.290403 305.155997 
L 279.742031 304.517222 
L 280.193658 303.057378 
L 280.645285 304.772384 
L 281.096912 305.596882 
L 281.54854 305.86232 
L 282.000167 305.564329 
L 282.451794 305.582364 
L 283.355049 304.043153 
L 283.806676 304.910261 
L 284.258303 305.118698 
L 284.70993 304.508618 
L 285.161558 305.477463 
L 285.3 305.477463 
L 285.624 280.440576 
L 285.948 304.318435 
L 286.064812 304.318435 
L 286.516439 304.123683 
L 286.968067 305.165178 
L 287.871321 305.243061 
L 288.322949 304.727098 
L 288.774576 303.91128 
L 289.67783 305.68483 
L 290.129458 304.210726 
L 291.032712 304.15634 
L 291.484339 304.36612 
L 291.935967 305.156207 
L 292.387594 305.599257 
L 292.839221 304.551317 
L 293.290848 305.107488 
L 293.742476 304.839409 
L 294.194103 304.0545 
L 294.64573 306.110093 
L 295.548985 305.883282 
L 296.452239 304.996029 
L 296.903866 304.717325 
L 297.355494 305.457201 
L 297.807121 304.171895 
L 298.258748 305.127066 
L 299.162003 303.847937 
L 299.61363 304.186514 
L 300.065257 305.123982 
L 300.516885 304.967332 
L 300.968512 304.591085 
L 301.420139 304.378998 
L 301.871766 305.689673 
L 302.323394 305.644616 
L 302.775021 305.306266 
L 303.226648 304.212121 
L 303.678275 304.781466 
L 304.129903 304.988143 
L 304.58153 305.861756 
L 305.033157 305.833287 
L 305.484784 304.688127 
L 305.936412 305.632186 
L 306.388039 304.29474 
L 306.839666 305.494467 
L 307.291293 304.81055 
L 307.742921 304.443473 
L 308.194548 304.558701 
L 308.646175 304.940828 
L 309.097803 303.506747 
L 309.54943 304.976529 
L 310.001057 304.640323 
L 310.452684 305.140787 
L 310.904312 304.248619 
L 311.355939 304.119123 
L 311.807566 304.132216 
L 312.259193 304.725768 
L 312.710821 304.291003 
L 313.162448 305.585194 
L 313.614075 305.169535 
L 314.028 305.169535 
L 314.352 291.61728 
L 314.676 305.974541 
L 314.968957 305.974541 
L 315.420584 304.457777 
L 316.323839 305.098429 
L 316.775466 305.058246 
L 317.227093 303.937579 
L 318.581975 305.891514 
L 319.033602 304.839737 
L 319.485229 305.672443 
L 319.936857 305.050054 
L 320.388484 305.420013 
L 320.840111 304.085077 
L 321.291739 305.390793 
L 321.743366 304.942012 
L 322.194993 303.990262 
L 322.64662 306.390726 
L 323.098248 305.266159 
L 323.549875 305.974674 
L 324.001502 303.87063 
L 324.453129 304.634697 
L 324.904757 304.970788 
L 325.356384 304.807057 
L 325.808011 304.405036 
L 326.259638 304.528162 
L 326.711266 304.827479 
L 327.162893 304.275551 
L 327.61452 304.64809 
L 328.066147 303.604756 
L 328.517775 305.619385 
L 328.969402 305.121896 
L 329.421029 304.393491 
L 329.872656 304.356119 
L 330.324284 305.237739 
L 330.775911 304.024901 
L 331.236 304.275516 
L 331.298076 -1 
M 331.821793 -1 
L 331.884 305.072115 
L 332.130793 305.072115 
L 332.58242 304.090986 
L 333.034047 304.946253 
L 333.937302 304.382573 
L 334.388929 305.171936 
L 334.840556 305.098322 
L 335.292184 303.730091 
L 335.743811 305.529473 
L 336.195438 304.524723 
L 336.647065 303.999732 
L 337.098693 303.893127 
L 337.55032 305.004858 
L 338.001947 305.559377 
L 338.453574 304.161339 
L 338.905202 305.255664 
L 339.356829 304.895644 
L 340.260083 305.826828 
L 340.711711 305.308155 
L 341.163338 305.082963 
L 341.614965 306.080924 
L 342.066592 303.980389 
L 342.51822 305.084715 
L 342.969847 303.839176 
L 343.421474 304.155267 
L 343.873102 305.285437 
L 344.324729 304.934646 
L 344.736 304.934646 
L 345.06 108 
L 345.384 304.854037 
L 345.679611 304.854037 
L 346.131238 304.660553 
L 346.582865 304.630654 
L 347.034492 304.80629 
L 347.937747 305.939749 
L 348.389374 304.772185 
L 348.841001 305.049718 
L 349.292629 304.48145 
L 349.744256 305.319825 
L 350.195883 304.74562 
L 350.64751 305.54774 
L 351.099138 304.663986 
L 351.550765 305.092251 
L 352.002392 304.640131 
L 352.454019 303.2123 
L 352.905647 304.37983 
L 353.357274 304.984691 
L 353.808901 304.724808 
L 354.712156 304.934304 
L 355.61541 304.900942 
L 355.716 304.900942 
L 356.04 287.891712 
L 356.364 304.25262 
L 356.970292 304.269183 
L 357.421919 303.771971 
L 357.873547 304.592123 
L 358.325174 304.61842 
L 358.776801 303.350226 
L 359.228428 305.839489 
L 359.680056 304.769512 
L 360.58331 304.493202 
L 361.034937 305.320497 
L 361.486565 305.158024 
L 361.938192 305.848403 
L 362.389819 305.250782 
L 362.841446 306.146398 
L 363.293074 304.401887 
L 364.196328 305.574691 
L 364.647955 304.006378 
L 365.099583 304.920053 
L 365.55121 305.553725 
L 366.002837 304.615924 
L 366.454465 305.235157 
L 366.906092 306.169669 
L 367.357719 304.870808 
L 367.809346 303.934106 
L 368.260974 306.0361 
L 369.164228 304.467709 
L 369.615855 304.729503 
L 370.067483 304.337444 
L 370.51911 305.07934 
L 370.970737 304.070032 
L 371.422364 304.909431 
L 371.873992 304.975569 
L 372.325619 304.658654 
L 372.777246 305.103288 
L 373.680501 305.218648 
L 374.132128 305.453494 
L 374.583755 305.392203 
L 375.035382 305.789288 
L 375.336 305.789288 
L 375.66 115.98336 
L 375.984 306.191938 
L 376.390264 306.191938 
L 376.841892 305.209577 
L 377.293519 304.896453 
L 377.745146 305.57634 
L 378.196773 304.658003 
L 378.648401 305.303048 
L 379.100028 304.910828 
L 379.551655 305.538216 
L 380.003282 304.803428 
L 380.45491 304.829857 
L 380.906537 303.448915 
L 381.358164 303.914341 
L 381.636 303.914341 
L 381.96 90.968832 
L 382.284 304.880466 
L 382.713046 304.880466 
L 383.164673 304.759323 
L 383.6163 306.320575 
L 384.067928 304.953997 
L 384.519555 304.523792 
L 384.971182 304.906962 
L 385.164 304.906962 
L 385.22618 -1 
M 385.749656 -1 
L 385.874437 305.911138 
L 386.326064 306.098458 
L 386.777691 303.884033 
L 387.229318 304.458712 
L 387.680946 304.06678 
L 388.132573 305.127139 
L 388.5842 305.409016 
L 389.035828 305.944295 
L 389.487455 304.696518 
L 389.939082 305.851072 
L 390.390709 305.449238 
L 390.842337 304.177258 
L 391.293964 303.977783 
L 391.745591 305.093514 
L 392.197218 304.369281 
L 392.648846 304.835652 
L 393.100473 304.617643 
L 393.5521 305.769016 
L 394.003727 304.743379 
L 394.455355 304.769361 
L 394.906982 298.07108 
L 395.358609 298.078186 
L 395.810236 298.245443 
L 396.261864 304.572228 
L 396.713491 305.415871 
L 397.165118 304.695784 
L 397.616745 305.499715 
L 398.068373 304.85204 
L 398.52 305.206633 
L 398.52 305.206633 
" clip-path="url(#p02d3b5d28d)" style="fill: none; stroke: #17becf; stroke-opacity: 0.5; stroke-width: 1.5; stroke-linecap: square"/>
   </g>
   <g id="line2d_41">
    <path d="M 73.8 303.165866 
L 74.251627 303.099645 
L 74.703255 304.443112 
L 75.154882 303.050582 
L 75.606509 303.435882 
L 76.058136 303.439096 
L 76.509764 304.296955 
L 76.961391 302.868928 
L 77.413018 302.191879 
L 78.316273 302.280755 
L 78.7679 302.789846 
L 79.219527 302.473094 
L 79.671154 303.939132 
L 80.122782 303.386353 
L 81.026036 303.033596 
L 81.477663 303.400194 
L 81.929291 303.133031 
L 82.380918 302.513128 
L 82.832545 303.893221 
L 83.284172 302.690614 
L 83.7358 303.104751 
L 84.187427 302.801255 
L 84.639054 302.937423 
L 85.090682 302.861746 
L 85.542309 303.269889 
L 85.993936 302.430998 
L 86.445563 302.384298 
L 86.897191 302.626154 
L 87.348818 303.566599 
L 88.252072 302.917403 
L 88.7037 301.819701 
L 89.155327 302.586451 
L 89.606954 302.722515 
L 90.058581 302.32005 
L 90.510209 303.873704 
L 90.961836 302.677122 
L 91.413463 304.913546 
L 91.86509 303.383545 
L 92.316718 302.964919 
L 92.768345 304.004006 
L 93.219972 304.559617 
L 93.671599 303.973459 
L 94.123227 302.806489 
L 95.22 302.859899 
L 95.281843 -1 
M 95.806228 -1 
L 95.929736 302.42963 
L 96.381363 302.738745 
L 96.83299 303.446186 
L 97.284618 303.090762 
L 97.736245 301.840294 
L 98.187872 303.407869 
L 98.639499 303.829898 
L 99.091127 303.940746 
L 99.542754 304.340729 
L 99.994381 303.924859 
L 100.446008 302.252938 
L 100.897636 302.678376 
L 101.349263 302.751788 
L 101.80089 302.573295 
L 102.252517 303.505578 
L 102.704145 303.336863 
L 103.155772 303.018555 
L 103.607399 302.17286 
L 104.059026 303.379312 
L 104.510654 303.943666 
L 104.962281 303.650442 
L 105.413908 302.149947 
L 106.317163 303.87947 
L 106.76879 302.888746 
L 107.220417 302.6047 
L 107.672045 303.583294 
L 108.123672 303.492781 
L 108.575299 303.710593 
L 109.026926 304.129699 
L 109.930181 302.632047 
L 110.381808 302.704254 
L 110.833435 303.140149 
L 111.285063 303.986162 
L 111.73669 303.0109 
L 112.188317 302.445189 
L 112.639944 302.401437 
L 113.091572 303.439093 
L 113.543199 303.664875 
L 113.994826 302.471887 
L 114.446453 303.002117 
L 114.898081 302.165004 
L 115.349708 302.497377 
L 115.801335 302.358364 
L 116.70459 303.834212 
L 117.156217 302.789998 
L 117.607844 303.227391 
L 118.059471 302.665736 
L 118.511099 303.177838 
L 118.962726 302.667992 
L 119.414353 303.448637 
L 120.769235 302.154627 
L 121.220862 303.849676 
L 121.67249 302.867455 
L 122.575744 302.925291 
L 123.027371 303.059516 
L 123.478999 302.942319 
L 123.930626 303.326643 
L 124.83388 302.139995 
L 125.285508 304.081755 
L 125.737135 302.152129 
L 126.188762 303.876476 
L 126.640389 303.297428 
L 127.092017 303.630026 
L 127.543644 295.60619 
L 127.995271 296.177398 
L 128.446898 302.701409 
L 128.898526 304.292455 
L 129.350153 303.0792 
L 129.80178 302.522032 
L 130.705035 303.706993 
L 131.156662 303.012303 
L 131.608289 302.034729 
L 132.059917 302.452666 
L 132.511544 302.280459 
L 132.963171 303.622058 
L 133.414798 303.0703 
L 133.866426 303.420182 
L 134.318053 303.167921 
L 134.76968 303.665055 
L 135.221307 303.498615 
L 135.672935 302.216255 
L 136.124562 303.827949 
L 136.576189 302.625177 
L 137.027816 303.158929 
L 137.479444 303.428688 
L 137.931071 302.600899 
L 138.382698 302.943763 
L 138.834325 302.210373 
L 139.285953 301.739319 
L 140.189207 303.285132 
L 140.640834 303.441966 
L 141.092462 304.102011 
L 141.544089 303.012968 
L 141.995716 303.444585 
L 142.447344 301.678652 
L 142.898971 303.409176 
L 143.350598 303.461531 
L 143.802225 303.664221 
L 144.253853 303.12516 
L 144.70548 303.421868 
L 145.157107 304.181093 
L 145.608734 302.355634 
L 146.060362 302.757913 
L 146.511989 302.004058 
L 146.963616 300.054262 
L 147.415243 300.477751 
L 147.866871 299.880002 
L 148.318498 303.078274 
L 148.770125 302.333492 
L 149.221752 303.049542 
L 149.67338 302.882166 
L 150.125007 304.191434 
L 150.576634 303.313563 
L 151.028261 302.835835 
L 151.931516 303.099747 
L 152.383143 302.313315 
L 152.834771 302.295696 
L 153.286398 303.851348 
L 153.738025 303.006865 
L 154.189652 302.746826 
L 154.64128 301.715739 
L 155.092907 302.857131 
L 155.544534 303.334621 
L 155.996161 303.111867 
L 156.447789 302.273079 
L 156.899416 304.594648 
L 157.351043 302.430268 
L 157.80267 302.310268 
L 158.254298 303.164908 
L 158.705925 302.328121 
L 159.157552 303.519331 
L 160.060807 304.078126 
L 160.512434 303.173276 
L 160.964061 302.79821 
L 161.415688 302.96346 
L 161.867316 303.928221 
L 162.318943 303.028963 
L 162.77057 302.701866 
L 163.222197 302.780216 
L 163.673825 302.147459 
L 164.125452 303.729895 
L 164.577079 302.829416 
L 165.028707 303.164856 
L 165.480334 303.007048 
L 165.931961 303.421216 
L 166.383588 303.037519 
L 166.835216 303.932936 
L 167.286843 303.445143 
L 167.73847 302.453001 
L 168.190097 303.434198 
L 168.641725 303.264876 
L 169.093352 302.828911 
L 169.544979 302.720838 
L 169.996606 302.286486 
L 170.448234 303.565962 
L 170.899861 303.214124 
L 171.351488 303.874379 
L 171.803115 302.77822 
L 172.254743 303.017168 
L 172.70637 302.94469 
L 173.157997 303.741777 
L 173.609624 302.632639 
L 174.061252 303.814507 
L 174.512879 303.859693 
L 174.964506 303.406879 
L 175.416134 303.633238 
L 175.867761 302.718526 
L 176.319388 302.996104 
L 176.771015 303.5474 
L 177.222643 302.440241 
L 177.67427 302.6581 
L 178.125897 303.234341 
L 178.577524 303.578366 
L 179.029152 303.74749 
L 179.480779 302.913683 
L 179.932406 303.108503 
L 180.384033 302.898716 
L 181.287288 302.903755 
L 181.738915 303.512936 
L 182.190542 302.868812 
L 182.64217 303.111121 
L 183.093797 304.469799 
L 183.997051 302.378924 
L 184.900306 303.365619 
L 185.351933 303.418027 
L 185.803561 302.844795 
L 186.255188 303.332748 
L 186.706815 304.057973 
L 187.158442 303.935533 
L 187.61007 301.60738 
L 188.061697 303.273649 
L 188.964951 302.971583 
L 189.416579 302.868925 
L 189.868206 302.645244 
L 190.77146 303.332863 
L 191.674715 303.126758 
L 192.126342 302.044722 
L 192.577969 302.002469 
L 193.029597 302.616771 
L 193.481224 301.992629 
L 193.932851 303.400928 
L 194.384478 303.575699 
L 194.836106 304.491492 
L 195.287733 302.545652 
L 195.73936 302.809941 
L 196.190987 303.85502 
L 196.642615 302.739006 
L 197.094242 303.26928 
L 197.545869 302.935587 
L 197.997497 302.445839 
L 198.449124 302.682282 
L 198.900751 303.11265 
L 199.352378 303.340351 
L 199.804006 302.45298 
L 200.255633 303.78063 
L 200.70726 302.871431 
L 201.610515 302.2063 
L 202.062142 304.03121 
L 202.513769 302.746464 
L 202.965396 303.229037 
L 203.417024 303.213174 
L 203.868651 302.508127 
L 204.320278 302.929555 
L 204.771905 304.727433 
L 205.223533 302.631161 
L 205.67516 303.7496 
L 206.126787 302.730488 
L 206.578414 303.435378 
L 207.030042 303.529918 
L 207.933296 302.738859 
L 208.384924 303.678044 
L 208.836551 302.302717 
L 209.288178 303.438168 
L 209.739805 302.822259 
L 210.191433 301.967325 
L 210.64306 303.315445 
L 211.546314 302.645074 
L 212.449569 302.450762 
L 212.901196 302.982225 
L 213.352823 303.026291 
L 213.804451 302.935329 
L 214.256078 303.355926 
L 214.707705 304.185048 
L 215.159332 302.861718 
L 215.61096 303.044562 
L 216.062587 301.408086 
L 216.514214 303.352344 
L 216.965841 303.820603 
L 217.417469 303.459311 
L 217.62 303.459311 
L 217.944 150.57792 
L 218.320723 302.748252 
L 218.77235 303.368703 
L 219.223978 302.721123 
L 219.675605 303.429642 
L 220.127232 303.392709 
L 220.57886 302.971957 
L 221.030487 303.009504 
L 221.482114 303.94617 
L 221.933741 302.787771 
L 222.385369 303.208148 
L 222.836996 301.870217 
L 223.288623 303.19602 
L 223.74025 302.874464 
L 224.191878 303.667514 
L 224.643505 302.738398 
L 225.095132 303.417257 
L 225.998387 302.535755 
L 226.450014 303.91293 
L 226.901641 304.378782 
L 227.353268 303.243348 
L 228.256523 302.739818 
L 228.70815 302.286417 
L 229.159777 303.351613 
L 229.611405 303.294057 
L 230.063032 303.70776 
L 230.514659 302.797896 
L 230.966287 302.384427 
L 231.417914 303.122497 
L 231.869541 302.5097 
L 232.321168 303.40795 
L 232.772796 303.368028 
L 233.224423 302.253356 
L 233.67605 302.300971 
L 234.127677 300.220013 
L 234.579305 300.922255 
L 235.030932 300.137171 
L 235.548 303.819953 
L 235.872 283.101696 
L 236.196 303.330031 
L 236.385814 303.330031 
L 236.837441 303.666754 
L 237.289068 303.13968 
L 237.740695 301.538791 
L 238.192323 302.759968 
L 238.64395 302.737956 
L 239.095577 303.817232 
L 239.508 303.817232 
L 239.832 282.037248 
L 240.156 303.450757 
L 240.450459 303.450757 
L 240.902086 302.936373 
L 241.353713 301.740269 
L 241.805341 303.534647 
L 242.256968 302.755056 
L 242.708595 303.255107 
L 243.160223 304.267077 
L 243.61185 302.690427 
L 244.063477 301.570292 
L 244.966732 303.577825 
L 245.869986 302.747499 
L 246.321613 303.70799 
L 246.773241 302.965357 
L 247.224868 303.465581 
L 247.676495 303.075311 
L 248.128122 303.344414 
L 249.031377 302.843425 
L 249.483004 303.526353 
L 249.934631 302.102618 
L 250.386259 303.735938 
L 251.289513 301.835579 
L 251.74114 302.145513 
L 252.192768 303.168012 
L 252.644395 302.743172 
L 253.096022 303.620913 
L 253.54765 302.814165 
L 253.999277 303.671102 
L 254.450904 302.322767 
L 255.354159 303.468364 
L 255.805786 302.572527 
L 256.257413 303.417632 
L 256.70904 302.916045 
L 257.160668 303.570413 
L 257.612295 303.428643 
L 258.063922 302.504033 
L 258.515549 301.860883 
L 258.967177 301.996781 
L 259.418804 302.380168 
L 259.870431 302.936545 
L 260.322058 302.511391 
L 260.773686 303.118194 
L 261.67694 303.19487 
L 262.128567 302.466088 
L 262.656 302.856209 
L 262.717842 -1 
M 263.242156 -1 
L 263.304 302.865137 
L 263.483449 302.865137 
L 263.935076 302.261674 
L 264.386704 302.709458 
L 264.838331 303.440229 
L 265.289958 303.033785 
L 265.741586 298.058773 
L 266.193213 297.494729 
L 266.64484 297.691555 
L 267.096467 303.224295 
L 267.548095 302.484541 
L 267.999722 304.207661 
L 268.451349 304.22533 
L 268.902976 302.587126 
L 269.354604 304.262341 
L 269.806231 302.102778 
L 270.257858 302.886127 
L 270.709485 302.972922 
L 271.161113 302.280618 
L 271.61274 301.796855 
L 272.064367 303.00341 
L 272.515994 302.773588 
L 272.967622 303.651641 
L 273.419249 303.838708 
L 273.870876 299.002785 
L 274.322503 302.211622 
L 274.774131 303.301288 
L 275.225758 302.072112 
L 275.677385 303.769848 
L 276.129013 303.608917 
L 277.032267 302.421935 
L 277.483894 303.627299 
L 277.935522 303.376941 
L 278.387149 303.521083 
L 278.838776 301.91663 
L 279.290403 302.815954 
L 279.742031 302.779589 
L 280.193658 303.516477 
L 280.645285 303.169511 
L 281.096912 303.560117 
L 281.54854 301.641366 
L 281.916 301.641366 
L 282.24 279.376128 
L 282.564 303.86147 
L 282.903421 303.86147 
L 283.356 304.529711 
L 283.418118 -1 
M 283.941929 -1 
L 284.004 304.245029 
L 284.258303 304.245029 
L 284.70993 302.38442 
L 285.161558 303.285197 
L 285.613185 303.889105 
L 286.064812 301.818132 
L 286.516439 303.398 
L 286.968067 301.996394 
L 287.419694 303.253818 
L 287.871321 303.062647 
L 288.322949 302.698402 
L 288.774576 302.068663 
L 289.226203 303.084008 
L 289.67783 302.065432 
L 290.129458 303.612511 
L 290.581085 301.672733 
L 291.032712 302.826267 
L 291.935967 303.187611 
L 292.839221 302.683962 
L 293.290848 302.923539 
L 293.742476 303.952681 
L 294.194103 301.829301 
L 294.64573 303.467865 
L 295.548985 303.701536 
L 296.000612 302.617117 
L 296.452239 303.571815 
L 296.903866 303.249565 
L 297.355494 302.077247 
L 298.258748 303.077447 
L 298.710376 303.717111 
L 299.162003 303.120012 
L 299.61363 302.752201 
L 300.065257 303.701781 
L 300.516885 303.537407 
L 300.968512 302.69575 
L 301.420139 303.258622 
L 301.871766 302.155162 
L 302.323394 303.920502 
L 302.775021 303.414224 
L 303.226648 303.583928 
L 303.678275 302.880838 
L 304.129903 303.507464 
L 304.58153 302.465739 
L 305.033157 301.886072 
L 305.484784 303.091507 
L 305.936412 302.788922 
L 306.388039 303.416089 
L 306.839666 302.354783 
L 307.291293 303.593492 
L 308.194548 302.77689 
L 308.646175 303.698668 
L 309.097803 302.616241 
L 309.54943 303.191187 
L 310.001057 302.856073 
L 310.904312 303.845231 
L 311.355939 302.640303 
L 311.807566 302.94801 
L 312.259193 302.963723 
L 312.710821 303.297179 
L 313.162448 302.722384 
L 313.614075 303.333315 
L 314.065702 302.952428 
L 314.51733 302.040963 
L 314.968957 303.295879 
L 315.420584 302.783061 
L 315.872211 303.325305 
L 316.323839 302.866354 
L 316.775466 303.200852 
L 317.227093 302.571155 
L 317.67872 303.443748 
L 318.130348 303.29298 
L 318.581975 302.045652 
L 319.033602 302.947008 
L 319.485229 301.942282 
L 319.936857 303.174617 
L 320.388484 299.947121 
L 320.840111 299.297056 
L 321.291739 302.808004 
L 321.743366 303.193568 
L 322.194993 303.942183 
L 322.64662 304.132363 
L 323.098248 301.948044 
L 323.549875 303.57765 
L 324.001502 302.765768 
L 324.453129 302.471289 
L 324.904757 302.512419 
L 325.356384 305.071288 
L 325.808011 304.079775 
L 326.259638 303.93044 
L 326.711266 302.716786 
L 327.61452 303.907085 
L 328.066147 302.716353 
L 328.517775 302.614924 
L 328.969402 303.067382 
L 329.421029 303.957114 
L 329.872656 302.888381 
L 330.324284 303.659075 
L 330.775911 303.192376 
L 331.227538 302.928212 
L 331.679166 302.966943 
L 332.130793 303.236933 
L 332.58242 303.148116 
L 333.034047 302.678857 
L 333.485675 303.0145 
L 333.937302 304.67446 
L 334.388929 303.591421 
L 334.840556 303.087544 
L 335.016 303.087544 
L 335.34 273.521664 
L 335.743811 303.415072 
L 336.195438 303.472092 
L 336.647065 302.805385 
L 337.098693 303.772293 
L 337.55032 302.686288 
L 338.001947 303.489298 
L 338.453574 302.968802 
L 339.356829 302.832951 
L 339.808456 302.384091 
L 340.260083 303.222951 
L 340.711711 303.566415 
L 341.163338 303.069634 
L 341.614965 301.731567 
L 342.066592 302.394584 
L 342.51822 303.690946 
L 342.969847 303.86004 
L 343.421474 303.19314 
L 343.873102 303.988494 
L 344.324729 303.896993 
L 344.776356 302.369113 
L 345.636 302.405483 
L 345.96 225.08928 
L 346.284 304.352422 
L 346.582865 304.352422 
L 347.034492 302.972247 
L 347.48612 303.474865 
L 347.937747 302.414232 
L 348.389374 303.699065 
L 348.841001 302.793413 
L 349.38 302.520937 
L 349.704 245.846016 
L 350.028 302.051213 
L 350.64751 302.106663 
L 351.550765 304.036824 
L 352.002392 302.794017 
L 352.454019 302.1057 
L 352.905647 302.309774 
L 353.357274 304.331685 
L 353.808901 303.656839 
L 354.260529 302.654607 
L 354.712156 302.704447 
L 355.163783 302.992563 
L 355.61541 302.97569 
L 356.067038 303.558817 
L 356.970292 301.933025 
L 357.873547 304.124863 
L 358.776801 302.724829 
L 359.228428 302.704858 
L 359.680056 303.538046 
L 360.396 303.601436 
L 360.72 279.376128 
L 361.044 302.9547 
L 361.938192 303.063418 
L 362.389819 303.071998 
L 362.841446 303.504264 
L 363.293074 304.266515 
L 364.196328 303.307649 
L 364.647955 302.571443 
L 365.099583 303.628765 
L 365.55121 301.754396 
L 366.002837 303.156301 
L 366.454465 303.564443 
L 366.906092 302.579822 
L 367.809346 302.107361 
L 368.260974 302.507415 
L 368.712601 302.697118 
L 369.164228 303.271984 
L 369.615855 302.935263 
L 370.067483 302.85384 
L 370.51911 303.49797 
L 370.970737 302.771589 
L 371.422364 304.21756 
L 371.916 303.484953 
L 372.24 280.9728 
L 372.564 303.021701 
L 372.777246 303.021701 
L 373.228873 302.767829 
L 374.132128 302.866573 
L 374.583755 303.978116 
L 375.035382 301.674005 
L 375.48701 303.372284 
L 375.876 303.372284 
L 376.2 271.924992 
L 376.524 302.96167 
L 376.841892 302.96167 
L 377.293519 303.218528 
L 377.745146 303.096601 
L 378.196773 304.079637 
L 378.648401 303.292026 
L 379.100028 301.661841 
L 380.003282 303.432722 
L 380.45491 303.321257 
L 380.906537 303.370544 
L 381.358164 303.177605 
L 381.809791 302.2318 
L 382.713046 303.407184 
L 383.164673 304.445468 
L 383.6163 302.002819 
L 384.067928 302.350797 
L 384.519555 303.088499 
L 384.971182 302.829545 
L 385.422809 303.316079 
L 385.874437 303.488298 
L 386.326064 301.500244 
L 386.777691 304.56065 
L 387.229318 303.251863 
L 387.680946 302.791619 
L 388.132573 302.72289 
L 389.035828 303.219726 
L 389.487455 302.854695 
L 389.939082 303.757153 
L 390.390709 303.760608 
L 390.842337 302.679671 
L 391.293964 303.549979 
L 391.745591 302.611424 
L 392.648846 302.155868 
L 393.100473 302.317891 
L 393.5521 303.712256 
L 394.003727 303.017304 
L 394.455355 303.066409 
L 394.906982 302.383563 
L 395.358609 303.241691 
L 395.810236 302.198264 
L 396.261864 302.952668 
L 396.713491 302.203728 
L 397.165118 302.974452 
L 397.616745 302.982056 
L 398.068373 303.732316 
L 398.52 303.296389 
L 398.52 303.296389 
" clip-path="url(#p02d3b5d28d)" style="fill: none; stroke: #1f77b4; stroke-opacity: 0.5; stroke-width: 1.5; stroke-linecap: square"/>
   </g>
   <g id="line2d_42">
    <path d="M 73.8 304.766916 
L 74.251627 306.387413 
L 74.703255 307.158557 
L 75.606509 306.651232 
L 76.058136 304.589421 
L 76.509764 306.639606 
L 76.961391 305.195256 
L 77.413018 307.349036 
L 77.864645 306.62534 
L 78.7679 306.598886 
L 79.219527 306.068882 
L 79.671154 305.96408 
L 80.122782 306.396314 
L 80.574409 307.26831 
L 81.026036 306.136572 
L 81.477663 306.302391 
L 81.929291 305.782728 
L 82.380918 306.947511 
L 82.832545 305.326065 
L 83.284172 306.037674 
L 83.7358 307.186837 
L 84.187427 305.669775 
L 84.639054 307.015339 
L 85.542309 306.490249 
L 85.993936 306.062633 
L 86.445563 304.556253 
L 86.897191 306.446924 
L 87.348818 305.88028 
L 87.800445 305.929829 
L 88.252072 306.461083 
L 88.7037 307.404342 
L 89.155327 306.242787 
L 89.606954 307.584 
L 90.058581 305.993026 
L 90.510209 307.349541 
L 90.961836 306.04811 
L 91.413463 305.496194 
L 91.86509 306.814837 
L 92.316718 305.826069 
L 92.768345 305.407503 
L 93.219972 307.07266 
L 93.671599 307.584 
L 94.574854 306.064413 
L 95.026481 307.036556 
L 95.478108 306.278803 
L 95.929736 306.106559 
L 96.83299 305.402098 
L 97.284618 305.974701 
L 97.736245 306.891418 
L 98.187872 306.492454 
L 98.639499 307.467246 
L 99.091127 305.772947 
L 99.542754 304.731067 
L 99.994381 307.271783 
L 100.446008 305.87589 
L 100.897636 305.727787 
L 101.349263 304.032424 
L 101.80089 304.74015 
L 102.252517 306.549892 
L 102.704145 305.503658 
L 103.155772 305.678329 
L 103.607399 307.561448 
L 104.059026 306.140982 
L 104.510654 306.445027 
L 104.962281 305.010839 
L 105.413908 306.425809 
L 105.865535 305.89417 
L 106.317163 305.149588 
L 106.76879 305.492594 
L 107.220417 307.180197 
L 107.672045 306.267028 
L 108.123672 305.97626 
L 108.575299 305.857828 
L 109.026926 306.433362 
L 109.478554 305.526281 
L 109.930181 306.791666 
L 110.381808 306.568612 
L 110.833435 305.157915 
L 111.285063 306.455957 
L 111.73669 307.287702 
L 112.188317 305.188368 
L 112.639944 307.212849 
L 113.091572 306.765969 
L 113.543199 306.060777 
L 113.994826 305.647164 
L 114.446453 305.670957 
L 114.898081 305.501355 
L 115.801335 305.799727 
L 116.70459 306.461567 
L 117.156217 306.650502 
L 117.607844 304.536707 
L 118.059471 305.569341 
L 118.511099 306.031398 
L 118.962726 305.348587 
L 119.414353 305.831359 
L 119.865981 305.783573 
L 120.317608 306.049545 
L 120.769235 305.786462 
L 121.220862 306.091256 
L 121.67249 307.190863 
L 122.124117 306.037343 
L 122.575744 305.765366 
L 123.027371 306.197199 
L 123.478999 306.40431 
L 123.930626 306.06423 
L 124.382253 306.260395 
L 124.83388 307.05891 
L 125.285508 306.272784 
L 126.188762 307.17032 
L 126.640389 305.927238 
L 127.092017 306.031221 
L 127.543644 305.591715 
L 127.995271 306.438469 
L 128.446898 305.890466 
L 128.898526 306.136729 
L 129.350153 305.805023 
L 129.80178 306.829894 
L 130.253408 305.544985 
L 130.705035 306.753281 
L 131.156662 307.584 
L 131.608289 306.285008 
L 132.059917 307.348051 
L 132.511544 305.515258 
L 132.963171 307.159598 
L 133.414798 306.182662 
L 133.866426 307.471273 
L 134.318053 305.952216 
L 134.76968 305.180326 
L 135.221307 306.491593 
L 135.672935 305.352829 
L 136.124562 306.358578 
L 136.576189 307.076743 
L 137.027816 306.446754 
L 137.479444 306.842004 
L 137.931071 305.792417 
L 138.382698 305.837771 
L 138.834325 304.988936 
L 139.285953 306.834571 
L 139.73758 306.333254 
L 140.189207 306.683963 
L 140.640834 306.83751 
L 141.092462 306.4926 
L 141.544089 305.83454 
L 141.995716 305.756217 
L 142.447344 305.45984 
L 142.898971 306.484467 
L 143.350598 306.355502 
L 143.802225 306.562565 
L 144.253853 307.584 
L 144.70548 306.231942 
L 145.157107 306.214997 
L 145.608734 306.647596 
L 146.060362 306.116888 
L 146.511989 303.333783 
L 146.963616 305.06643 
L 147.415243 303.857874 
L 147.866871 306.729525 
L 148.318498 306.366528 
L 149.221752 306.441109 
L 149.67338 305.131633 
L 150.125007 306.33437 
L 150.576634 306.437808 
L 151.028261 307.059016 
L 151.931516 302.6621 
L 152.383143 302.984251 
L 152.834771 306.876105 
L 153.286398 306.49946 
L 153.738025 305.021143 
L 154.189652 306.891859 
L 154.64128 306.983028 
L 155.092907 305.210221 
L 155.544534 306.990946 
L 155.996161 305.726852 
L 156.447789 304.805797 
L 156.899416 307.162001 
L 157.351043 306.989787 
L 157.80267 305.293008 
L 158.254298 305.254677 
L 158.705925 304.740255 
L 159.157552 306.047717 
L 159.609179 306.0982 
L 160.060807 307.096948 
L 160.512434 306.435573 
L 161.415688 306.017719 
L 161.867316 306.8895 
L 162.318943 306.416086 
L 162.77057 305.497423 
L 163.222197 305.053435 
L 163.656 305.053435 
L 163.718204 -1 
M 164.241789 -1 
L 164.304 305.096498 
L 164.577079 305.096498 
L 165.028707 307.584 
L 165.480334 304.808029 
L 166.383588 307.478866 
L 166.835216 305.995751 
L 167.286843 305.695779 
L 167.73847 306.666992 
L 168.190097 305.33215 
L 168.641725 305.562739 
L 169.093352 304.499889 
L 169.544979 306.2648 
L 169.996606 306.225368 
L 170.899861 307.019098 
L 171.803115 304.616456 
L 172.254743 306.698541 
L 172.70637 306.852157 
L 173.157997 306.129868 
L 173.609624 306.75519 
L 174.061252 305.859488 
L 174.512879 306.424997 
L 174.964506 306.61727 
L 175.416134 306.630422 
L 175.867761 306.197438 
L 176.319388 305.165071 
L 176.771015 307.584 
L 177.222643 304.826499 
L 177.67427 305.960162 
L 178.125897 305.160812 
L 178.577524 305.56521 
L 179.029152 305.791742 
L 179.480779 306.869888 
L 179.932406 306.877706 
L 180.384033 305.642474 
L 180.835661 305.821651 
L 181.287288 304.691742 
L 181.738915 307.584 
L 182.190542 306.704273 
L 182.64217 307.584 
L 183.093797 304.762508 
L 183.545424 306.776302 
L 183.997051 307.356083 
L 184.448679 305.760885 
L 184.900306 305.697649 
L 185.351933 307.204972 
L 186.255188 306.415427 
L 186.706815 305.113788 
L 187.158442 306.839629 
L 187.61007 306.301438 
L 188.061697 305.517899 
L 188.513324 306.16869 
L 188.964951 306.548452 
L 189.416579 306.191152 
L 189.868206 305.271693 
L 190.319833 306.265193 
L 190.77146 305.504086 
L 191.223088 307.0043 
L 191.674715 306.489691 
L 191.988 306.489691 
L 192.050439 -1 
M 192.573461 -1 
L 192.636 307.09842 
L 193.029597 307.09842 
L 193.481224 307.520025 
L 193.932851 305.929986 
L 194.384478 305.425976 
L 194.836106 304.664701 
L 195.287733 305.850453 
L 196.190987 305.29399 
L 196.642615 305.780376 
L 197.094242 306.611059 
L 197.997497 305.415028 
L 198.449124 305.80621 
L 198.900751 307.584 
L 199.352378 306.277542 
L 199.804006 306.114777 
L 200.255633 305.413732 
L 200.70726 305.327504 
L 201.158887 306.158428 
L 201.610515 305.845766 
L 202.062142 306.537221 
L 202.513769 306.911559 
L 202.965396 306.080451 
L 203.417024 307.330561 
L 203.868651 307.584 
L 204.320278 307.290742 
L 204.771905 305.817782 
L 205.223533 306.194342 
L 205.67516 306.337648 
L 206.126787 305.101735 
L 206.578414 305.984494 
L 207.030042 306.504607 
L 207.481669 305.348898 
L 207.933296 306.269262 
L 208.384924 307.485318 
L 208.836551 306.736164 
L 209.288178 306.681405 
L 209.739805 306.063378 
L 210.191433 306.354786 
L 210.64306 305.881853 
L 211.094687 306.261452 
L 211.546314 306.470254 
L 211.997942 306.519753 
L 212.449569 306.400564 
L 212.901196 306.571139 
L 213.352823 307.357166 
L 213.804451 306.883238 
L 214.256078 305.860658 
L 214.707705 307.115448 
L 215.159332 305.254526 
L 215.61096 305.991027 
L 216.062587 306.399449 
L 216.514214 307.453988 
L 216.965841 306.408893 
L 217.417469 306.517074 
L 218.320723 305.378254 
L 219.223978 305.721033 
L 219.675605 305.579607 
L 220.127232 304.931648 
L 220.57886 305.72688 
L 221.030487 305.786061 
L 221.482114 306.673285 
L 222.385369 305.815079 
L 222.836996 307.517869 
L 223.288623 304.801402 
L 223.74025 306.360351 
L 224.191878 305.745473 
L 224.643505 307.584 
L 225.095132 306.161276 
L 225.546759 307.103642 
L 225.998387 306.333982 
L 226.450014 307.113444 
L 226.901641 307.074124 
L 227.353268 307.533582 
L 227.804896 305.318656 
L 228.256523 306.816905 
L 229.159777 307.420632 
L 230.063032 305.080411 
L 230.514659 306.337982 
L 230.796 306.337982 
L 231.12 280.440576 
L 231.444 306.794439 
L 231.869541 306.794439 
L 232.321168 306.452522 
L 232.772796 306.842258 
L 233.224423 305.204555 
L 233.67605 304.629106 
L 234.127677 306.548077 
L 234.579305 306.97493 
L 235.030932 306.100536 
L 235.482559 306.178029 
L 235.934186 305.520513 
L 236.385814 306.669614 
L 236.837441 306.39676 
L 237.289068 306.258193 
L 237.740695 306.380691 
L 238.192323 305.958462 
L 239.095577 305.928749 
L 239.547204 307.584 
L 239.998832 305.849209 
L 240.450459 306.108639 
L 240.876 306.108639 
L 241.2 100.548864 
L 241.524 306.772451 
L 241.805341 306.772451 
L 242.256968 306.353977 
L 242.708595 307.131774 
L 243.160223 305.668187 
L 243.61185 305.758763 
L 244.063477 305.503308 
L 244.515104 305.880294 
L 245.418359 305.828963 
L 245.869986 305.327469 
L 246.321613 306.226919 
L 246.773241 305.601211 
L 247.224868 307.135175 
L 247.676495 305.662645 
L 248.128122 306.377836 
L 248.57975 305.039321 
L 249.12 305.866194 
L 249.147705 -1 
M 249.380219 -1 
L 249.483004 306.900528 
L 249.934631 305.919166 
L 250.092 305.919166 
L 250.416 249.571584 
L 250.837886 305.389697 
L 251.289513 306.207447 
L 251.74114 306.337894 
L 252.192768 306.246501 
L 252.644395 307.087656 
L 253.096022 306.169009 
L 253.54765 306.423709 
L 254.016 306.188071 
L 254.34 130.353408 
L 254.664 307.13793 
L 254.902531 307.13793 
L 255.354159 306.315775 
L 255.805786 305.123681 
L 256.257413 306.373291 
L 256.70904 306.523123 
L 257.160668 306.093037 
L 257.612295 305.34693 
L 258.063922 306.186775 
L 258.515549 305.378955 
L 258.967177 299.764333 
L 259.418804 305.231999 
L 259.870431 306.474035 
L 260.322058 305.770003 
L 260.773686 305.462149 
L 261.225313 306.731652 
L 261.67694 304.767518 
L 262.128567 306.067783 
L 262.580195 306.549817 
L 263.031822 304.998768 
L 263.483449 305.675913 
L 263.935076 304.564783 
L 264.386704 306.198276 
L 264.838331 307.193815 
L 265.289958 305.942929 
L 265.741586 307.572622 
L 266.193213 305.612094 
L 266.64484 306.179856 
L 267.096467 307.584 
L 267.548095 306.351113 
L 268.451349 307.584 
L 268.902976 306.943349 
L 269.354604 306.892202 
L 269.806231 306.178596 
L 270.257858 306.976942 
L 270.709485 305.323904 
L 271.161113 304.606357 
L 272.064367 306.893034 
L 272.515994 306.272443 
L 272.967622 306.254218 
L 273.419249 306.917611 
L 273.870876 306.470398 
L 274.322503 305.29475 
L 274.774131 306.862274 
L 275.225758 305.582569 
L 275.677385 306.435801 
L 276.129013 307.003991 
L 276.58064 306.474439 
L 277.032267 305.599494 
L 277.483894 306.328885 
L 277.935522 306.704571 
L 278.387149 306.431674 
L 278.838776 307.022374 
L 279.290403 306.114461 
L 279.742031 305.56896 
L 280.193658 305.493858 
L 280.645285 304.901079 
L 281.096912 305.767824 
L 281.54854 307.584 
L 282.000167 305.971922 
L 282.451794 307.301069 
L 282.903421 306.578678 
L 283.355049 306.809374 
L 283.806676 305.892576 
L 284.70993 306.620394 
L 285.161558 306.211817 
L 285.613185 307.451035 
L 286.064812 307.002811 
L 286.968067 304.904566 
L 287.419694 306.713414 
L 287.871321 305.311918 
L 288.322949 306.44577 
L 288.774576 305.38957 
L 289.226203 307.177624 
L 289.67783 306.089937 
L 290.129458 305.403822 
L 290.581085 307.162617 
L 291.032712 306.273336 
L 291.484339 306.988327 
L 292.387594 306.016898 
L 292.839221 306.523141 
L 293.290848 306.77192 
L 293.742476 306.154308 
L 294.194103 306.844836 
L 294.64573 306.562521 
L 295.097357 306.848418 
L 295.548985 306.123201 
L 296.000612 306.891227 
L 297.355494 307.176522 
L 297.807121 305.994988 
L 298.258748 305.578549 
L 299.162003 307.19702 
L 299.61363 307.480379 
L 300.065257 306.640861 
L 300.516885 306.608659 
L 300.968512 306.28734 
L 301.420139 306.355083 
L 301.871766 305.891869 
L 302.323394 306.902287 
L 302.775021 304.849866 
L 303.226648 307.060276 
L 303.678275 306.538996 
L 304.129903 306.428002 
L 304.58153 306.882989 
L 305.033157 307.584 
L 305.936412 303.727349 
L 306.839666 307.584 
L 307.291293 306.270844 
L 307.742921 306.472855 
L 308.194548 305.394091 
L 308.646175 306.186431 
L 309.097803 306.431924 
L 309.54943 306.87341 
L 310.001057 305.973139 
L 310.452684 306.550089 
L 310.904312 306.072942 
L 311.355939 305.990037 
L 311.807566 301.245097 
L 312.259193 301.307181 
L 312.710821 301.521077 
L 313.162448 306.333141 
L 313.614075 307.295136 
L 314.065702 307.584 
L 314.51733 306.450057 
L 314.968957 305.781594 
L 315.420584 306.617835 
L 315.872211 306.878018 
L 316.323839 306.255303 
L 316.775466 307.068189 
L 317.227093 307.052987 
L 318.130348 306.231944 
L 318.816 306.321082 
L 319.14 298.536192 
L 319.485229 306.543878 
L 319.936857 307.403922 
L 321.291739 306.467488 
L 321.743366 307.220132 
L 322.194993 305.911351 
L 322.64662 305.927724 
L 323.098248 306.902757 
L 323.549875 305.440899 
L 324.001502 306.404492 
L 324.453129 307.007492 
L 324.904757 306.702066 
L 325.356384 306.823122 
L 325.808011 305.548963 
L 326.259638 306.756821 
L 326.711266 305.387857 
L 327.162893 306.001966 
L 327.61452 306.324171 
L 328.066147 303.535623 
L 328.517775 304.063847 
L 328.969402 304.215026 
L 329.421029 307.229604 
L 329.872656 305.579668 
L 330.324284 304.443177 
L 330.732 304.443177 
L 331.056 107.467776 
L 331.38 304.922571 
L 332.130793 304.819573 
L 332.58242 305.053428 
L 333.034047 306.3083 
L 333.485675 305.235483 
L 334.388929 307.003456 
L 334.840556 306.006409 
L 335.292184 305.915397 
L 335.743811 305.133068 
L 336.195438 306.66455 
L 336.647065 306.896003 
L 337.098693 305.981571 
L 337.55032 305.798449 
L 338.001947 304.984959 
L 338.453574 305.96993 
L 338.905202 306.612589 
L 339.356829 306.218084 
L 339.808456 304.084956 
L 340.260083 307.584 
L 341.163338 304.96458 
L 341.614965 306.122718 
L 342.066592 306.909681 
L 342.51822 306.67536 
L 342.969847 305.652358 
L 343.421474 306.963392 
L 343.873102 306.058194 
L 344.324729 306.209814 
L 344.776356 305.759813 
L 345.679611 305.631461 
L 346.131238 306.048646 
L 346.582865 305.694917 
L 347.48612 306.911565 
L 348.389374 305.820365 
L 348.841001 305.536315 
L 349.292629 304.862187 
L 349.744256 306.500092 
L 350.195883 306.993203 
L 350.64751 306.994522 
L 351.099138 306.079242 
L 351.550765 307.584 
L 352.002392 307.294484 
L 352.454019 306.068631 
L 352.905647 306.032953 
L 353.357274 307.388487 
L 353.808901 305.789988 
L 354.260529 306.195611 
L 354.712156 305.698183 
L 355.163783 305.463818 
L 355.61541 306.350323 
L 356.067038 306.228102 
L 356.518665 305.891051 
L 356.970292 307.033332 
L 357.421919 305.845101 
L 357.873547 307.393944 
L 358.325174 305.424703 
L 358.776801 305.83796 
L 359.228428 306.744287 
L 359.680056 306.244224 
L 360.131683 306.654891 
L 361.034937 305.310101 
L 361.486565 306.420408 
L 361.938192 306.036152 
L 362.389819 305.333296 
L 362.841446 306.304891 
L 363.293074 305.538591 
L 363.744701 306.792955 
L 364.196328 306.416899 
L 364.647955 305.633211 
L 365.099583 305.332492 
L 365.55121 307.138879 
L 366.454465 305.247998 
L 367.357719 306.81926 
L 367.809346 305.953683 
L 368.260974 306.617465 
L 368.46 306.617465 
L 368.784 276.715008 
L 369.164228 306.824643 
L 369.615855 307.008485 
L 370.067483 306.144585 
L 370.970737 306.250735 
L 371.422364 306.88722 
L 371.873992 305.695378 
L 372.777246 307.053925 
L 373.228873 303.964433 
L 373.680501 305.837122 
L 374.132128 306.618195 
L 374.583755 305.585253 
L 375.035382 306.921812 
L 375.48701 305.344352 
L 375.938637 305.182922 
L 376.390264 305.677005 
L 377.293519 305.381132 
L 377.745146 304.665433 
L 378.196773 303.571335 
L 378.648401 307.584 
L 379.100028 305.655151 
L 379.551655 306.206321 
L 380.003282 304.831564 
L 380.45491 306.001682 
L 380.906537 305.757512 
L 381.358164 306.433054 
L 381.809791 305.313435 
L 382.261419 305.57334 
L 382.713046 306.054106 
L 383.164673 304.812511 
L 383.6163 304.613774 
L 384.067928 305.745886 
L 384.971182 306.619975 
L 385.422809 304.495288 
L 385.874437 306.768178 
L 386.326064 305.835081 
L 386.777691 306.713034 
L 387.680946 306.769135 
L 388.132573 305.020294 
L 388.5842 306.469829 
L 389.035828 307.45505 
L 389.487455 306.958671 
L 389.939082 307.248068 
L 390.390709 306.509514 
L 390.842337 306.58903 
L 391.293964 305.076985 
L 391.745591 306.890214 
L 392.197218 307.063526 
L 393.100473 304.782264 
L 393.5521 306.465452 
L 394.003727 306.743909 
L 394.455355 305.154563 
L 394.906982 307.463309 
L 395.358609 306.228277 
L 395.810236 306.52292 
L 396.261864 305.722969 
L 396.713491 305.852865 
L 397.165118 306.32911 
L 397.616745 306.480761 
L 398.068373 306.176984 
L 398.52 306.450441 
L 398.52 306.450441 
" clip-path="url(#p02d3b5d28d)" style="fill: none; stroke: #ff7f0e; stroke-opacity: 0.5; stroke-width: 1.5; stroke-linecap: square"/>
   </g>
   <g id="patch_3">
    <path d="M 57.9600 307.8000 
L 57.9600 42.1200 
" style="fill: none; stroke: #000000; stroke-width: 0.8; stroke-linejoin: miter; stroke-linecap: square"/>
   </g>
   <g id="patch_4">
    <path d="M 415.0800 307.8000 
L 415.0800 42.1200 
" style="fill: none; stroke: #000000; stroke-width: 0.8; stroke-linejoin: miter; stroke-linecap: square"/>
   </g>
   <g id="patch_5">
    <path d="M 57.9600 307.8000 
L 415.0800 307.8000 
" style="fill: none; stroke: #000000; stroke-width: 0.8; stroke-linejoin: miter; stroke-linecap: square"/>
   </g>
   <g id="patch_6">
    <path d="M 57.9600 42.1200 
L 415.0800 42.1200 
" style="fill: none; stroke: #000000; stroke-width: 0.8; stroke-linejoin: miter; stroke-linecap: square"/>
   </g>
   <g id="text_18" transform="translate(-0.1800 -0.7200)">
    <text textLength="282.888" lengthAdjust="spacingAndGlyphs" style="font-size: 12px; font-family: 'DejaVu Sans', 'Bitstream Vera Sans', 'Computer Modern Sans Serif', 'Lucida Grande', 'Verdana', 'Geneva', 'Lucid', 'Arial', 'Helvetica', 'Avant Garde', sans-serif; text-anchor: middle" x="236.16" y="35.472" transform="rotate(-0 236.16 35.472)">Anchor mesh pings (FI -&gt; de-drs-as42699) IPv4</text>
   </g>
   <g id="legend_1">
    <g id="patch_7">
     <path d="M 84.9600 77.0400 L 391.6800 77.0400 Q 393.1200 77.0400 393.1200 75.6000 L 393.1200 47.5200 Q 393.1200 46.8000 391.6800 46.8000 L 84.9600 46.8000 Q 84.2400 46.8000 84.2400 47.5200 L 84.2400 75.6000 Q 84.2400 77.0400 84.9600 77.0400 z" style="fill: #4d4d4d; fill-opacity: 0.6; stroke: none"/>
    </g>
    <g id="patch_8">
     <path d="M 83.1600 75.2400 
L 389.8800 75.2400 
Q 391.3200 75.2400 391.3200 73.8000 
L 391.3200 45.7200 
Q 391.3200 45.0000 389.8800 45.0000 
L 83.1600 45.0000 
Q 82.4400 45.0000 82.4400 45.7200 
L 82.4400 73.8000 
Q 82.4400 75.2400 83.1600 75.2400 
z
" style="fill: #ffffff; stroke: #cccccc; stroke-linejoin: miter"/>
    </g>
    <g id="line2d_43">
     <path d="M 84.2400 49.6800 
L 90.0000 49.6800 
L 96.4800 49.6800 
" style="fill: none; stroke: #1f77b4; stroke-opacity: 0.5; stroke-width: 1.5; stroke-linecap: square"/>
    </g>
    <g id="text_19" transform="translate(-0.5400 0.0000)">
     <text textLength="39.417" lengthAdjust="spacingAndGlyphs" style="font-size: 6px; font-family: 'DejaVu Sans', 'Bitstream Vera Sans', 'Computer Modern Sans Serif', 'Lucida Grande', 'Verdana', 'Geneva', 'Lucid', 'Arial', 'Helvetica', 'Avant Garde', sans-serif; text-anchor: start" x="100.92" y="51.912" transform="rotate(-0 100.92 51.912)">fi-hel-as6667</text>
    </g>
    <g id="line2d_44">
     <path d="M 84.2400 59.0400 
L 90.0000 59.0400 
L 96.4800 59.0400 
" style="fill: none; stroke: #ff7f0e; stroke-opacity: 0.5; stroke-width: 1.5; stroke-linecap: square"/>
    </g>
    <g id="text_20" transform="translate(-0.7200 0.0000)">
     <text textLength="38.447" lengthAdjust="spacingAndGlyphs" style="font-size: 6px; font-family: 'DejaVu Sans', 'Bitstream Vera Sans', 'Computer Modern Sans Serif', 'Lucida Grande', 'Verdana', 'Geneva', 'Lucid', 'Arial', 'Helvetica', 'Avant Garde', sans-serif; text-anchor: start" x="100.92" y="61.392" transform="rotate(-0 100.92 61.392)">fi-tmp-as719</text>
    </g>
    <g id="line2d_45">
     <path d="M 84.2400 69.1200 
L 90.0000 69.1200 
L 96.4800 69.1200 
" style="fill: none; stroke: #2ca02c; stroke-opacity: 0.5; stroke-width: 1.5; stroke-linecap: square"/>
    </g>
    <g id="text_21" transform="translate(-0.5400 0.0000)">
     <text style="font-size: 6px; font-family: 'DejaVu Sans', 'Bitstream Vera Sans', 'Computer Modern Sans Serif', 'Lucida Grande', 'Verdana', 'Geneva', 'Lucid', 'Arial', 'Helvetica', 'Avant Garde', sans-serif; text-anchor: start" x="100.92" y="70.872" transform="rotate(-0 100.92 70.872)">fi-hel-as203296</text>
    </g>
    <g id="line2d_46">
     <path d="M 159.8400 49.6800 
L 166.3200 49.6800 
L 172.0800 49.6800 
" style="fill: none; stroke: #d62728; stroke-opacity: 0.5; stroke-width: 1.5; stroke-linecap: square"/>
    </g>
    <g id="text_22" transform="translate(-0.3600 0.0000)">
     <text textLength="43.126" lengthAdjust="spacingAndGlyphs" style="font-size: 6px; font-family: 'DejaVu Sans', 'Bitstream Vera Sans', 'Computer Modern Sans Serif', 'Lucida Grande', 'Verdana', 'Geneva', 'Lucid', 'Arial', 'Helvetica', 'Avant Garde', sans-serif; text-anchor: start" x="176.97" y="51.912" transform="rotate(-0 176.97 51.912)">fi-oul-as20904</text>
    </g>
    <g id="line2d_47">
     <path d="M 159.8400 59.0400 
L 166.3200 59.0400 
L 172.0800 59.0400 
" style="fill: none; stroke: #9467bd; stroke-opacity: 0.5; stroke-width: 1.5; stroke-linecap: square"/>
    </g>
    <g id="text_23" transform="translate(-0.3600 0.0000)">
     <text style="font-size: 6px; font-family: 'DejaVu Sans', 'Bitstream Vera Sans', 'Computer Modern Sans Serif', 'Lucida Grande', 'Verdana', 'Geneva', 'Lucid', 'Arial', 'Helvetica', 'Avant Garde', sans-serif; text-anchor: start" x="176.97" y="61.392" transform="rotate(-0 176.97 61.392)">fi-tuu-as24940-client</text>
    </g>
    <g id="line2d_48">
     <path d="M 159.8400 69.1200 
L 166.3200 69.1200 
L 172.0800 69.1200 
" style="fill: none; stroke: #8c564b; stroke-opacity: 0.5; stroke-width: 1.5; stroke-linecap: square"/>
    </g>
    <g id="text_24" transform="translate(-0.1800 0.0000)">
     <text textLength="43.036" lengthAdjust="spacingAndGlyphs" style="font-size: 6px; font-family: 'DejaVu Sans', 'Bitstream Vera Sans', 'Computer Modern Sans Serif', 'Lucida Grande', 'Verdana', 'Geneva', 'Lucid', 'Arial', 'Helvetica', 'Avant Garde', sans-serif; text-anchor: start" x="176.97" y="70.872" transform="rotate(-0 176.97 70.872)">fi-hel-as57692</text>
    </g>
    <g id="line2d_49">
     <path d="M 252.0000 49.6800 
L 257.7600 49.6800 
L 264.2400 49.6800 
" style="fill: none; stroke: #e377c2; stroke-opacity: 0.5; stroke-width: 1.5; stroke-linecap: square"/>
    </g>
    <g id="text_25" transform="translate(-0.7200 0.0000)">
     <text textLength="46.094" lengthAdjust="spacingAndGlyphs" style="font-size: 6px; font-family: 'DejaVu Sans', 'Bitstream Vera Sans', 'Computer Modern Sans Serif', 'Lucida Grande', 'Verdana', 'Geneva', 'Lucid', 'Arial', 'Helvetica', 'Avant Garde', sans-serif; text-anchor: start" x="268.68" y="51.912" transform="rotate(-0 268.68 51.912)">fi-tmp-as39484</text>
    </g>
    <g id="line2d_50">
     <path d="M 252.0000 59.0400 
L 257.7600 59.0400 
L 264.2400 59.0400 
" style="fill: none; stroke: #7f7f7f; stroke-opacity: 0.5; stroke-width: 1.5; stroke-linecap: square"/>
    </g>
    <g id="text_26" transform="translate(-0.5400 0.0000)">
     <text style="font-size: 6px; font-family: 'DejaVu Sans', 'Bitstream Vera Sans', 'Computer Modern Sans Serif', 'Lucida Grande', 'Verdana', 'Geneva', 'Lucid', 'Arial', 'Helvetica', 'Avant Garde', sans-serif; text-anchor: start" x="268.68" y="61.392" transform="rotate(-0 268.68 61.392)">fi-hel-as208722</text>
    </g>
    <g id="line2d_51">
     <path d="M 252.0000 69.1200 
L 257.7600 69.1200 
L 264.2400 69.1200 
" style="fill: none; stroke: #bcbd22; stroke-opacity: 0.5; stroke-width: 1.5; stroke-linecap: square"/>
    </g>
    <g id="text_27" transform="translate(-0.7200 0.0000)">
     <text style="font-size: 6px; font-family: 'DejaVu Sans', 'Bitstream Vera Sans', 'Computer Modern Sans Serif', 'Lucida Grande', 'Verdana', 'Geneva', 'Lucid', 'Arial', 'Helvetica', 'Avant Garde', sans-serif; text-anchor: start" x="268.68" y="70.872" transform="rotate(-0 268.68 70.872)">fi-kst-as199087</text>
    </g>
    <g id="line2d_52">
     <path d="M 327.6000 49.6800 
L 334.0800 49.6800 
L 339.8400 49.6800 
" style="fill: none; stroke: #17becf; stroke-opacity: 0.5; stroke-width: 1.5; stroke-linecap: square"/>
    </g>
    <g id="text_28" transform="translate(-0.3600 0.0000)">
     <text style="font-size: 6px; font-family: 'DejaVu Sans', 'Bitstream Vera Sans', 'Computer Modern Sans Serif', 'Lucida Grande', 'Verdana', 'Geneva', 'Lucid', 'Arial', 'Helvetica', 'Avant Garde', sans-serif; text-anchor: start" x="344.73" y="51.912" transform="rotate(-0 344.73 51.912)">fi-ulv-as49282</text>
    </g>
    <g id="line2d_53">
     <path d="M 327.6000 59.0400 
L 334.0800 59.0400 
L 339.8400 59.0400 
" style="fill: none; stroke: #1f77b4; stroke-opacity: 0.5; stroke-width: 1.5; stroke-linecap: square"/>
    </g>
    <g id="text_29" transform="translate(-0.1800 0.0000)">
     <text textLength="43.036" lengthAdjust="spacingAndGlyphs" style="font-size: 6px; font-family: 'DejaVu Sans', 'Bitstream Vera Sans', 'Computer Modern Sans Serif', 'Lucida Grande', 'Verdana', 'Geneva', 'Lucid', 'Arial', 'Helvetica', 'Avant Garde', sans-serif; text-anchor: start" x="344.73" y="61.392" transform="rotate(-0 344.73 61.392)">fi-hel-as60354</text>
    </g>
    <g id="line2d_54">
     <path d="M 327.6000 69.1200 
L 334.0800 69.1200 
L 339.8400 69.1200 
" style="fill: none; stroke: #ff7f0e; stroke-opacity: 0.5; stroke-width: 1.5; stroke-linecap: square"/>
    </g>
    <g id="text_30" transform="translate(-0.3600 0.0000)">
     <text style="font-size: 6px; font-family: 'DejaVu Sans', 'Bitstream Vera Sans', 'Computer Modern Sans Serif', 'Lucida Grande', 'Verdana', 'Geneva', 'Lucid', 'Arial', 'Helvetica', 'Avant Garde', sans-serif; text-anchor: start" x="344.73" y="70.872" transform="rotate(-0 344.73 70.872)">fi-kaj-as13170</text>
    </g>
   </g>
  </g>
 </g>
 <defs>
  <clipPath id="p02d3b5d28d">
   <rect x="57.6" y="41.472" width="357.12" height="266.112"/>
  </clipPath>
 </defs>
</svg>

</body></html>
